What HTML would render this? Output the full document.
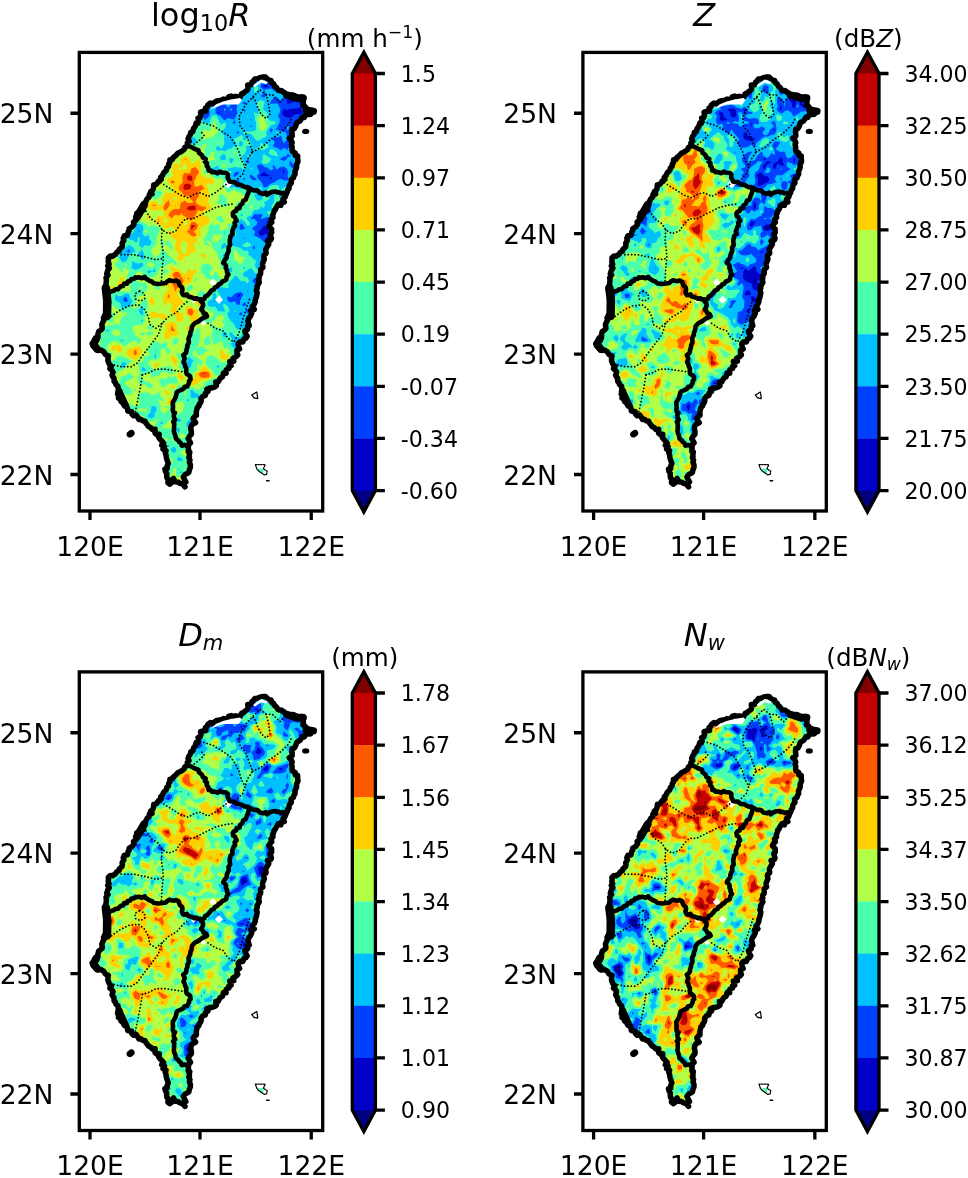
<!DOCTYPE html>
<html lang="en"><head><meta charset="utf-8"><title>Taiwan DSD maps</title>
<style>html,body{margin:0;padding:0;background:#fff}svg{display:block}</style></head><body>
<svg width="968" height="1178" viewBox="0 0 968 1178">
<rect width="968" height="1178" fill="#fff"/>
<defs>
<clipPath id="isl"><polygon points="261.1,76.1 269.3,79.3 275.2,86 282.7,92 287.1,95 296.1,97.9 302,97.2 304.3,104.6 306.5,109.9 313.2,111.3 306.5,115.8 297.6,122.5 292.4,131.4 290.9,140.4 293.1,149.3 297.6,158.2 297.1,165 295.7,171.9 289.7,182.3 286.7,192.7 282.3,203.2 273.3,210.6 271.8,219.5 268.9,225.5 271.8,232.9 267.4,243.3 264.6,255.2 262,267.1 261.1,270 258.9,281.9 256.6,295.3 252.9,308.7 248.5,320.6 245.5,331 246.2,338.5 239.5,344.4 236.5,354.8 230.6,365.2 224,373.5 218,382 212.5,388 203.5,394.5 199,404.6 194.6,416.5 190.9,428.5 189.6,436 189.1,444.9 189.1,454.8 189.6,462.7 188.6,471.7 183.7,476.6 185.6,481.6 184.6,487 179.7,482.6 173.7,480.6 169.8,484.1 166.8,477.6 165.8,469.7 167.8,461.7 165.8,452.8 162.8,444.9 159.8,436.9 153.9,430 151.4,427 142.5,421 132.1,413.6 124.6,404.6 117.9,395.7 117.2,386.8 112,374.9 109,363 108.3,360.1 105.3,352.7 96.4,349.7 92.6,343.8 96.4,339.3 100.5,330.4 103.8,319.9 106.9,309.5 106.9,299.1 105.5,293.2 106.3,279.8 108.3,267.9 108.3,257.4 118.7,251.5 125.8,236.7 131.8,226.3 137.7,215.9 143.9,205.5 149.9,195.1 154.5,186.1 160.5,178.7 166.2,169.8 170.7,160.8 176.4,154.9 183.7,148.9 187,145 190.4,134.4 194.9,125.5 199.3,116.5 206.8,106.9 217.2,101.7 229.1,97.9 239.5,96.5 245.5,92 249.9,83.8"/></clipPath>
<g id="lines" fill="none" stroke="#000" stroke-linejoin="round" stroke-linecap="round">
<path fill="#fff" stroke="none" d="M209.2 282.4l3.8 -3.8l3.8 3.8l-3.8 3.8zM215 299.8l4 -4l4 4l-4 4zM223.5 184l4.5 -4.5l4.5 4.5l-4.5 4.5zM191.1 301l2.4 -2.4l2.4 2.4l-2.4 2.4zM200.7 323l2.8 -2.8l2.8 2.8l-2.8 2.8z"/>
<polygon points="260.4,77.4 263.3,77 265.5,77 266.5,78.2 268.8,80.1 271.1,80.5 271.8,82.9 273.5,83.7 274.9,86.4 276.4,87.3 278.1,90.2 281.8,90.8 282.2,91.6 284.3,92.6 286.6,95.8 290,95.2 292.3,95.1 294.1,95.3 296.6,96.7 298.1,99.3 300,98.2 301.4,97 303.8,97.8 303.1,102 303.4,102.6 302.8,105.4 305,106.5 305.8,108 307,108.7 309.3,110.4 310.2,110.3 312.6,111.8 312,112.5 310.8,114.2 308.8,114.6 305.8,114.6 304.1,117.5 302.2,117.3 300.7,119.8 300.1,120.8 296.9,122.6 296.4,123.7 295.8,125.9 294.4,128.5 292.1,129.2 291.9,131.6 292,133.6 292.3,136 289.2,138.2 291.1,140.1 292.2,142.6 291.5,144.3 292.1,146.9 292,149.9 292.5,151.6 295.2,152.9 295.1,155.3 297.7,156 297.6,158 298,161.3 297.6,162.4 296.5,164.9 296.6,167.7 295.7,169.7 294.9,171.6 295.1,174.1 293.7,176.4 293.4,177.9 291.1,179.7 291.3,182.9 289.7,184.8 289.1,186.1 289,188.6 287.6,190.3 287.2,192.2 286.1,194.1 285,197.3 282.9,199.3 284.3,202 281.3,202.6 280.9,205.4 278.2,204.4 276.2,207.6 275.3,209.8 274.3,210.4 273.6,213 272.6,215.5 273,217.4 270.9,219.4 271.8,222.3 270.2,223.8 268.8,226.1 269.2,226.6 271.6,229.1 271.5,231.4 271.7,232.5 270.2,234.3 271.4,238.6 270.6,240.1 267.5,241 268.8,244.1 268.3,245 266.7,247.7 265.7,249.5 265.9,251.2 266.1,253.3 264.1,255 263.8,256.8 264.3,259.3 263.4,261.4 262.5,263.9 262.6,265.1 262.9,267.4 260.6,269.6 260.7,272.3 260.5,273.8 259.1,275.8 259.2,278.4 258.3,279.6 259.3,282.1 258.8,283.3 257,286.2 257.2,288 256.3,290.4 257.2,292.5 256.8,295.2 256.1,297.8 255.2,300.2 255.3,301.7 254.1,304.5 252.3,306.5 254.3,309.4 250.9,310.3 251.8,313 251,315.1 249.8,317.2 248.9,318.2 247.9,320.9 248.4,322.6 249.2,325.7 247.5,326.1 247.7,329.3 244.8,331 245.3,333 247.2,336.3 245.9,338.2 244.1,338.8 242.8,342 240.1,341.7 238.1,343.7 238.6,346.3 239.6,349.1 236.9,350.3 237,353.3 237.8,354.8 236.1,356.7 233,358.5 233.8,361.2 229.7,361.6 231.1,365.7 228.8,366.6 228.9,368.6 226.2,369.8 226.1,373.2 223.5,373 222.9,375.4 222.5,376.8 220.5,377.9 219.3,379.6 218.1,382 215.8,382.1 216.4,385.6 214.8,387 212,387.9 210.1,387.9 206.8,389.2 208,391.4 205.3,393.3 205.4,395.4 202.9,396.3 201,398.7 201.2,400.8 200.6,402.5 198.9,404.8 199.1,405.8 197.3,407.7 196.4,411.3 196.3,412 196.4,415.5 194.5,416.7 193.2,418.2 193.8,420.2 195.6,422.7 192.2,424.4 191.2,426.3 190.7,428.8 191.3,431 191.4,434.2 189.6,436.2 188.1,438.6 189.4,440.8 190.5,442.9 189,444.2 187.9,446.6 188.5,448.7 188.2,451.4 189.8,452.1 189.2,455.2 189.5,456.5 188.8,457.5 190,460.1 189.4,462.3 190.4,464.9 190.4,467.3 189.5,469.3 188.8,472.4 186.9,473.6 185.3,474.4 183.3,476.9 184.3,479 185.9,482 183.2,483.6 185,486.8 183.3,484.9 182.9,484.2 180,483.3 178,482.1 175.2,481.7 173.5,478.5 171.8,482.7 169.9,484.2 167.9,482.8 168.2,479.1 166.9,478 166.6,475.7 166.8,473.5 165.5,471.7 164.9,469.1 167.2,468.5 167.1,466.2 168.3,463.5 167.5,461.3 167,459.8 166.3,457.4 166,455 165.2,452.7 166,450.7 163,449 164.5,446.6 161.7,445.2 163.6,443.2 161.8,440.9 159.8,439 158.8,437.6 159.2,434.3 156.8,434.6 155,433.1 155.1,429.2 152.3,429.6 151,427.9 148.3,426.3 147.8,425.4 145.7,422.8 145.1,421.3 142.6,420.8 140.9,419.3 139,419.6 137.8,417.5 136.3,415.1 133.4,415.7 131.8,413.9 131.7,411.8 127.7,411 127.4,408.2 126.5,406.2 125.4,404.5 123.5,403.1 120.9,401.4 121.5,399.7 118.4,398 118.9,395.9 117.6,394.1 119.8,390.9 118.2,388.7 117.9,386.2 115.9,384.6 115.3,382.3 114.1,381.3 114,378.1 113.1,377.1 112,375.1 113.1,372.1 112.1,370.5 109.9,368.6 111.4,366.3 109.4,364.5 108.6,362.7 107.9,360.7 108,357.9 108.4,355.9 106.3,355 105.5,354.6 103.7,351.7 100.6,350 97.8,350.5 96.3,349.2 94.7,347.5 93,346 92.2,343.6 94.4,342.6 95.3,340.5 96.8,340.2 98,337 97.9,334.4 98.7,331.5 100.3,330.4 102.2,328.7 102.2,326.8 101.8,324.5 103.1,321.5 104.1,319.6 103.4,317.9 104.7,315.4 106,313.8 106.8,311.8 106.9,308.9 106.4,307.3 108.4,305.3 107.5,303.5 108.7,302.2 106,299.8 107.8,296.6 105.9,295.8 105.8,293.2 105,291.6 104.8,288.6 106.2,286.5 105.8,285.1 106.2,282.5 106.4,279.6 106,277.8 108,275 106.7,273.9 107.9,270 109.3,268.2 107.7,266 109.1,264.2 108.2,262 108.5,260.2 108.3,257.8 110.5,255.9 112.3,256.3 115.2,254.5 117,252.1 119.1,251 119.1,249.5 122.1,246.9 122.4,245 122.1,243.4 123.9,240.2 123.2,238.3 124.3,235.8 127.4,235.5 128.2,231.8 129.1,230.9 129.1,228.6 132.2,226.9 134,224.3 133.5,222.1 136,220.3 136.4,218.7 138.2,216.7 136.8,213.4 140.6,211.8 140.2,211 143.5,209.9 142.4,207.5 143.4,204.5 144.8,203.5 146.3,200.5 147.2,198.8 149,197.2 149.3,194.5 152.1,194 150.7,191.6 152.8,189.9 153.5,187.9 153.7,185 156.1,184.4 157.9,182.2 158.8,180.9 161.3,179.4 160.7,177.2 162.5,175.5 163.6,172.9 165.3,171.2 166.4,170.1 166.7,168.1 168.5,166.5 168.7,163.9 169.8,162.8 169.9,159.7 172.3,159.5 173,157.8 174.9,156.2 176.3,154.9 178.1,153 179.9,152.3 182.6,150.7 184.2,149.4 184.9,147.2 187.4,146.1 187.3,142.9 189.1,141 188,139 189.1,136.3 190.4,134.5 190.7,132.4 192.8,131.7 193.5,128.4 194.4,127.7 195.3,126.1 196.1,123.1 197.9,123.3 198.5,119.6 198,118 200.2,117.5 200.9,115.2 200.5,112.1 203.2,111.3 206,111 205.4,108.1 207.3,106.9 207.8,104.9 210.4,103.1 212.8,103.9 214.6,102.3 216.8,100.9 219.6,100.5 220.9,100.8 223.5,99.1 225.4,99.5 228,98.9 228.6,96.9 231.2,96 232.9,97 235.6,96.3 237.2,96.7 239.8,97.7 241.8,93.4 243.1,93.4 244.9,91.7 247.4,90 248.1,88.2 247.7,85.1 251.1,84.7 252,82.2 253.4,81 254.8,79.1 257.4,78.8 260.3,77.5" stroke-width="5.5"/>
<path fill="#fff" stroke="none" d="M210 109.5L216 104.5L223 101.5L231 99.5L240 98L242 100L238.6 104.6L223 104.6zM253 85.5L261 79.5L268 82L266 84.2L261 82.8L255 87z"/>
<polyline points="105.8,288 107.2,300 107,316" stroke-width="8.5"/>
<polyline points="137,217 144,205" stroke-width="8"/>
<polyline points="96,339 93.5,344 97,349" stroke-width="7.5"/>
<polyline points="287,95 296,98 303,98" stroke-width="7.5"/>
<polyline points="306,110 313.5,111.3" stroke-width="7"/>
<polyline points="119,392 125,405" stroke-width="7.5"/>
<polyline points="186.6,146 188.6,145.9 191.2,147 193.2,148.1 195.4,149.2 198.4,150.1 199,152.9 200.5,153.9 202,155.2 202.9,157.6 205.7,159 204.9,161.7 206.9,163.1 206.7,165.7 208.2,167.5 208.7,170.5 210.7,170.5 211.7,172.2 214.6,172.1 217.4,173.2 220.3,171.6 221.4,172.5 223.7,172.7 226.2,173.1 227.9,174.5 227.6,177.6 228.7,179.6 229.5,181.5 231.7,182 234.3,182.1 237,184.4 239.6,184.7 241.4,185 242.9,186.1 245.8,187.3 247.9,187.1 250,188.4 251.7,189.5 253.6,190.4 256.5,190.3 258.2,191.1 259.6,193 262.1,193.5 263.4,193.8 265.8,192.7 267.1,194.8 269.2,193.2 271.1,192.3 273,191.7 276,191.6 276.8,192.5 279.4,192.4 281.1,193.5 283.1,192.8 285.3,193.9 286.6,193.5" stroke-width="4.6"/>
<polyline points="248.4,188.8 248.9,190.5 248.2,193.1 247.4,195 246.6,197.1 245.8,199.6 243.3,200.8 242.8,202.3 242.1,203.9 240,205.3 239.6,208.1 236.8,208.5 236.3,210.9 233.9,211.8 232.8,213.3 233.2,216.2 234.8,216.8 235.3,218.3 236.7,220.9 234.6,222.8 235.2,225.7 233.9,226.8 233,229.3 232.2,231.5 232.7,233.9 230.5,236.3 230.1,238.8 229.7,240.5 229.8,242.6 230.2,244.8 228.5,247.5 228.7,249.8 228.6,251.4 227.7,252.9 226.7,255.6 226.7,257.6 225.2,259.5 224.1,260.9 223.2,262.9 225.4,264.5 226.1,266.1 225.8,268.2 227.1,270.4 226.9,272.1 228.4,274.5 226.7,276.7 226.3,279.5 224.5,280.7 222.4,281.5 220.3,284 218.9,284.3 217.1,286.5 214.9,287.3 213.9,289.5 211.3,290.6 210.1,292.5 208.5,294.1 207.3,295.6 205.2,296.4 204.4,298.7 203,299.5" stroke-width="4.6"/>
<polyline points="105.9,294.2 107,292.8 109.4,291.9 111.4,291.4 113.5,290.8 115.5,289.4 118.2,289.2 119.2,287.9 120.5,286.6 122.9,286.1 124.2,283.6 126.9,283.7 127.7,281.4 130.2,281 131.5,279.1 134.2,278.7 135.4,277.4 137,277.6 139.5,277.3 141.9,278.3 144.7,276.8 145.5,278.3 147.8,279.7 149.9,281 151.4,281.3 154,283.5 156.5,283.7 158.1,284 160.3,283.8 162.6,283.4 165.9,282.9 167.7,281.2 169.4,280.1 171.2,280.8 174.3,281.2 176.3,280.5 178.5,281.7 179,283.6 179.9,285.5 182.1,287.4 182.5,289.6 181.8,292 183,294.8 184.3,295.2 186.8,294.4 188.2,296.5 190.3,297 192.2,297.6 193.9,298.6 197,298.4 198,299.3 200.6,299.2 200.9,301.5 202.7,302.8 203.1,305 202.4,307.4 201.1,309.5 202.7,310.9 203.6,313.1 206.1,314.2 207.1,316.2 205.7,317.1 203,318 201.1,319.3 199.6,320.5 197,322.2 195.3,322.8 193.6,324.4 192,326.5 191.8,327.9 191.4,330.5 190.3,332.8 190.3,334.8 189.3,336.5 188.5,338.7 188.9,341.3 188.7,343.1 187.5,345.2 187.4,347.3 186.5,349.6 186.4,351.6 185.6,353.2 183.2,355.3 184.8,358.5 184.2,360 183.5,362.2 184.8,364.2 185.1,366.2 186.4,368.6 186.1,371.4 186.6,373.7 188.6,375 190.2,376.5 190.6,379.6 189.1,380.9 189.1,382.8 187.9,385 187.2,386.5 184.5,386.8 183.7,388.6 181.8,389.7 179.9,390.5 177.6,391.5 176.7,392.7 176.3,394.7 175.6,397.3 174.7,399.1 174,400.3 172.8,402.3 172.8,404.5 173,406.9 172.8,409.5 173.1,411.7 175,412.8 173.7,415.3 174,417.8 175.3,419.7 173.2,421.6 174.3,423.8 174.1,425.9 174.1,429.2 173.8,431 174.5,433.5 175.4,435.6 175.7,437.3 175.9,438.7 178.4,440.6 179.2,442 180.7,442.9 181.8,445.7 184.4,445.1 186.8,445.6 189,446.4" stroke-width="4.6"/>
<polyline points="200.5,122 213,125.8 222.9,132 230.3,137 235.3,144.4 239,151.8 241.5,160.5 245.2,166.7 242.7,174 237.7,179" stroke-width="1.75" stroke-dasharray="0.1 3.3"/>
<polyline points="194.3,144.4 200.5,139.4 204.3,135.7 200.5,131" stroke-width="1.75" stroke-dasharray="0.1 3.3"/>
<polyline points="242.7,109.7 239,117 240.2,127 245.2,132 248.9,141.9 252.6,151.8 247.6,159.3 245.2,166.7" stroke-width="1.75" stroke-dasharray="0.1 3.3"/>
<polyline points="242.7,109.7 247,103 252.6,97.3 260,89.8 266.2,94.8 268.7,104.7 270,114.6 266.2,118.4 261.3,114.6 257.6,107.2 255,99.8 252.6,97.3" stroke-width="1.75" stroke-dasharray="0.1 3.3"/>
<polyline points="266.2,94.8 272.4,94.8 279.9,102.2 284.8,97.3" stroke-width="1.75" stroke-dasharray="0.1 3.3"/>
<polyline points="252.6,151.8 262.5,146.9 268.7,140.7 276.2,135.7 282.4,130.7 288.6,124.5 291,119.6" stroke-width="1.75" stroke-dasharray="0.1 3.3"/>
<polyline points="160.9,182.8 170.8,189 180.7,195.2 188.1,197.7 194.3,194 200.5,192.7 208,196.5 215.4,192.7 221.6,187.8 226.6,184" stroke-width="1.75" stroke-dasharray="0.1 3.3"/>
<polyline points="146,211.3 151,218.8 158.4,223.7 162.1,229.9 168.3,233.6 175.7,231.2 180.7,223.7 185.7,218.8 193.1,218.8 200.5,215 208,211.3 215.4,207.6 225.3,205.1 232.8,203.9" stroke-width="1.75" stroke-dasharray="0.1 3.3"/>
<polyline points="162.1,229.9 161.4,241 162.9,251 163.3,258.4 162.1,268.4 161.4,280.8" stroke-width="1.75" stroke-dasharray="0.1 3.3"/>
<polyline points="121.2,254.7 133.6,254.7 146,257.2 155.9,259.7 163.3,258.4" stroke-width="1.75" stroke-dasharray="0.1 3.3"/>
<polyline points="108.8,318.4 118.7,310.9 128.6,306 138.5,304.7 144.7,309.7 148.5,317 149.7,324.5 155.9,328.3 162.1,323.3 168.3,317 177,312 183.2,304.7 188.1,301" stroke-width="1.75" stroke-dasharray="0.1 3.3"/>
<polyline points="139.8,291 144.3,293.5 144.8,298.5 140.5,301.2 135.5,299 134.8,294 139.8,291" stroke-width="1.75" stroke-dasharray="0.1 3.3"/>
<polyline points="162.1,323.3 158.4,334.5 151,344.4 143.5,354.3 137.3,363 131.1,366.7 121.2,366.7 111.3,364.2" stroke-width="1.75" stroke-dasharray="0.1 3.3"/>
<polyline points="142.3,374.9 140.5,386.5 138,398.9 135.3,412" stroke-width="1.75" stroke-dasharray="0.1 3.3"/>
<polyline points="142.3,374.9 148.5,372.9 155.9,369.2 165.8,369.2 173.3,370.4 182,371.7" stroke-width="1.75" stroke-dasharray="0.1 3.3"/>
<polyline points="208,323.3 215.4,328.3 222.9,330.7 227.8,338.2 234,341.9 239,333.2 242.7,319.6 247.6,304.7 250.1,297.3" stroke-width="1.75" stroke-dasharray="0.1 3.3"/>
<ellipse cx="305.7" cy="131.4" rx="3.6" ry="2.7" fill="#000" stroke="none"/>
<ellipse cx="130.6" cy="433.7" rx="4.3" ry="3.3" transform="rotate(-35 130.6 433.7)" fill="#000" stroke="none"/>
<polygon points="251.7,395 256.8,392.1 257.8,398.7 254,397.8" stroke-width="1.3" stroke-dasharray="1.6 1"/>
<polygon points="258.2,468.3 263.4,469 263.4,473.5 260,472.5" fill="#49ffad" stroke="none"/>
<polygon points="255.4,464.6 265.2,464.6 263.4,468.8 267.1,471.1 266.6,474.4 264.3,474.9 258.7,471.1 256.8,468.8" stroke-width="1.3" stroke-dasharray="1.4 1.2"/>
<path d="M266.6 480.7h2.4" stroke-width="1.5"/>
</g></defs>
<g transform="translate(0,0)">
<g clip-path="url(#isl)"><g transform="scale(.5)">
<rect x="160" y="130" width="500" height="880" fill="#000080"/>
<path fill="#0000c8" d="M515 142l2-2 5 0 4 0 2 2 7 0 5 5 2 2 4 4 2 2 5 5 2 2 4 4 2 3 7-1 5 5 2 2 6 0 5 5 2 2 6 0 7 0 4 4 3 2 4 5 2 1 5 5 2 3 4 4 0 7 2 2 5 4 2 2 4 5-4 4-2 2-5 5-2 2-4 4-7 0-2 3-4 4-2 2-5 5-2 2 0 6 0 7 0 7 0 6 0 7 0 6 2 3 4 4 0 7 3 1 5 5 0 7-5 5-2 1 0 7 0 7-5 5-2 1 0 7-5 5-2 1 0 7 1 7-5 5-2 1 0 7 0 6-5 5-2 2-4 5-2 2-5 4-2 2-5 5-2 2 1 6 0 7-5 5-2 2 0 6 0 7 2 2 5 4-1 7-4 4-3 3 1 6-5 5-2 2 1 6 0 7-1 7-4 4-2 2 0 7 0 6 0 7-5 5-2 2 0 6 0 7 0 6 0 7 0 7-5 4-1 2-1 7 1 6-1 7-4 5-2 2 0 6 0 7-5 5-2 1 0 7 1 7-5 5-3 1 1 7 0 6-1 7 1 7-5 5-2 1-5 5-1 2 0 6-5 5-2 2 0 7 0 6-5 5-2 2 0 6-4 5-2 2-5 5-2 2-5 4-1 2 0 7-5 5-2 1-5 5-1 2-5 5-2 2-5 4-2 2-5 5-1 2-5 5-2 1-5 5-2 2 0 7 1 6-5 5-2 2 0 6-5 5-1 2-1 7 1 6-6 5-1 2-1 6 1 7 0 7 0 6 0 7 0 6 0 7 0 7 0 6 0 7 0 6 0 7 0 7-5 5-2 1-5 5-1 2 0 6 1 2 5 5-5 5-1 2-5 5-2 1-5 6-7-1-5-5-1-1-7 0-6 0-7 0-5-5-2-2-5-5-1-1-5-6 0-6 0-7 0-6-1-7 1-7 0-6-1-7 0-6-1-2-5-5 0-7 0-6-1-1-6-6 0-6-1-2-5-5-2-1-5-6-1-1-7 0-5-5-1-1-6-6-1-1-7 0-5-5-1-2-5-5-2-1-5-6 0-6-1-1-6-6-1-1-5-5-2-2-5-5-1-1-5-6-1-6 0-7 1-6 0-7-2-1-5-6 0-6-1-2-6-5 0-6 0-7 1-7-2-1-5-5-2-2-5-5-1-1-5-5-2-2-5-5-1-1-6-6 0-6 0-7 6-5 1-1 0-7 5-5 2-2 0-6-1-7 6-5 1-1 0-7 0-7 5-5 2-1 0-7 0-6 0-7 0-7-2-1-5-5 0-7 5-5 2-1 0-7 0-7 0-6-1-7 1-6 0-7 0-7 0-6 0-7 5-5 1-1 6-6 1-1 5-5 7 0 2-2-1-6 5-5 2-2 0-6 5-6 2-1-1-7 6-5 1-1 5-5 2-2 0-6 5-5 1-2 0-7 5-5 1-1 1-7 5-5 1-1 6-6 1-1 0-7 5-5 2-1 0-7 5-5 1-1 0-7 5-5 2-2 5-5 1-1 6-5 1-2 0-6 5-6 1-1 0-7 6-5 1-1 5-6 2-1 5-5 1-1 6-6 1-1 5-5 2-2 5-5 1-1 1-7 4-5 2-1 1-7-1-7 5-4 2-2 0-7 5-4 1-2 0-7 5-5 2-2 5-4 2-2 0-7 4-4 2-2 5-5 2-2 5-4 2-3 4-4 7 0 2-2 4-5 7 0 7 1 2-3 4-4 7-1 6 1 7 0 7 0 2-2 4-5 2-2 1-7 4-3 1-3 5-5 2-2 5-5 7 1 2-2z"/>
<path fill="#0040ff" d="M515 145l4-5 3 0 2 0 4 3 7 0 3 4 4 3 2 3 4 4 3 3 4 4 2 2 4 5 7-1 3 3 4 3 6 2 2 2 5 4 6 1 7-1 2 2 5 5 2 2 4 3 3 3 4 5 2 2-1 7 5 4 3 2 4 5 2 2-2 2-4 4-3 3-4 4-2 2-7 0-4 5-2 2-4 4-3 3-4 4 0 6 0 7 0 7 0 6 0 7 1 6 3 5 2 2 0 7 5 3 3 3 0 7-3 3-4 3 0 7 0 7-3 3-3 3 0 7-4 3-4 3 0 7 1 7-3 3-4 3 1 7 0 6-4 4-3 3-3 3-4 4-3 3-3 3-4 3-5 4 2 6 0 7-3 3-4 4 0 6 0 7 4 3 3 3-2 7-1 1-6 6 1 6-2 2-4 5 1 6 0 7-1 7-2 2-4 4 1 7 0 6-1 7-3 3-3 4 0 6 0 7-1 6 0 7 0 7-3 3-3 3 0 7 0 6 0 7-3 3-4 4 0 6 1 7-4 3-3 3 0 7 0 7-3 3-6 3 2 7 0 6-1 7 1 7-3 3-3 3-4 3-3 4 0 6-3 3-3 4 0 7 0 6-4 4-3 3 0 6-3 4-4 3-3 3-4 4-3 2-3 4 0 7-3 3-4 3-3 3-3 4-3 4-4 3-3 3-3 3-4 3-3 4-3 3-4 3-3 4-3 3-1 7 1 6-3 3-3 4 0 6-4 4-3 3 0 7 0 6-4 4-2 3-2 6 1 7 0 7 1 6 0 7-1 6 0 7 1 7 0 6 0 7 0 6 0 7 0 7-4 4-3 2-4 4-3 3 0 6 3 3 4 4-4 4-2 3-4 4-3 2-4 4-7 0-4-4-2-2-7-1-6 1-7 0-4-4-3-3-4-4-2-3-4-4 0-6 0-7 0-6 0-7 0-7 0-6 0-7 0-6-3-3-4-4 1-7 0-6-3-3-4-4 0-6-3-3-4-4-3-2-4-5-2-2-7 0-4-4-2-2-5-5-2-2-7 0-4-4-2-3-4-4-3-3-4-4 0-6-2-3-4-4-3-2-4-4-3-3-4-4-2-3-4-4 0-6 0-7 0-6 0-7-3-3-4-4 1-6-3-3-4-4 0-6 0-7 0-7-3-2-4-4-3-3-4-4-2-3-4-3-3-3-3-4-3-3-4-4 0-6 0-7 4-4 2-2 0-7 4-4 3-3 0-6 0-7 4-4 2-2 0-7 0-7 4-4 3-2 0-7 0-6 0-7 0-7-3-2-3-4-1-7 4-4 3-2 0-7 0-7 0-6 0-7 0-6 0-7 1-7-1-6 0-7 4-4 2-2 5-5 2-2 4-4 7 0 3-3 0-6 3-3 3-4 0-6 4-4 3-3 0-7 4-3 3-3 3-3 3-4 0-6 4-4 2-3 0-7 4-4 2-2 1-7 4-4 2-2 5-5 2-2 0-7 4-3 3-3 0-7 4-4 3-2 0-7 3-4 3-3 4-3 3-3 4-4 2-3 0-6 4-4 2-3 1-7 4-4 2-2 4-4 3-3 4-4 2-2 5-5 2-2 4-4 3-3 4-4 3-2 0-7 3-3 4-3 1-7-1-7 3-3 3-3 1-7 3-2 3-4 0-7 3-3 4-4 3-3 4-3 0-7 2-2 4-4 3-3 5-4 2-2 5-5 1-1 7-1 4-4 2-2 7-1 7 1 4-5 2-2 7-1 6 0 7 2 7-1 4-4 2-2 4-5 2-7 1-1 3-5 3-3 4-4 3-3 7 1 4-4zM502 166l0 1 1-1-1 0zM526 173l2 2 7-1 3-1-3-2-7-2zM574 199l0 7 1 1 6 0 1-1 6-2 4-5-4-4-7 2-6 2zM598 206l3 5 5-5-5-3zM567 219l-3 7 3 6 1 1 7 2 6 1 5-4 2-2 6-2 7 1 4-3-2-7-2-5-7 3-6 0-7 1-4 1-2 2-3-2-4-1zM435 226l1 0 3 0-3-2zM561 252l0 1 3-1-3-1zM567 338l-1 7 2 1 1-1-1-7zM527 345l-5 4-1 2 1 2 6-1 7 1 6-2-6-2-5-4-2-2zM540 358l2 1 2-1-2-5zM531 444l4 1 1-1-1-3zM524 457l-2 3-5 3 2 7 3 2 5-2 1-1 7-2 1-4 1-6-2-1-7-5zM532 477l3 4 3-4-3-6zM476 589l-1 6 1 1 0-1 6-6-6 0z"/>
<path fill="#00c0ff" d="M522 140l6 5 7 0 1 2 6 5 0 1 6 5 2 2 5 6 4 7 2 2 2-2 5-1 1 1 6 5 6 2 6 6-6 4-4 3-2 1-6-1-1-1 0 1-3 6-4 2-3-2-3-4-7-1-3 5-3 3-2 4 2 2 6-1 7 0 3 6 3 6-2 7-3 6 4 7-1 7-4 6 0 2-4 5 4 1 6 2 7 2 4 1 2 7 0 7-5 6-1 2-1-2-3-6-1-7-2-1 0 1-6 3-7-1-3 5 3 3 2 3-2 3-2 4 2 2 7 2 3 2 3 3 4-3 3-2 5 2 2 5 0-5 6-5 7 1 4-2-4-5-6-2 4-6-4-7 2-7-1-6 5-3 4-4 2-3 7-2 1 5-1 1-6 6 0 6 0 7 0 7-1 6 1 7 1 6 2 7 0 7 3 3 7 2 1 1 0 7-1 2-6 4-1 7 2 7-2 1-5 5 0 7-2 2-6 3-7-1-3 2 2 7 1 2 7-2 1 7-1 1-5 5 0 7 0 6-2 2-5 5-1 1-6 6-1 1-5 5-2 2-6 3-2 2 2 2 1 4 0 7-1 2-5 5-1 6 0 7 6 5 1 1-1 4-7 0-6-2-1-2 1 0 3-6 0-7-2-6-1-3-3-4-4-3-7 2-2 1-4 1-1-1 1-1 3-6-3-2-7 1-6-1-1 2-6 7-1 0 1 1 7 0 6 6-2 6-4 3-5 4 5 5 1 1-1 5-2 2 2 1 6 3 5 3 2 1 5 5 1 1 7 5 3 1 4 0 2 6 0 7-2 7-5 6 1 7-1 6-1 7-1 1-5 6 0 6 0 7-1 6 0 7 1 7-2 1-4 5-1 7 0 6 0 7-1 1-6 6 0 6 1 7-2 2-5 4 0 7 0 7-1 1-7 1-7-2-3 6 3 6 7-2 1 3 0 6-1 5-7 0-2 2 2 2 7-1 2 6-2 1-5 5-2 2-4 5-1 6-1 2-5 5 0 7 0 6-2 2-5 5 0 6-1 2-5 5-2 2-6 5-1 1-4 5 0 7-2 2-6 4-1 2-4 5-2 2-6 5-1 1-5 5-2 2-5 5-1 1-5 5-2 2-5 5-1 7 1 6-1 2-5 5 0 6-2 2-4 5-1 7 1 6-3 2-4 5-2 6 1 7 0 7 1 6 0 7 0 6-1 7 2 7 0 6-1 7 0 6 0 7 0 7-2 2-4 4-3 3-4 4 0 6 4 4 3 3-3 3-4 4-2 2-4 4-3 3-7 0-2-3-4-4-7 0-6 0-7 0-3-2-4-4-2-3-4-4-3-3 1-6-1-7 1-6-1-7 1-7-1-6 0-7 0-6-4-4-2-3 0-7 0-6-4-4-3-3 0-6-4-4-3-3-4-4-2-3-4-3-7 0-3-3-3-3-4-4-3-3-7-1-2-2-4-5-3-2-4-4-2-3 0-6-4-4-3-3-4-4-3-2-4-4-2-3-4-4-3-3 0-6 0-7 0-6 0-7-4-4-2-3 0-6-4-4-3-3 0-6 0-7 1-7-5-3-3-3-4-4-2-3-4-5-2-1-5-5-2-2-4-4-3-3 0-6 0-7 3-2 4-4-1-7 3-3 4-4 0-6 0-7 3-3 3-3 1-7 0-7 2-2 4-4 0-7 0-6 1-7-1-7-4-4-2-2 0-7 2-2 4-4 1-7-1-7 0-6 0-7 0-6 0-7 1-7-1-6 0-7 3-3 3-3 4-4 3-3 3-3 7 1 5-5 0-6 1-2 5-5 0-6 2-3 5-4-1-7 3-2 5-4 1-1 5-6 0-6 2-2 3-5 0-7 3-3 4-3 0-7 3-3 3-3 4-4 3-3 1-7 2-2 4-4 0-7 3-2 4-4 0-7 2-2 5-5 2-2 4-4 3-2 3-5 0-6 3-3 4-4 0-7 3-3 4-3 2-3 4-4 3-3 3-3 4-4 3-3 3-3 4-4 3-2 4-4 1-7 1-1 6-5 1-7-1-7 1-1 5-5 1-7 1-1 4-5 1-7 1-1 6-6 1-1 5-5 1-7 4 0 3 4 2 3 1 6 3 7 1 1 1-1 5-4 2-3 2-6-2-7 4-6 1-4 0-3 0-4 0-3 6-5 2-1 5-1 5 1 2 5 1 1-1 1-3 6-4 6-2 1-3 6 0 7 5 4 5 2 2 2 4 5 2 2 3-2 4-3 6 2 7 1-4 7 4 2 2-2-2-7 3-7 3-6-2-7 1-6 1-7-1-7-1-6 3-5 6 1 2-3 0-6 4-7 1-2 6-1 7 2 7-3 6-3-6-6-7 2-7 2-1-4 1-2 5-5 2-1 7 1 6-4 1-2 5-7zM523 166l-1 4-1 3 1 2 6 5 7-2 7-1 4 3 2 3 2-3-2-2-2-5-3-7-1 0-7-1-7-2zM495 180l0 6 0 1 2-1 1-6-3-1zM527 186l-5 6-1 1 1 0 6 2 3-2 0-7-3-6zM484 206l5 3 4-3-4-2zM487 219l2 7 2-7-2-1zM501 239l1 2 1-2-1-1zM482 246l1 0-1-1zM500 252l2 2 3-2-3-1zM540 259l1 6 1 2 0-2 4-6-4-2zM473 265l3 3 2-3-2-3zM494 272l1 1 4-1-4-1zM378 285l5 1 2-1-2-2zM515 292l0-1zM573 312l-5 1-7 4-1 1 1 1 7 3 6-4 1-4 6-1 0-1 0-1-6-4zM494 325l1 1 5-1-5-7zM579 325l0 6 2 2 6 5 1 1 6 0 3-1 1-7-3-6-1-1 0 1-6 4-5-4-2-5zM514 331l1 6 1 1 3 7-4 5-1 1 1 4 1 3 6 5 1 1 3 7 2 4 7-2 2-2 5-4 6-2 1-1 6-4 6-2 0-1 1 1 6 3 7 0 2-3-2-7 2-6-2-5-1-2-6-5-7 1-6 4 0 1-3-1-3-7-1 0-3 0 2 7-5 3-4-3-3-3-7-1-2-3-4-3-7 2zM471 345l-2 1-2 5 2 4 4-4 3-2 2-4-2-2zM499 351l3 7 7 3 5-3-5-3-4-4-3-2zM486 358l3 3 1-3-1-3zM467 364l2 1 7 2 4-3-4-5-7 4zM561 364l1 0-1-3zM522 384zM480 450l-1 7 3 3 7-2 1-1-1-2-3-5-4-4zM276 463l2 1 1-1-1-3zM487 477l2 1 1-1-1-2zM505 496l4 3 1-3-1-6zM253 503l5 2 2-2-2-5zM528 503zM508 510l1 0 0-1zM521 549l1 1 1-1-1-1zM510 556l-1 0-5 6 5 5 6-3 3-2-1-6-2-2zM494 582l1 2 1-2-1-1zM468 589l-6 6-6-2-2 2 2 6 0 1 6 3 7-3 5 7 2 1 4-1 0-7 2-4 1-3 4-6-5-5-6 1-7 3zM510 589l5 2 2-2-2-2zM247 595l0 7 4 2 5-2-3-7-2-2zM429 602l0 1 3-1-3-1zM484 609l5 4 4-4-4-5zM507 609l2 0 2 0-2-5zM491 622l4 4 5 2 2 1 1-1 1-6-2-3-7 0zM477 628l5 3 3-3-3-4zM475 635l1 1 0-1 0-2zM470 688l6 2 1-2-1-4zM403 807l2 0-2-2zM449 186l7-1 6 0 3 1-2 7-1 3-5 3 5 5 1 2-1 1-3 6-3 2-3-2-1-7 3-7-6-3-4-3 4-7zM594 193l7-4 5 4-5 2-7-2zM614 198l2 1 5 7 0 1-7 0 0-1-6-7zM403 212l5 1-5 3-1-3zM449 216l3 3-3 4-1-4zM462 216l3 3-3 3-2-3zM608 218l6-1 2 2-2 2-6-1-1-1zM627 219l1 0-1 3-1-3zM601 232l7-1 1 1-1 2-7 1-2-3zM621 229l6-2 2 5-2 2-6 5-1 0-3-7zM608 243l0 3-4 0zM575 251l3 1-1 7-2 2-1-2 0-7zM535 450z"/>
<path fill="#49ffad" d="M528 146l4 1 3 6 0 4-7-3-1-1-4-6zM509 173l6 0 1 0 0 7-1 2-6 3-1-5 0-7zM575 179l1 1 4 6-5 4-4-4 2-6zM489 192l1 1-1 1-1-1zM535 199l0 1-1-1zM515 204l7-4 6 3 2 3-2 2-1 5-1 6 2 2 7 5 0 1 1 5 1 7 5 3 6 0 4 4-4 3-6 1-1 2-6 7 0 1-3 5 2 7-6 3-6 3 0 1-7 3-4-3-2-2-3-5-4-4-7-1-6 3-2-5 2-1 6-1 7 0 7-1 3-3 0-7 0-6-2-7 0-7-1-4-2-2 2-2 1 2 5 2 2-2 0-7-2-3-1-3-2-7zM429 230l5 2 2 6 1 1 3 7 3 4 3-4 3-1 2 1 1 6-3 5-2 2-4 6 6 7-1 7 1 6-2 7-4 6-6-6-1-1-1 1-4 6 5 4 7-2 6 3 7-4 2-1 4-1 7-5 4 0 0-7-4-4-2-2 2-1 7-4 4-2 2-2 5 2-1 7 3 2 2-2 4-2 4 2 2 6 1 3 2 4-2 1-3-1-4-1-3 1 1 6-2 7-2 3-6 4 2 6 2 7 2 1 4 5-3 7-1 1-3-1-4-3-6 0-7-1-7 2-6 1-1 1 1 4 6 0 1 3-1 1-4 5 1 7-3 5-2 1-2 7 4 2 6 3 7-2 7 3 5 1 1 0 1 0 3-7 3-1 2 1 4 2 6 5-2 6 3 3 4-3-3-6 6-3 5 3-3 6-2 7 3 6 3 4 7 0 2-4 4-5 1-1 3-7 3-6 6-7 1 0 6-1 7 0 2 1 2 7 1 6-2 7 2 6 1 2 4 5-1 7-3 3-4 3-2 0-7 5-3 2 3 5 4 1-4 3-6-2-2-1-5-4-3-2 3-1 7-2 2-4-1-6 5-7 0-7 1-6-1-2-6-2-3 4 0 6-4 4-7 3 2 7-2 5-6-4-2 5-5 3-6 0-3 4-3 6-1 1-7 3-2 3 2 3 4 4 1 6-5 2-1-2-4-6-1-1-7-5-6 6 0 6 0 2-6 5 0 6 3 7-4 1-7 1-2 5 2 6 1 0 0 7 6 3 7 1 4 2 2 1 7 5 6-1 2 2 0 7 5 3 3 3 4 3 4 4-4 6 3 7 3 2 4 5-4 4-6-1-1-3-6-7-7 4-4 3-2 1-4 5 4 5 6 1 1 1 2 6-3 5-6-5-3 0-4 1 0-1-6-6 0-2-7-3-2 5-5 5-2 1-3 7 0 7-1 0-5 0-2-1-6 0-7-3-2 4 1 6 1 1 3 6 4 6 1 0-1 1-7 1-3-2-1-6-3-5-3 5 0 6-3 4-7 3-1 7 1 2 7 3 6-1 3 2 4 7 7 1 6 0 2-1-2-2-2-5-1-6 3-2 2 2 5 4 1 2 2 7-3 4-2 2 2 4 1 3 5 7 0 1 6 5 1 2 2 5 5 4 6-1 4 3-1 7-3 5-6 2-7-3-4-4-3-4-4 4 4 7 4 6-4 6-2 1 2 1 4 5 3 3 7-1 6 1 1 4 0 7 0 6-1 1-5-1 0-6-1-1-1 1 0 6-2 7-4 5-1 1-6 3-4 4-2 2-7 4-1 1-5 4-2 2 2 1 6 6-6 4-3 2 3 3 0 4 0 1-7 4-4 2-3 3-2-3-4-7 0-1-1 1-2 7 3 5 2 1-2 7-1 0-6-6-6 6 0 1-7 5-7-5-2-1-4-1-5-6-2 0-2 0 0 7 0 6 2 4 7-2 6 2 2 3-2 7 5 6 2 2 1 5-1 6 0 1-6-1 1-6-2-1-1 1 0 6 1 1 1 6 0 7 0 6-1 1-5 6-1 3-5 3 4 7-1 7 2 1 1 5 0 7-1 6 0 5-1 2 1 0 1 7 0 6 0 7 0 6 0 7 0 7-1 1-6 5-1 1-5 6-1 6 6 6 2 1-2 1-5 6-1 1-5 5-2 2-7 0-1-2-5-5-7 0-6 0-7 0-2-1-5-5-1-2-5-5-1-2 0-6 0-7 0-6-1-7 1-7 0-6-1-7 0-6-5-6-1-1 1-7-1-6-5-5-2-2 1-6-6-5-2-2-5-5-1-2-5-4-7 0-2-2-4-5-3-2-4-4-7-1-1-1-5-6-1-1-6-5-1-2 0-6-5-5-2-2-5-5-2-1-5-6-1-1-5-6-1-1-1-6 0-7 1-6 0-7-6-6-1-1 1-6-6-6-2-1 1-6 0-7 1-7-7-5-2-1-5-5-1-2-5-6-7-6 0-1-6-5-2-2 0-6 1-7 1-1 5-5 0-7 1-1 6-6 0-6-1-7 2-1 4-5 1-7 0-7 1-1 5-5 0-7 1-6 0-7 0-7-6-5-1-1 0-7 1-1 6-5 0-7-1-7 0-6 0-7 0-6 1-7 1-7-2-6 0-7 2-2 5-4 2-2 5-5 1-2 7 1 6-2 3-4-3-6 6-7 0-6 1-1 6-6 0-7 1 0 3 0 1 7 2 1 6 6 1 2 6 1 5 3 2 2 5-2-1-6 3-4 2 4-1 6-1 7 6 6 7-6 6 2 4-2 2-7-5-6 0-7-1 0-6 3-5-3-1-7 2-6-2-7-1 0-6-3-7 3-1 0 1 6 0 1-4 6-3 5-4-5-2-1-4-5 4-7-1-6 1-1 4-6 0-7 2-2 5-4 0-7 2-2 5-4 2-2 4-5 1-7 1-1 6-5 0-7 1-1 6-5-1-7 1-1 6-6 1 0 6-6 1-1 4-6 1-6 1-2 5-5 0-7 2-1 5-5 1-2 5-5 2-2 4-4 3-3 4-4 2-2 5-5 2-1 5-5 1-6 7 3 7 0 6-1 7 0 3-3 0-6-3-3-7-3-3-1 1-7-3-6 2-7 3-6 0-3 7 0 6-3 7 2 7 3 2 1 4 1 3-1 2-7 2-5 0-2zM478 285l0 7 4 1 3-1 1-7-4-4zM441 312l-1 6 3 2 6 0 4-2-2-6-2-4-6 2zM458 318l2 7 2 2 2-2 4-7-6-2zM435 331l-6 4-6 1-1 2 1 0 6 2 4 5-1 6 4 1 1-1 5-6-4-7-2-7zM443 345l6 5 6-5-6-3zM481 430l1 3 5-3-5-2zM449 463l0 7 1 0 0-7-1 0zM443 490l0 3-1 3 1 2 5-2 1 0 5-6-5-4zM248 496l-3 4-2 3-4 7 0 6 4 7 2 2 6-2 1 0 4-7 2-5 0-1 6-4 7-3-4-7-3-3-6-3-7 5zM281 503l-3 1-2 6 2 1 4 5 2 5 5-5 0-6-3-7-2-6zM445 510l1 6 2 7 1 1 1-1 4-7-2-6-3-3zM264 523l0 6-1 7 1 1 7 3 7-3 2-1 4-2 3-5-3-4-6 2-7-1-4-3-3-1zM413 536l3 1 1-1-1-1zM459 536l-2 7 5 2 2-2 1-7-3-2zM475 536l1 0 1 0-1 0zM486 536l3 3 1-3-1-2zM294 543l3 5 7-5 7 1 0-1 0-6-7 5-7-2zM260 556l4 5 1-5-1-3zM270 582l1 1 1-1-1-1zM231 589l-1 6 1 6 1 1 6 2 4 5 1 6 2 1 6 0 2-1 5-2 4-4 2-6 1-1-1-1-4-6-1-6-1-1-7-1-3 2-3 2-7 2-6-4-1-1zM282 615l-4 6-1 1 1 2 3 4 3 3 3-3-1-6 0-7-2-2zM251 642l0-1zM280 642l4 1 2-1-2-3zM211 661l1 1 6 1 1-2-1-1-6 0zM444 668l3 7 2 0 1 0 5-7-6-5zM240 681l5 2 1-2-1-2zM277 681l1 0zM310 701l0 7-2 6 3 2 2-2-2-6 0-7 0-1zM368 708l2 4 3-4-3-2zM376 714l-1 7-3 6-2 4-3 3 3 1 7 1 5-2 1-7 4-6-4-3-6-4zM215 727l3 7 0 1 1-1 0-7-1 0zM243 727l-1 7 3 2 2-2 4-5 2-2-2-2-6-1zM284 734l-1 7 1 1 7 0 3-1-3-3-6-4-1 0zM432 734l4 1 3-1-3-4zM257 754l1 0 0-1zM350 760zM303 800l1 0zM373 800l4 3 2-3-2-2zM303 813l-1 7-1 6-4 3-2 4 2 2 7 2 5-4 0-7 2-1 2-5-1-7-1 0-7-1zM343 813l1 1 0-1zM354 840l3 5 6-5-6-4zM378 840l-1 1-4 5 0 7 4 5 4-5 0-7 2-3 7-3 0-1-7-3zM319 846l5 2 2-2-2-3zM352 859l5 7 3-7-3-4zM316 873l1 1 1-1-1-2zM364 886l6 3 1-3-1-2zM333 892l4 2 3-2-3-2zM341 899l3 5 6 2 3-7-3-5-6 1zM353 919l4 3 6 0 3-3-3-3-6-2zM357 932l0 7 0 2 1-2-1-7zM381 932l2 2 1-2-1-1zM358 945l5 1 3-1-3-3zM482 232l1 0-1 1 0-1zM495 232l2 0-2 2-2-2zM482 256l3 3-3 3-2-3zM555 264l2 1-2 4-3-4zM522 285l6 4 7-1 3 4-3 4-4 2-3 3-6-2-7 1-6-1-1-1 1-1 6 0 5-5zM542 298l6 2 5 5 2 5 1 2-1 1-4-1-3-1-6-1-5-5zM588 303l1 2-1 3-7-3zM495 310l7-1 3 3-3 1-7 0-2-1zM528 307l5 5 2 1 7 4 1 1-1 1-4 6-3 2-7 1-5-3 3-7-1-6zM608 320l0 5-6 0zM502 335l3 3-3 2-1-2zM601 344l0 1-3 0zM594 347l1 4 0 7-1 0-4 0-1-7zM522 372l2 6-2 1-6-1zM568 375l7 0 0 3 0 1-3 5 3 2 6 1 1 4-1 6-6 0-7-4-1-2-3-7-1-6zM555 436l0 1-1 0zM489 487l6-3 7 4 1 2-1 1-7 3-6 0-5-4zM522 496l0 5-1-5zM542 494l0 2 0 7 0 2-6-2 0-7zM528 516l7 0 1 7 0 6-1 4-4 3-3 5-3-5-3-7 0-1-1-5 1-1 6-6zM528 548l0 1 1 7-1 1-3-1 3-7zM522 568l1 1 2 7-3 6 0 2-3-2-3-6 0-7zM489 594l4 1-4 1-1-1zM469 621l6 1-6 1-1-1zM509 622l6-3 1 3-1 0-6 0zM502 674l0 1-2 0zM489 678l6 3-5 7-1 4-7-1 0-3 0-5 1-2zM456 746l0 1 0 7-6 0 3-7z"/>
<path fill="#b1ff46" d="M575 186l-1 0zM522 231l5 1 1 4 1 3 3 7 3 6-5 7-2 3-6-2-2-1-2-7 1-6-4-6 0-1 0-1 5-6zM429 239l1 0 1 7 0 6 4 7 0 6-6 5-1 2-5 3-7 1-6 3 0 2-3-2-3-7 1-7 3-6 2-1 1 1 5 4 6-4 0-7 1 0 4-6 2-7zM443 283l1 2-1 3-3-3zM495 283l2 2-2 1-1-1zM383 291l3 1 4 4 5-4 1-1 2 1 5 6 2-6 5-6 4 6-4 6-6 0 6 4 1 3-1 1-6 6 6 4 6-2 5-2 1-7 1-1 6 0 1 1-1 2-3 5 3 3 2 3-2 2-6 1-7 1-5 3 2 6-3 7 0 1-4 6 4 3 6-3 0-1 4 1 3 2 0 4 6 5 7 2 7-2 2 2 2 6-2 7 4 5 2 2 3 6 2 2 3-2 3-1 7-4 6 5 1 1 6 0 5 6 2 1 1-1 5-3 3 3 1 6-1 7-3 3-6 0-6-3-1-3-6 3-1 0-4 7 5 3 5 3-5 4-7 2-1 1 1 1 5 5-5 7 0 7-7 3-6 1-1 2 1 5 1 2-1 1-7 0-6 4-3-5-1-7-3-3-5 3-2 2-2-2-4-4-3 4-3 7 0 6-1 1-3 6-3 6-2 1 0 6 2 7 6 1 5-1-5-3-5-4 5-2 4 2 3 4 1 3 1 6 4 4 3 3 3 7 1 1 1 5 3 7 1 6 0 7 2 0 6 4 2 3-1 6 6 4 5 3-5 3-7 1-6 2 0 1-2-1 0-6-5-7-7-6-2 6-4 3-4-3 1-6 3-2 3-5-3-3-3-4-4-2-6 1-6 1-1 2 0 5-1 7 1 3 4 3 3 4 1 3 5 2 7 1 6 1 7 2-3 7-4 5-5 2 0 6-1 2-5 5 0 6-2 1-5 6 0 7-1 3-2 3 2 4 6 0 4 3 3 2 6 4-6 7 0 4-7-3-1-1-5-5-4-2-2-6-1 0-1 6 1 3 2 4-2 3-2 4 2 2 7 3 6-3 7 4-2 7 2 2 4 4-4 6-1 1 1 2 0 5 2 6 1 7 3 2 2-2 5-2 7-4 3 6 0 6 3 3 7-2 3 6 3 6 1 1 1 6-2 1-6 6-7 5-6-1-5-4-2-2-7-5-6-3-7 1-1 2-3 7-1 6 5 6 2 1 5 6 1 1 4 6 1 4 7-1 4 4-4 3-7-2-6 4-4 1-3 3-6 2-2 2-2 7-3 2-7 3-6-2-7-2-6-1-5 6 0 7-2 5-1-5-1-7-2-6-3-2-6-4-1 6-6 5-2 1-2 7 4 3 6 3-4 7-2 3-2 4-4 1-7 5-7-1-1 1 1 2 7 0 1 5-1 1-6 5-1 3-1-3-5-2-3-4 1-7-3-6-2-6-1-1 1-1 2 1 5 2 6-2-6-3-3-4-2-6-2-4-4 4-2 1-7 3-5-4-2-2-6 0-7 1-6 0-2 1 0 6 2 6 0 1 2 7-2 3-7 2-7-2-5-3-1-1-1 1-6 6-1 0-5 1-1-1-6-6-6-7 1-7-2-4-6 1 0-3 0-7 0-2 6-4 7 5 1 1 2 7 4 5 6-3 7 0 6-2 0-7-6-6-1 0-6-5-4-2 4-3 6-4 1 0 6-2 4-4-4-5-4-2-2-1-1 1-6 5-6 0-4 2 0 6-3 4-3 3-4 6-6-6 4-7 1-6 1-1 3-6 4-6 7-1 6-5 1-1 6-6 0-1 6-6 1 0-1 0-6-1-7-5-3-1-3-1-7-1-5 2-2 5-6 2-7-5-6 0-5 5-2 0-6-7 6-3 7 0 6 1 7-3 1-1-1-1-7-2-3-4-1-7 3-6 1-1 7-4 6-1 7 3 4 3 3 2 6 2 5-4 2-2 6-3 6-2 1 0 7 7 5-7-5-6-3 0-4-4-2-3-3-7-1-6 6-5 7 0 6 0 2-2 4-6-1-7 2-2 3-5-1-6 2-7 1-6-3-7-2-5-6 5-1 1-5 6-1 1-5 5-2 3-7-2-1-1 1-1 6-5 1-2 3-5 0-7 4-5 6 2 3-3 2-7 2 0 5-6-3-7-2-5-7 3-6-4-3-1-4-2-1-4 1-6 0-1 5-6 2-1 4 1 2 2 1 4 0 7 6 3 6-2 2-1 5-2 7-2 3-3 3-6 3-7 4-2 6 0 5-5 2-1 7-4 5 5 1 1 6-1-5-6-1-1-6-6-7-6-1 0-4-7-2-1-6-6 5-6-1-7-4-6-4 6 3 7 0 6 0 7-5 7-1 0-6 6 0 1-1-1-3-6-3-5-2-2 2-5 1-2 6-5 1-1 2-7-1-6 3-7 1-3 2-4 0-6-2-2-6-3-7-2-7 4-2-4-4-3-7-3-1 0-5-4-3 4-4 2-7 1-2-3 1-7 1-7 6-6 0-7 1 0 6-6 1-1 6-6 0-5 2-2 5-5 6 1 7 1 2 3 5 2 3-2 3-2 5-4 2-5 1-2-1-1-7-1-6-1-5 3-2 4-3-4 1-6 0-7 2-1 7-5 0-1 3-6 2-7 1-6 0-1 6-6 0-7 1 0 6-6 6-7 1 0 5-6 2-2 5-5 1-1 7-6 6-5 7 3 7 2 3-6zM331 338l-1 0-3 7 0 6 3 5 5-5 2-2 2-4-1-7-1-2zM436 391l4 6-4 5-3 2 3 3 7 3 0 1 6 3 7-2 6-1-6-3-3-4 1-7-5-5-2-1-4-2zM431 437l5 3 5 4 2 1 6-1 1 0-1-1-4-6-2-6-7 3zM333 483l-2 7 6 1 3 5 4 5 1-5-1-6-2 0-2-7-3-2zM383 523l1 0-1-2zM325 543l-1 3-2 3 2 6 1-6 5-2 7-4-7-6zM317 556l5 0-5-1zM389 556l0 6 1 1 2-1 2-6-4-2zM308 576l3 2 6 1 4-3-4-3-6-1zM373 576l2 6 2 4 1-4 5-3 4-3-4-6-6 2zM396 576l1 0-1-1zM401 582l-5 4-1 3 1 3 4 3 3 1 3-1 4-2 3-4-3-4-5-3-2-2zM316 602l1 1 1-1-1-1zM376 602l1 2 3-2-3 0zM370 609l3 0-3-1zM381 609l2 0 2 0-2-5zM316 615l1 1 1-1-1-1zM375 642l2 2 0-2 0-2zM303 648l-6 5-2 2 2 4 7 1 1-5 0-7-1-1zM363 655l0 1 1-1-1-1zM396 655l-5 6-1 2-7 4-1 1-5 4-2 3-3 6-1 7-1 1-4 5 2 7-5 7-6-2-5 2 4 6 1 2 3 5-1 6 0 7 4 7 1 0 6-1 7 0 1 1-1 6 0 6-1 1 1 0 6 2 3-2 0-7 4-4 4-2 0-7 2-7 0-1 2 1 5 2 3-2-3-6-7-4-3-3-3-1-5-5 3-7 2-3 1 3 4 7 1 3 7-1 3-2 4-5 6-1 4-1-4-1-6-3-3-3-4-2-4 2-3 2-3-2 3-3 2-3 1-7 1-6 0-7 0-7-2-6-2 0zM280 668l4 4 7-4 6 3 7-2 3-1-3-5-7 0-6 5-7-3zM411 675l-1 1-2 5 0 7 2 3 6-1 5-2 0-7 0-6-5-3zM345 681l0 7 5 2 2-2 5-5 1-2-1-3-7-1zM303 688l-3 6-3 2-1 5 1 4 3 3-3 4-6 0-4 2 0 7-3 3-6 1-2 2 2 5 0 2 0 7 2 6-2 4-3 3 3 6 1 7 5 2 7 0 4 5 2 2 7 0 3-2-3-5-2-2-5-4-6 1-3-4-4-4-4-2 4-3 7-3 1-1 5-2 5 2 0 7 2 2 4-2 3-4 6 3 4-6 3-2 6-2 7 3 3 1 4 2 2-2 2-6-4-3-4-4-3-3-6 3-1 1-2-1-4-1 0 1-7 5-5 2-1 1-1-1-6-4-2-3-5-4-2-3 2-2 3-4 4-4 6 4 1 0 1 0 5-4 3-3 1-6 0-7 3-4 6 1 1 3 5 7 1 1 1-1 3-7-4-4-5-3 4-6-6-4-6 4 0 1-1-1-6-3-6-3-7 4zM336 754l-6 6-6-4-7 4 4 7 2 7 1 0 1 0 5-2 7-5 1 0 6 0 1 0 5 0 6 0-1-7-4-6-1-3-3 3-3 1-5-1-2-4zM266 780l5 3 1-3-1-2zM469 303l2 2-2 3-3-3zM449 328l3 3-3 5-6-5zM555 404zM502 410l5 1-4 6-1 3-2-3 1-6zM291 460l6 3-6 3-2-3zM429 468l6 2 1 1 2-1 5-3 0 3 0 5-1 2-6 5-2 1-5 3-4-3 0-6 2-7zM456 477l1 6-1 2-3-2zM271 496l7-1 1 1-1 1-7-1zM218 503l4 0 0 7 3 1 6 0 4 5 3 6 0 1-7 3-3 3 3 2 5 5 2 3 4 4 3 3 1-3-1-6-1-1 1 0 2 0 4 0 7 5 1 2-1 1-3 5-1 7 0 6 4 4 2 3 1 7 0 6-3 1-7 0-6-1-7 1 0-1-7-2-2 2-4 4-7 0-4-4-2-1-7-5 2-7-2-4 0-3-1-6 0-7 0-6 1-7 5-7-5-5 0-1-1-7 1 0 6-6 1-1 6-6zM469 500l3 3 4 3 2 4 4 3 7 2 3 1-3 1-4 6-3 6-6-4-3-2-4-5-1-2-1-6 0-7zM271 515l2 1-2 1-2-1zM528 522l7 1-5 6-2 1 0-1-1-6zM251 529l3 0-3 5-1-5zM297 525l7 0 5 4-5 6-7-2-3-4zM482 541l2 2-2 1-2-1zM284 572l2 4-2 3-5-3zM205 588l3 1 4 2 6 0 6 4-6 4-6-2-7 1 0-3-2-6zM205 609l7 3 4 3 2 3 1-3 6-4 6 4 0 1 7 4 3 2 4 5 6-4 3 5-3 3-6 2-1 2-3 7-2 6-1 3-3-3-4-2-3 2-3 2-7 1-6 1-7 2-2 1 2 4 0 2 0 7-7 3-6-3 5-7-1-6-4-3 0-4 6-6 0-7 0-7 7-6-1-7zM218 628l-6 7-7-2-2 2 2 2 7-2 3 7 3 3 7 0 2-3-1-7 3-7-4-3-7 2zM436 630l7 0 6 5-5 7 4 6-2 7-3 1-7 1-2-2-5-3-6-4 1-6 5-2 3-5zM231 658l7 3 3 7-3 4-7-1-6-2-1-1 1-4 1-3zM185 668l5 0-5 2 0-2zM251 674l2 1-2 2-2-2zM198 677l4 4-2 7-1 6 1 7-2 2-6-1-2-1-5-5-4-2-2-2-1-4 1-3 6 3 1 0 6-1 4-6zM383 688zM225 738l1 3 1 6-2 5-2-5 1-6zM357 804l6-2 5 5 0 6-2 7-3 4-2 2-4 2-7 0-6 2-3-4 3-2 2-4 4-5 1-2 1-6zM264 818l2 2 1 6 4 2 7 3 6 0 4 2-1 7 4 3 6-1 7 2 6-4 1-1 5 1-5 6 0 1-3 6 3 3 6 1 2 2-2 2-5 5-1 1-7 0-1-1-6-6 0-1-6-5-7-1-6-6-2-1-5-5-7-1 0-7-2-7 1-6zM278 816l6 2 7-1 4 3-4 4-7-1-6-1-3-2zM370 832l0 1 0 1 0-1zM344 839l0 1 1 6 3 7-4 5-7-2-7 2-6-5 6-3 4-4 3-4 6-2zM363 866l7 4 7 2 0 1-7 0-7 5-5-5zM311 878l1 1-1 0-1 0zM324 874l6 2 7 3 7 0 6-5 5 5-5 4-6-3-7-1-7 4-4 3-2 2-1-2-3-7zM357 886zM383 882l7 4-6 6 1 7 5 5 0 2 0 6 0 5-7-3-6-1-7-1-7-4-3-2 3-4 7-2 1-1 6-3 5-4-4-6zM317 899l7-1 0 1 6 4 5 3-3 6-2 3-6 2-1-5 0-6-6-7zM344 917l1 2 0 6-1 4-1-4-6-6zM390 924l0 1 0 1-1-1zM324 931l6 0 1 1-1 1-6 0 0-1zM370 930l0 2 1 7-1 0-1 0 1-7zM350 935l2 4 0 6 0 7 5 2 2-2 4-2 3 2 4 4 3 2-3 3-7 4-3 7-3 0-4 0-3-1-6 0-1 1-6 0 0-6 1-1 6-3 4-4-4-3-4-3 4-6 1-1 1-6zM330 949l3 3-3 4-1-4zM330 961l6 4-6 0zM377 963l6 2-6 7-5 0 3-7zM363 978l7-6 1 6-1 1-7-1z"/>
<path fill="#ffd000" d="M344 312l6-3 7 0 1 3-1 2-7-1-6-1zM396 311l1 1 0 6 4 7-1 6 1 7 1 7 1 3 2 3 5 3 6 2 7 0 2 2 4 6-6 6-7-4-4 5 4 5 1 2 0 6 3 7-2 6-1 7 5 7-1 6-5 6-6-2-3 3-1 6 4 4 6-1 3 4-1 7-2 4-4 2-2 1-7 3-3 3 2 6-1 7-5 4-2 3 2 6-6 3-4 4 4 6 2 7-2 3-7-2-4 6-2 3-7-1-3 4-4 4-6 1-4-5 4-5 2-1-2-4-2-3-5-3-1-4 1-4 1-2 1-7-2-5-6-1-4-7-3-6-2-1 2-1 7 1 1 0 5 4 2-4-2-3-2-3-4-4-7 2-5 2-2 1 0-1-6-6-1-1-6-2-6-2-3-2 3-5 1-2 5-6 7 3 5-4-3-6-2-5-7 1-6 1-7 0-7-3 0-1-6-3-2-3 2-3 6-2 3-2 4-2 7 1 2 1 4 6 7 0 2-6-2-7 4-6 2-5 7-1 7 2 3-3 1-6-4-4-3-3-4-5-2-2 0-6 2-2 7-2 3-3-3-5-1-1 1-4 1-3 1-7 4-6 0-1 1 1 6 6 5-6-2-7 3-1 7-5 7 1 3 5 1 7 2 3 7-3 6-7-1-6zM366 331l-3 7-6-5-1 5 1 2 6-1 7 0 3-1 1-7-4-4zM344 397l6 3 5-3-5-3zM329 437l-2 7 3 2 7-2-5-7-2-3zM367 444l2 6 1 2 3-2 1-6-4-2zM363 483l-1 7 0 6 0 7 1 1 7 5 5-6-2-7 3-6-6-7-7-2zM317 363l6 1 1 5 0 2-7-3-1-4zM443 375l1 3-1 2-4-2zM429 410l1 1-1 0-2 0zM284 416l3 1-1 7-2 1-6 0-7 3 0-4 0-3 7 0 5-4zM456 421l2 3-2 2-2-2zM297 427l2 3 1 7-3 3-4-3 2-7zM271 433l2 4-2 2-4-2zM456 436l1 1-1 2-3-2zM396 484l2 6-2 1-1-1zM311 501l1 2-1 2-2-2zM403 508l7 0 1 2 0 6-1 2-3-2-4-4-3-2zM370 521l2 2-2 5-2-5zM423 520l2 3-2 2-3-2zM390 527l2 2-2 2-2-2zM344 532l5 4 1 1 7 2 5 4 1 2 7 4 5-6 1-7 1-1 0 1 6 6 7-4 4 5-4 3-4 3 0 7-2 6-1 1-6 4-6 2-1 1-3 6-4 5-1 1-5 2-3 5 3 4 2 2 4 5 3 2-1 7-2 1-6 3-4 2 2 7 2 2 6 2 4 2 0 7-2 7-2 1-6 1-4-2-1-7-2-3-4-4-2-1-4-5 4-7 0-3-1-3-6-6-5 6-2 5-2-5-1-7-1-7 2-6 2-2 4-5 2-6-6-7-1 0 1-1 7-2 7-3 0-1 0-1-4-5-1-7 5-4 2-2-2-3-4-4zM212 538l6 5 3 6-3 4-6 0-7-2 0-2 0-1 4-5zM251 542l1 1-1 0zM443 542l1 1-1 6-2-6zM245 554l3 2-3 4-5 2 5 2 6 3 2 2-2 2-6 5-7 0-2 0-1-7 3-7 0-2 2-4zM304 561l2 1-1 7-1 1-2-1 0-7zM410 562l1 0-1 1-2-1zM212 572l6 3 7-3 5 4-5 3-7-3-6 1-1-1zM297 588l3 1-3 1-1-1zM317 588l1 1-1 0zM383 586l4 3-4 2-1-2zM304 593l3 2 2 7-1 7-4 3-3-3-3-7 4-7zM370 595l7-1 2 1-2 1-7 0-1-1zM396 599l7 3 2 7-2 5-7-2-1-3-4-7zM377 612l6 1 3 2 4 4 6 0 1 3-1 6 3 7-3 4-3 3-3 2-7 1-1-3-2-7-3-3-6-4 0-6 0-7zM212 625l0 3 0 1-1-1zM304 624l7 0 6 4 7-2 6 2 0 1 5 6-5 6-6-3-7-3 0-1-6 1-7 2-2-2-4-7zM330 648l7-4 7-1 6 2 3 3 1 7 0 6 3 5 3 2-3 1-7 2-6 0-4 4-3 3-7-1-1-2-1-7 2-5 1-2 0-6-1-6 0-1zM436 646l5 2-5 2-2-2zM377 653l6-2 2 4-2 4-2 2-4 2-4-2-1-6zM416 661l1 0-1 1-6-1zM225 692l6-2 7 0 4 4 3 6 0 1 0 1-7 3-4-4-3-3-4 3-2 1-2-1-1-7zM271 693l7 1 2 0 4 7 0 7-6 6-1 0-6 7-7-5-5-2-1-1-5-5 1-7 4-4 6 0 3-3zM443 699l2 2 4 6 1 1 6 3 2 3-2 2-7 4-6-3-3-3 2-6-4-7zM429 706l1 2-1 0-1 0zM344 711l6 3 5 7-2 6-3 3-3-3-3-5-2-1-1-7zM311 727l6-2 1 2-1 4-2 3-4 2-2-2 0-7zM410 732l2 2 4 5 2 2 5 5 0 1 2 7-2 1-7 3-6 1-7 1-1 0-6 7-1 0-5 2-7 2-5-4 3-7 2 0 7-6 0-7 6-4 5-2 2-2 3-5zM245 746l2 1-2 1-2-1zM357 746l4 1 2 2 6 5-2 6-4 2-1-2-5-4-2-2 1-7zM344 771l6 1 1 2-1 1-6 2-3-3zM330 779l2 1 5 4 2 3-2 4-7-4-1-7zM238 793l0 1 0-1zM251 799l2 1-2 2-1-2zM337 796l7 2 0 2 0 1-4 6-3 2-3-2 2-7zM363 812l1 1-1 1-1-1zM271 835l7 2 2 3-1 6-1 0-1 0-6-6-2 0zM363 955l3 3-3 3-3-3z"/>
<path fill="#ff5900" d="M370 317l4 1-4 1-1-1zM383 337l7-3 5 4 1 2 2 5-2 3-3 3-2 7-1 0-2 6 1 7 1 2 6 0 3-2 4-2 1 2 5 7-6 2-5 4 0 7-2 4-2 2-3 7 5 5 3 2 4 2 7 0 3 4-3 1-7 5-7-3-2 4-3 6-1 2-3 5-4 5-6-5-1 0-6-4-5-3-2-4-3 4-3 1-5-1-2 0-1 0-5 7-7-6 0-1 3-6 4-4 6-2 7 0 3-1 0-6 3-7 1 0 6-3 3 3 4 2 6 0 4-2-4-4-3-3-3-6-7 2-2-2-5-7-6-6 0-1 2-6 4-4 3-3-1-6 0-7 5-6 7 2 4-2 1-7zM389 391l1 0 0-1zM344 360l6 4 0 1-6 2-3-3zM337 400l2 4 0 7-2 3-2 3-5 5-3-5 1-6 2-4 4-3zM304 410l7-1 0 2 0 1-7-1-1 0zM350 409l1 2-1 3 0-3zM317 437l1 0 0 7-1 0-1 0 1-7zM383 444l7 0 6 6-2 7-4 4-3 2 3 3 3 4-3 3-7-1-2-2-4-4-4-3 4-2 2-4 1-7zM350 544l7 0 4 5 2 6 2 1 2 6-3 7-1 1-6 5-3 1-3 6-1 1-1-1 0-6-4-7 5-6 1-1-1 0-2-6-3-7zM355 556l2 1 4-1-4-1zM377 555l2 1-2 3-2-3zM337 588l1 1 2 6-3 1-2-1 1-6zM377 618l6-1 4 5-1 6-3 4-6-3-1-1-1-6zM304 628zM330 635zM344 649l1 6 5 6 0 1-6 0-2-1 0-6zM271 699l2 2 1 7-3 3-4-3 1-7zM350 720l1 1-1 1 0-1zM403 744l7-1 6 1 3 3 0 7-3 1-6 1-7-1-2-1-4-7zM383 767z"/>
<path fill="#c40000" d="M377 351l6 0 2 7-2 4-6-1-3-3 1-7zM370 368l7-1 6 4-2 7-4 1-7 1-3-2 0-7zM377 413l6-2 7 0 2 6-2 3-7 1-6-1-4-3zM383 450l7 0 0 1-5 6-2 2-1-2 1-7zM383 622zM403 747l7 0 1 0-1 1-7 0 0-1z"/>
</g></g>
<use href="#lines"/>
<rect x="79.3" y="52.4" width="243.4" height="458.6" fill="none" stroke="#000" stroke-width="3.3"/>
<path d="M90 511v8.9M200 511v8.9M311.25 511v8.9M79.3 113.25h-8.9M79.3 233.65h-8.9M79.3 354.1h-8.9M79.3 474.5h-8.9" stroke="#000" stroke-width="3.3" fill="none"/>
<g style="font-family:'DejaVu Sans','Liberation Sans',sans-serif" font-size="26.6" fill="#000">
<text x="90" y="556.1" text-anchor="middle">120E</text>
<text x="200" y="556.1" text-anchor="middle">121E</text>
<text x="311.25" y="556.1" text-anchor="middle">122E</text>
<text x="53.4" y="123.45" text-anchor="end">25N</text>
<text x="53.4" y="243.85" text-anchor="end">24N</text>
<text x="53.4" y="364.3" text-anchor="end">23N</text>
<text x="53.4" y="484.7" text-anchor="end">22N</text>
<text x="200.7" y="26" text-anchor="middle" font-size="32"><tspan>log</tspan><tspan dy="4.6" font-size="22.4">10</tspan><tspan dy="-4.6" font-style="italic">R</tspan></text>
<text x="364.8" y="46.8" text-anchor="middle" font-size="24.6">(mm h<tspan dy="-8.5" font-size="17.2">−1</tspan><tspan dy="8.5">)</tspan></text>
</g>
<path d="M352.3 73.5L363.85 52.1L375.4 73.5V93.5H352.3z" fill="#800000"/>
<path d="M352.3 490.6L363.85 512L375.4 490.6V470.6H352.3z" fill="#000080"/>
<rect x="352.3" y="73.50" width="23.1" height="52.44" fill="#c40000"/>
<rect x="352.3" y="125.64" width="23.1" height="52.44" fill="#ff5900"/>
<rect x="352.3" y="177.78" width="23.1" height="52.44" fill="#ffd000"/>
<rect x="352.3" y="229.91" width="23.1" height="52.44" fill="#b1ff46"/>
<rect x="352.3" y="282.05" width="23.1" height="52.44" fill="#49ffad"/>
<rect x="352.3" y="334.19" width="23.1" height="52.44" fill="#00c0ff"/>
<rect x="352.3" y="386.33" width="23.1" height="52.44" fill="#0040ff"/>
<rect x="352.3" y="438.46" width="23.1" height="52.14" fill="#0000c8"/>
<path d="M352.3 73.5L363.85 52.1L375.4 73.5L375.4 490.6L363.85 512L352.3 490.6z" fill="none" stroke="#000" stroke-width="3.3" stroke-linejoin="miter"/>
<path d="M375.4 73.50h9.5M375.4 125.64h9.5M375.4 177.78h9.5M375.4 229.91h9.5M375.4 282.05h9.5M375.4 334.19h9.5M375.4 386.33h9.5M375.4 438.46h9.5M375.4 490.60h9.5" stroke="#000" stroke-width="3.3" fill="none"/>
<g style="font-family:'DejaVu Sans','Liberation Sans',sans-serif" font-size="22.1" fill="#000">
<text x="400.8" y="81.80">1.5</text>
<text x="400.8" y="133.94">1.24</text>
<text x="400.8" y="186.08">0.97</text>
<text x="400.8" y="238.21">0.71</text>
<text x="400.8" y="290.35">0.45</text>
<text x="400.8" y="342.49">0.19</text>
<text x="400.8" y="394.63">-0.07</text>
<text x="400.8" y="446.76">-0.34</text>
<text x="400.8" y="498.90">-0.60</text>
</g>
</g>
<g transform="translate(503.6,0)">
<g clip-path="url(#isl)"><g transform="scale(.5)">
<rect x="160" y="130" width="500" height="880" fill="#000080"/>
<path fill="#0000c8" d="M515 142l2-2 5 0 5 0 1 2 7 1 3 4 4 2 4 4 2 2 5 5 2 1 5 5 1 3 7 0 4 4 3 2 6 0 5 5 2 2 6 0 7-1 5 5 2 3 4 4 2 2 5 4 2 2 5 5 0 7 1 2 5 4 2 2 5 5-5 5-3 1-4 4-2 3-4 4-7 1-2 2-4 4-3 2-4 4-2 3 0 6 0 7 0 7 0 6 0 7 0 6 2 2 5 5 0 7 2 1 4 5 0 7-4 4-3 2 0 7 0 7-4 4-1 2 0 7-6 5-2 1 0 7 1 7-5 5-2 1 0 7-1 6-4 4-2 3-4 5-3 2-4 4-2 2-5 5-1 2-1 6-1 7-3 4-2 3-1 6 1 7 2 2 4 4 1 7-5 5-2 2 0 6-5 5-3 2 0 6 1 7-2 7-2 2-4 4 2 7 0 6-1 7-4 4-2 3 0 6 0 7-1 6-1 7 1 7-4 3-2 3 0 7 1 6 0 7-5 5-3 2 1 6 0 7-5 4-2 2 0 7-1 7-3 3-3 3 1 7 0 6 0 7-1 7-4 4-3 2-4 4-1 3-1 6-4 5-2 2 0 7 0 6-5 5-1 2 0 6-5 6-1 1-6 6-1 1-6 5-1 1 0 7-5 5-2 1-5 6-1 1-5 5-2 2-5 5-1 1-6 6-1 1-5 5-2 1-5 5-2 2 0 7 0 6-4 5-2 2-1 6-4 4-3 3 1 7 0 6-5 4-2 3 0 6 0 7 0 7 1 6 0 7 0 6 0 7 0 7 0 6 0 7 0 6 0 7 0 7-5 5-2 1-5 5-2 2 1 6 1 2 5 5-5 5-1 2-5 5-2 1-5 5-7 1-5-6-1-1-7 0-6 0-7 0-5-5-2-2-4-5-2-1-6-6 0-6 0-7 1-6-1-7 0-7 0-6 0-7 1-6-2-2-5-5 0-7 0-6-1-2-6-5 0-6-1-2-5-5-2-1-5-6-1-1-7 0-5-5-1-1-6-6-1-1-7 0-5-5-1-2-6-5-1-1-5-6 0-6-1-2-6-5-1-1-5-5-2-2-5-5-1-2-5-5-1-6 0-7 0-6 1-7-2-1-5-6 0-6-1-2-5-5-1-6 0-7 0-7-1-1-5-5-2-2-5-5-1-1-6-5-1-2-5-5-1-1-6-6 0-6 1-7 5-5 1-1 0-7 5-5 2-2-1-6 0-7 6-5 1-1 0-7 0-7 5-5 2-1 0-7 0-6 0-7 0-7-2-1-5-5 0-7 5-5 2-1 0-7 0-7 0-6 0-7 0-6 0-7 0-7 0-6 0-7 5-5 1-1 6-6 1-1 5-5 7 0 1-2 0-6 5-5 2-2 0-6 5-5 2-2 0-7 5-5 1-1 5-5 2-2 0-6 5-6 2-1 0-7 4-4 3-2 1-7 3-3 1-3 6-6 1-1 0-7 5-5 2-1 0-7 5-5 1-1 1-7 4-5 2-2 5-5 1-1 6-5 1-2 0-6 5-6 2-1 0-7 5-5 1-1 5-6 2-1 5-5 1-1 6-6 1-1 5-6 1-1 6-5 1-1 0-7 5-5 2-1 0-7 0-7 5-5 2-1-1-7 6-5 2-1-1-7 5-5 2-2 5-4 1-2 0-7 5-5 2-1 5-6 2-1 5-5 2-2 4-4 7 1 2-3 4-5 7 0 7 0 1-2 5-5 7 1 6 2 7-2 7 1 2-3 4-5 2-2 0-7 5-5 2-1 4-5 3-2 4-4 7 0 2-2zM482 186zM555 325l0-1zM521 457l1 1 6 1 3-2-3-3-6 1zM499 562l3 5 2-5-2-5z"/>
<path fill="#0040ff" d="M515 145l3-5 4 0 4 0 2 5 7 1 0 1 7 4 2 2 4 3 4 4 3 3 3 3 3 6 7-1 2 2 5 4 6-1 4 4 3 5 6 0 7-2 3 3 4 5 1 2 5 3 3 3 4 4 3 3 0 7 3 4 2 2 5 4 3 3-3 3-5 3-2 2-4 5-2 2-7 1-4 4-2 2-5 4-2 2-5 5 1 6 0 7 0 7 1 6-1 7 0 6 4 4 3 3 0 7 4 3 2 3 0 7-2 2-5 4 0 7 0 7-2 1-3 5 0 7-4 3-4 3 1 7 0 7-3 3-4 3-1 7-1 6-1 1-4 6-2 3-5 4-2 2-5 4-2 2-3 5-2 6-1 7 0 1-4 6-1 6 0 7 5 4 2 2 1 7-3 3-5 4 1 6-3 3-6 4 0 6 3 7-3 5-7 0-4 2 4 5 0 1 4 7-1 6-1 7-2 2-4 5 0 6 0 7-1 6-2 6 0 1 0 2 2 5-2 1-5 5 1 7 1 6 0 7-3 4-5 3 0 6 1 7-3 2-4 4-1 7-1 5-7 1-2 1 2 1 2 5 1 7 0 6 0 7-1 7-2 2-6 4-1 1-3 6 0 6-3 3-4 4 1 7-1 6-3 3-3 4 0 6-3 4-3 3-4 4-3 3-4 4-2 2 0 7-4 4-3 2-4 4-3 3-3 3-3 4-4 4-2 2-5 4-3 3-3 3-4 3-3 3-5 4 0 7 1 6-2 3-4 4-2 6-1 2-6 5 1 7 0 6-2 2-4 5 0 6-1 7 1 7 1 6 0 7 0 6 1 7 0 7 0 6 0 7 0 6 0 7 0 7-4 3-4 3-3 3-3 4 0 6 3 3 4 4-4 4-3 3-3 3-4 3-3 3-7 1-4-4-2-3-7 1-6 0-7-1-4-3-3-4-2-3-4-3-4-4-1-6 0-7 1-6-1-7 0-7 1-6 0-7 0-6-3-3-4-4 1-7 0-6-3-3-4-4-1-6-2-3-4-4-3-2-4-5-2-2-7 0-4-4-2-3-4-4-3-2-7 0-4-4-2-3-4-4-3-2-4-5 1-6-3-3-4-4-3-2-4-4-3-3-3-4-3-3-3-4-1-6-1-7 1-6 0-7-3-3-4-4 0-6-2-3-4-4 0-6-1-7 0-7-2-2-4-4-3-3-3-4-3-2-4-4-3-3-4-4-2-3-4-4 0-6 0-7 4-3 2-3 0-7 4-4 3-3 0-6-1-7 5-4 3-2-1-7 1-7 3-3 3-3 0-7 0-6 1-7 0-7-4-2-4-4 0-7 4-4 3-2 0-7 0-7 0-6 0-7 0-6 0-7 0-7 0-6 0-7 4-4 3-2 4-4 2-3 4-4 7 0 3-3 0-6 3-4 3-3 1-6 3-4 3-3 0-7 4-3 3-3 3-4 3-3 0-6 4-4 5-3 0-7 1-1 5-5 2-7 3-6 4-4 2-3 0-7 4-4 4-2 0-7 3-3 3-3 0-7 3-3 3-4 4-3 3-3 4-4 2-3 0-6 4-5 3-2 0-7 4-4 2-2 4-4 3-3 4-4 2-2 5-5 2-2 4-5 2-2 5-4 2-2 0-7 4-4 4-2-1-7 0-7 4-4 3-2 0-7 4-4 3-2 0-7 3-3 4-4 3-3 3-3 0-7 3-3 3-3 4-4 4-3 3-3 4-4 2-2 7 1 4-5 2-2 7-1 7 0 3-4 3-3 7 1 4 2 2 7 3 0-1-7 5-2 6 2-4 7 5 2 2-2 4-2 5-5-5-3-2-3 2-3 3-4 0-7 4-3 4-3 2-3 5-4 2-2 7 0 4-4zM573 193l-3 6 5 4 1 3 1 7 4 5 2-5 2-7-1-7-3-4-3-2-3-3zM592 199l0 7 2 6 3 1 4 4 5-4-5-3-3-4-1-7-3-2zM435 206l1 2 0-2zM554 213l-1 6 2 2 1-2 0-6-1-4zM609 213l5 2 1-2-1-2zM448 219l1 1 5 6 0 6 2 2 6 1 3-3 0-6-1-7-2-1-6-1-7 1zM480 219l1 7 1 1 1-1 0-7-1-1zM430 226l3 6-1 7 4 3 7-1 5-2-5-3-3-4-1-6-3-2zM495 246l-1 6 1 2 1-2 0-6-1-1zM540 259l2 3 1-3-1-2zM481 265l-2 7 3 6 1 1 6 2 6 1 7-3 1 0-1-1-7-5-6-1-3-7-4 0zM541 292l1 2 1-2-1-2zM519 318l3 3 2-3-2-1zM551 318l-3 5-5 2-1 0-3 6 1 7 2 1 1-1 3-7 2-4 7 4 5 0 1 1 1-1-1 0-2-6-1-7-3-4zM580 318l0 7 1 1 2-1 0-7-2-3zM525 325l-3 3-3 3 0 7 3 1 0-1 3-7 3-3 7-3 3 0-3-1-7-2zM515 345l-6 2-3 4 3 7 0 6 0 3-1 4 1 1 5-1 1 0 7-4 6-3 1 0 3-6-4-6-6 1-1-2-6-6 0-1zM578 351l3 4 3-4-3-2zM574 364l1 1 6 2 1-3-1-2-6 2zM521 397l1 2 1-2-1-5zM501 404l-1 7-1 6 3 2 2-2 1-6-2-7-1-1zM522 430l0 1 1-1-1 0zM495 444l-3 6 3 4 5-4 2-4 2-2-2-1-7 0zM522 450l-4 7 4 4 6 1 7-3 1-2 3-7-4-2-7 1-6 1zM535 490l-7 4-3 2 3 6 7-3 5-3-5-6zM514 503l1 3 6-3-6-1zM468 529l1 5 1-5-1 0zM470 536l6 2 6-2-6-1zM497 536l-2 2-6 4-7-5-2 6-1 6 0 7 3 5 2 1 5 3 6 1 2 3 1 7 4 5 7-3 2-2 1-7-3-4-2-3 2-2 3-4 1-7-4-3-3-3-1-7-3-4zM485 582l-3 6 0 1 0 1 7 1 6-2-3-7-3-1zM218 589l1 0-1-1zM495 595l0 2 1 5 6 3 7-2 0-1 0-1-6-6-1-1-7-3zM485 622l4 3 4-3-4-5zM490 635l5 3 2-3-2-1zM419 767l4 2 3-2-3-4zM370 807l-5 6 4 7 1 1 1-1 3-7-4-6 0-1zM397 807l6 2 2-2-2-3zM382 826l1 2 1-2-1 0z"/>
<path fill="#00c0ff" d="M522 140l2 0 3 7-2 6 3 1 7 4 3 2 4 1 1-1 5-2 2 2 5 4 2 2-2 6-2 1 2 7-4 6 4 4 6-3 3-1-1-6 5-7 7 6 6-1 2 2-2 5-6-3-5 4-1 7-1 1-4 5-1 7-1 7-1 1 0-1 0-7-3-7-3-3-7-1-1 4 0 7 1 4 1 3-1 1-2 5 2 3 5 4 2 1 4-1 2-3 7-3 7 5 1 1 3 6 2 1 1-1 6-4 4-2 2-3 7 0 7-3 6 1 7-1 4 6-1 6-3 6-1 1-6 1-6 6-3 0 0-7-4-2-2 2-5 5-1 2 0 6-1 7 2 3 1 3 0 7 1 7 0 6 0 7-1 6-1 2-6 2-3 3-4 3-4 4-2 3-7 2-3-5-2-7-2-2-6 1-7-3-4-3 4-5 1-1 4-7-5-2-6 0-2 2-3 7 4 6 1 5 1 2-1 5-7-4-3 6-4 4-6-3-3-1-1-7-3-1-1 1-5 5-2 2-3 6-2 2-7 3-6 2-1 0 1-2 0-5 2-6 4-5 2-2-2-2-6 1-1 1-6 4-2 3-4 6 3 7 3 4 2 2-2 4-6 2-2 1 2 1 5 6-5 6-1 0 1 1 2 6-2 4-7-2-5 4-2 5-1 2 1 2 7 1 7-3 6-4 2-3 2-6 3-2 3-5-2-6 1-7 4-4 4-3 3-2 5-4 2-3 6 1 3 2-3 3-2 3-2 7-2 3-6 4-1 4 0 2 0 1 1 6 1 6-2 4-3 3 3 3 6 4 1 0 6 2 3-2 4-3 4-4 2-2 7-1 7-2 4-2-4-6 4-7 2-1 7 1 6-3 3-3 4-3 6-4-6-4-2-3 1-6 1-2 2 2 5 1 6 5 7-3 5-3-3-7 0-6 4-5 4-2 3-1 1 1 1 7 5 5 1 1-1 7-5 0-2-1-1 1-4 6-2 1-1 6-4 7 5 2 3 4 0 7-3 2-6 4 1 7 1 7-2 2-6 4-1 6 0 1-4 6-2 7 0 1-7 3-7 2-6-4-7 0-1 5 1 2 7-1 6 5-4 7-2 4-6-4-1-1-6-2-5-4-2-1-7 0-6-4-2 5 1 7-5 6-1 2-6 2-3 3-4 2-7-1-5 6-1 1-2 5 0 7 2 4 6-1 3-3 4-4 7 0 6-2 1 6 2 6-3 2-2 5 2 6 7-2 5-4 1-1 1 1 5 7 1 3 1 3-1 1-6 6-1 0-6 4-5 2-2 1-6 4-3-5-4-2-7-1 0-3-6-3-3 3-4 5-1 1-5 4-7 2 0 1 0 1 6 6 1 0 6 1 7-1 3 0 3-3 2 3 5 5 2 1 2 7-4 3-7 2-3 1-3 5-7-4-2-1-4-1-7-4-7 4-4 1 4 6 1 1 4 7-5 3-6 3 6 7 7 3 2 3-2 2-2 5 2 3 4-3 3-3 3 3 1 7-1 6-1 7-1 6 5 7-1 7 0 6-5 7-7 2-1 4 0 7-1 7 2 4 4 2 3 2 4-2 2-3 7-2 6 3 4 2 3 2 2 5 0 6-1 7-1 7-7 0-2 6-3 7 0 6-1 1-6 6 1 7 0 6-2 2-4 5 0 6-2 3-4 4-3 3-4 4-3 2-4 4 0 7-2 2-4 4-3 3-5 4-1 2-4 5-3 2-4 4-3 3-4 4-2 2-6 4-1 2-6 3-7 0-7 0-5 2-1 7 6 5 3 1 4 2 2 5-2 4-7 1-6 1-7-6 0-2 1-5 4-6 0-7-5-3-2 3-4 6-7-4-6 5-1 1-6-1-1 6-1 7 2 2 6 0 6 4 1 2 6-2 1 0 0 2-1 5-1 7 2 1 6-1 1 0 6-2 3 2 1 6-4 5-7-3-3 5-1 6-1 7 5 7 7-2 0 2 1 6 0 7 1 6 0 7 1 7 0 6 0 7 0 6 0 7-1 7-2 2-6 4-1 1-5 6 1 6 4 4 3 3-3 3-4 4-2 2-6 4-1 1-7 2-2-3-4-4-7 1-6 0-7-1-2-2-5-6 0-1-6-4-3-3-1-6 1-7 0-6-1-7 0-7 1-6 0-7 1-6-5-5-2-2 0-7 1-6-5-4-3-3 0-6-4-4-3-3-4-3-3-4-3-3-7-1-2-2-4-4-3-3-4-3-7 0-3-3-3-4-3-3-4-4-3-3 1-6-4-4-3-3-4-3-3-3-4-5-2-2-4-5-2-2-1-6 0-7 0-6 0-7-4-4-3-3 1-6-4-5-2-2-1-6-1-7 1-7-4-3-3-3-4-5-1-2-5-4-3-2-4-4-3-3-3-4-3-3 0-6 1-7 2-1 3-5 0-7 3-3 4-4 0-6-1-7 4-3 4-3 0-7 0-7 2-2 5-4-1-7 1-6 0-7 0-7-5-4-2-2 0-7 2-3 4-3 0-7 1-7 0-6-1-7 0-6 0-7 0-7 0-6 0-7 3-3 4-3 3-3 3-4 3-3 7 0 4-4 0-6 2-3 4-4 1-6 2-2 5-5 0-7 2-2 4-4 2-2 5-5 0-6 2-3 5 3 1 2 7 1 7 1 3 2 3 4 2-4 0-6 2-7-4-7 7-2 4-4 0-7-4-4-7 2-5 2 1 7-2 1-6-1 4-7-1-6 3-3 4-4 0-7 2-2 6-4-1-7 2-1 4-5 1-7 1-1 5-6 2-2 4-4 3-2 3-5 0-6 3-3 4-4 0-7 3-2 4-4 2-3 4-4 3-3 3-3 4-4 3-3 3-4 3-3 4-3 3-3 0-7 3-3 5-3-1-7 0-7 3-2 5-4-1-7 3-2 5-4 0-7 1-2 5-5 2-1 4-5 1-7 1-2 5-4 2-3 5-4 2-1 6-6 1 0 6 4 3 3 3 5 1 2 6 6-7 1-6 5-1 1 1 0 4 6-2 7 1 7 3 4 7-3 4 5-4 6-2 1 2 0 7 1 3 5 3 2 4-2 2-6 1 0 4 6 2 3 4 4 3 4 3 3-3 2-2 4 2 4 1 3 6 4 6-1 7-1 2-2 4-3 4 3 3 3 2-3 2-7 3-2 5-4 1-2 7-4 6 0 3-1 4-2 7-1 2-4 2-6-1-7-1-6-2-5-7 4 0 1 6 6-6 6-2 1-2 6-3 4-6 2-5-6 5-5 1-1-1-3-7-3-6 4-7-1-3-4 3-5 7 2 2-3-2-7 0-1-7-2-7 1-6 0-6-5 6-4 6 0 3-2-3-2-6-1-1-4-6-6-6 5-7-2-6-3-1-1-6-4-7 3-6 1-4-6-3-4-7 1-2-4 2-5 1-1 6-1 7 0 5-6 1-1 6 1 1 6 0 1 6 5 6 1 1 1 7 0 6 0 1-1 6-6 6 6 0 1 1-1 0-6 1-7-2-3-6-3-7 0 0-1 5-6 0-7 2-1 6-5 0-1 7-6 3 0 4 2 1 5 5 5 6-5-2-7-2-6 2-7zM519 173l-2 7 5 5 2 1 4 2 2-2 0-6 0-7-2-2-6-1zM416 285l0 4 0-4zM461 305l1 1 2-1-2-2zM429 318l0 1 1-1-1-1zM573 351l2 4 1 3-1 1-7 5 7 5 3 2 3 4 4-4 2-7-3-6 4-5 1-2-1-4-7 0-6 3zM553 358l2 5 1-5-1-6zM556 364l-1 7 2 7 4 3 5-3 2-7 0-7-7-2zM519 384l-4 7 1 6-1 6-3-6-3-2-7 1-1 1-5 7 0 7-1 0-6 1-7 4-1 1 1 2 3 5 4 4 4-4 2-4 7 3 7-4 2-2-1-6 5-7 7 5 1-5 3-7 1-6-1-7-4-4zM442 450l1 1 1-1-1 0zM275 457l-2 6 5 7 6-6 2-1-2-1-4-5-2-2zM469 463l-3 7 3 3 4-3-3-7-1 0zM257 470l1 3 6-2 5-1-5-1-6-1zM513 483l1 7 1 1 1-1 5-7-6-6zM287 490l4 2 1-2-1-3zM456 510l0 1 0-1 0-1zM447 523l2 1 5-1-5-2zM302 536l2 1 1-1-1-1zM216 582l-2 7-2 6-1 0 1 1 6 0 1-1 4-6-3-7-2-2zM276 582l2 4 1-4-1-1zM242 589l1 6 2 1 6 0 1-1 0-6-1-1-6-1zM454 602l0 7-5 6 7 1 1-1 2-6 3-3 3-4-3-2-6 1zM276 675l0 6 2 1 6 1 5-2-5-4-5-2-1-4zM419 760l-3 4-1 3-1 7 2 2 2-2 5-3 6-3 3-1-3-5-1-2-5-2zM383 787l7 4 3-4-3-4zM542 153l0 2-2-2zM469 186zM601 185l1 1 3 7 3 2 6 3 1 1 6 6 1 1 0 7-1 5-3-5-4-6-6 1-3-2-1-7-3-3-3-3 0-7zM588 208l2 5-2 2-2-2zM469 225l7-1 0 2 6 6-4 7 4 3 7 1 1 3-1 1-7 1-6 4 0 2-5-2-2-4-7-1-4-1 4-4 7 2 2-5-1-7-1-5 0-1zM634 225l1 1-1 1-4-1zM449 244l5 2-5 2-4-2zM528 334l6 4-2 7-4 1-6-1-1 0 1-1 4-6zM555 337l1 1-1 2-2-2zM542 344l0 1 0 1-1-1zM542 427l3 3 2 7 1 4 0 3 0 1-5-1-1-1-7-4-5-2 5-2 3-5zM522 436l6 1-6 2-2-2zM542 455l6 1 0 1 5 6 2 2 1 5-1 1-7 6 1 6-1 1-3-1-3-4-5-2 0-7 2-7 2-6zM535 503l7-3 1 3-1 2-7-2zM522 509l0 1 0 1-1-1zM528 521l7-3 2 5 0 6-2 7-6 7 0 6 1 7-2 4-5-4-1-2-3-5-2-6-2-4-3-3 3-2 7-4 1-1 1-6zM522 568l0 1 0 1-1-1zM489 574l1 2-1 0-1 0zM515 592l7-2 1 5 1 7-2 2-7 1-1-3-2-7zM515 616l1 6-1 1-2-1zM482 628l1 0-1 1 0-1zM502 626l7 2 0 2-7 2-4-4zM410 809l1 4-1 1-5-1z"/>
<path fill="#49ffad" d="M522 140l1 0-1 4-1-4zM528 159l2 1-2 4-1-4zM548 159l1 1 6 6 0 1-7 6-4 7-2 6 1 7 0 6 0 7-1 4-2-4-5-6-2 6 0 7 2 4 3 2 2 7-5 4-4 2 2 7-5 3-6 2-7 0-3-5 0-7 3-3 2-3-1-7 0-6-1-3-5 3 2 6-3 2-7 4-7-5-1-1-2-6 3-4 7-2 1-1 0-7-1 0-3-6 3-7 0-3 0-3-6-7-1-4-1 4-5 2-1-2 1-7 6 0 7-4 3 4 4 6 1 1 0 7 5 5 1 1-1 2-1 5-2 6 3 5 7-4 0-1 0-4-1-2 1 0 6 1 3-1 3-7 1-1 5-5-2-7-3-4-3-3 3-1 7 1 5-6zM581 179l1 1-1 1-2-1zM561 192l1 1-1 1-1-1zM476 204l3 2-2 7-1 0-2 0-3-7zM403 212l7-4 6 3 7 0 1 2-1 5-3 1-4 1-3-1-3-1-5 1 1 7 4 2 6 3 2 1-2 5-6 1-2 1-5 5-1 2 1 1 7 4 0 1 6 5 1 2-1 1-4 5-2 5-7-4-1-1-5-6 0-7-1-1-5-5 4-7-4-7 5-6 0-7 6-6zM476 230l2 2-2 3-2-3zM548 228l7 4 2 0-1 7-1 2-7 1-2-3-1-7zM588 232l2 7-2 3-4-3 3-7zM614 230l2 2-2 3-2-3zM561 243l7 1 2 2-2 2-7 1-3-3zM377 251l3 1 0 7 0 6 0 7-1 7 2 6 2 1 2-1 3-6 2-1 6-1 4 2 3 6-2 7 2 3 7-1 5 4 1 3 3-3 3-6-1-7-5-4-5-2 5-5 2-2 5-3 5-4 1-1 2 1 5 5 4 2 1 7 2 3 3 3 2 7-4 6 5 4 5 3 2 2 6 4 2 1 1 6 2 7 2 6 0 1-2 6-5 4-3 3 3 6-6 5-1 2-3 6-3 5-3 2 3 6 1 1 6 0 6 2 7-2 7-3 6-2 6-2 1-1 1 1 5 3 4 4 3 3 4 3-3 7-1 1-4 5-3 3-6 4-1 0-6 6-6-3-4 4 3 6 1 1 4 6-4 4-7 2-1 0-4 7-1 7 5 6 1 1 4 6-4 2-4 4-3 6-3 1 1 7 2 2 7-2 3 0 4-2 3-5 3-5 7 4 3 1 3 2 5-2-2-7 4-4 3 4 0 7 4 1 2 6-2 5-3 1-4 6-7-5-4-1-2 0-2 0-5 3-2 4-4 4-4 2-3 1-3-1-4-4-1 4 1 2 3 5-1 7-1 6-1 1 0-1 0-6-5-7-1-1-1 1-5 7-1 2-5 4-1 2-6 5 6 4 5 2 1 1 6 6-4 7-1 6 6 4 2 3 4 4 3 2-3 7-6 5-7-4-4 6 4 4 7 0 6-1 7 0 4 3-4 4-2 3-4 6-1 0-6 2-7-2-1 7-4 7-1 1-3 5-4 2-7 1-1-3 1-6-6-3-5-4 3-7 2-3 3-3-3-5-7 4 0 1-5 6 1 7 2 7 2 3 3 3 4 7 6 1 7 4 3 1 4 3 6 4 5 7 0 6 2 2 5 5 1 1 2-1 5-3 4 3 3 3 4 3-3 7 2 7 3 1 6 5 1 4 0 3-7 2-6 3-2 1 1 7-1 7-5 4-2 2 2 2 7 0 1 5 0 6-1 1-5 6-2 2-5 5-2 1-5 5 0 7-1 1-6 5-1 1-3-1-3-6 3-7 3-6 0-1-6 0-1 1-6 6 0 1 6 6-6 4-7-2-6-1-2-1-5-3-4 3 2 6-3 7-1 4-2 3 2 2 5 4-1 7-1 6-3 2-7 0-7-2 3-6 4-6 1-1-1 0-7 0-6-1-3 1-4 3-6 3-7-2-3 3-4 3-6-1-3 4 1 7-3 7 1 6-3 6-6 0-1 1 1 2 5 4 1 3 7 1 6-3 5 6 1 7 1 0 5 6-1 7-2 6 2 7 3 4 1 3 2 6 3 3 6 4 1 1 1 5 0 7 1 7 0 6 0 7 0 6 0 7-1 7-1 1-7 2-4 3-2 5-7 0-1 2 0 6 1 3 3-3 4-4 0 4 6 6 2 1-2 1-6 6-7 4-2 2-5 2-1-2-5-5-7 1-6 0-7-1-1-1 1-6 1-1-1-1-7-4-6 0-2-2 0-6 0-7 1-6-1-7-1-7 1-6 0-7 1-6-6-6-1-1 1-7 0-5 1-1-1-1-6-5-1-1-1-6-5-6-1-1-6-4-2-3-4-4-7-1-1-1-5-5-2-2-5-4-7 0-2-2-4-5-2-2-5-5-2-2 2-6-6-6-2-1-5-5-2-1-5-6-1-1-1-7-4-1-2-5 0-7 0-6 0-7-5-5-1-2 0-6-5-6-1-1-1-6 0-7 0-7-5-4-2-2-5-7-6-5-2-1-5-5-2-2-4-5-2-2 1-6 1-6 0-1 5-6 0-7 1-2 6-5-1-6 0-7 2-2 5-4 0-7 0-7 1-1 7 1-1-6 0-7 0-6 1-7 0-3 7 2 6-2 4-4 3-3 3-3 0-7-3-1-4-5-3-3-1 3-5 5-2 1 0 7-5 5-7-4-1-1 0-7 1-1 6-5 0-7 1-7-1-6-1-7 0-6 1-7-1-7 0-6 0-7 2-2 5-4 2-2 4-5 2-2 7 0 6-5-1-6 1-1 6-6 1-6 0-1 6-6 0-7 1 0 6-6 0-1 5 1-2 6-1 7-2 4-2 3 2 1 7 2 6 2 2 1 5 3 5-3 0-6 2-1 6 0 1 1 1 6-2 1-2 6 2 4 6 2 1 1 4-1 1-6 1-3 7-2 2-2 2-6 3-2 4-5-2-7-2-1-3 1-4 3-4-3-3-3-4-3-2-1-2-6 2-4 6 0 7-1 1-1 2-7-3-4-5-3 1-6 4-4 1-3 6-4 3-2-3-4-7 0-7-3-6 0-4 7-3 1-6 1-1-2 1-1 5-6 0-7 1-1 6 1 1 6 6 0 2-6 1-6-3-5-4-2 4-6 0-3 4-4 2-7 1-1 6-5 1-1 4-6 0-6 2-2 6-5 0-7 1-1 5-5 1-2 5-5 2-2 4-4 3-3 4-4 2-3 4-4 3-2 4-4 1-7 1-2 7-4-1-7 0-7 1-1 6-5 0-7zM426 312l-3 6-3 7 3 2 6 1 3-3 4-5 2-2 0-6-2-4-7 0zM440 325l1 6-1 7 3 5 6-3 1-2 2-7 4-4 2-2-2-2-7-1-6 0zM340 345l1 6 1 7 2 3 6 1 6-4-1-7-3-6-2-3-6 1zM427 364l2 6 6-6-6-1zM315 378l2 2 1-2-1-2zM320 404l4 7 6-2 2-5-2-3-6 0zM441 404l2 2 3-2-3-3zM433 430l3 5 3 2 4 3 3-3 3-4 3-3-3 0-6-3-7-1zM453 444l-4 2-6-1-7 5 7 7 6-3 6-4 1-1 6-5-6-4zM323 463l1 1 0-1 0-5zM427 470l2 4 1-4-1 0zM475 483l1 2 2-2-2-3zM260 490l4 4 2-4-2-4zM426 496l1 7 2 2 2-2 4-7-6-3zM276 503l2 1 0-1 0-1zM283 510l1 1 7 1 2-2-2-3-7 1zM236 516l2 4 1-4-1-4zM296 516l-2 7-2 6-1 3-1 4 0 7 1 0 6 5 4 1 3 1 1-1 5-6 1-4 0-3 0-1-7-6-3-6-2-7-2-1zM271 523zM232 536l6 6 1 1 4 6 2 2 6 1 1-3-1-1-3-5 0-7-3-3-7-3zM269 543l2 1 5-1-5-2zM317 549l0 1 1-1-1 0zM253 556l5 3 6-1 3-2-3-3-6 0zM309 562l2 1 6 1 1-2-1-2-6 2zM383 562l0 2 1-2-1 0zM243 569l-5 2-4 5-2 6 4 7-1 6 3 3 7 2 5 2 1 1 1-1 4-7 2-5 2-1-2-3-7-3-2-1-3-6 0-7-1 0zM272 582l2 7 4 5 6 0 4-5-4-6-1-1-5-6zM264 595l0 1 0-1zM435 595l1 1 1-1-1-1zM225 602l5 7 1 1 1-1 2-7-3-3-6 3zM263 615l1 2 5-2-5-4zM277 635l1 1 0-1zM294 642l3 2 4-2-4-2zM284 648l0 1 7 1 1-2-1-1-7 1zM278 655l-3 6-4 5-1 2-4 7-2 3 0 3 0 4 7-2 7 2 6 0 7 0 5-4-5-5-2-1-3-7 0-7-2-4-6-2zM396 655l-6 6-1 0 1 1 6 1 7-1 3-1-1-6-2-1-7 1zM295 661l2 4 2 3 3 7 2 3 7-1 2-2 0-7-2-3-7-2-2-2-5-2zM241 668l-3 2-5 5 1 6 4 3 3 4-3 2-3 4 3 5 7 1 6-5 7 0 6 3 4-4-4-5-6 5-5-6-2-1-6-4-3-2 1-6 2-3 2-4-2-1zM455 668l1 6 4-6-4-1zM464 668l0 7 5 2 5-2-1-7-4-4zM219 675l4 6 2 2 4-2 1-6-5-6zM459 688l3 3 2-3-2-2zM205 708l7 3 6 2 7-5 1 0-1-4-7 1-6 0zM442 708l1 0 0-1zM227 721l-2 4-1 2-2 7 3 2 4-2 2-1 7 0 7 0 3-6-1-6-2-5-7 1-7 1zM310 721l1 1 3-1-3-2zM373 721l-3 5 0 1 0 2 4-2 3 0 1-6-1-5zM380 727l-1 7 3 7-1 6 0 7 2 3 7-2 1-1-1-2-4-5-2-6 6-6 1-1-1-5-5-2-2 0zM294 734l3 3 7-3-7-2zM366 774l4 1 2-1-2-3zM251 800l0 1 5 6 2 0 1 0 0-7-1-2-7 2zM336 833l1 0 6 7 1 0 6 1 1-1-1-4-1-3-5-3-7 3zM349 853l0 6 1 7 7 4 3-4-1-7-1-6-1-2-7-1zM328 873l1 6 1 1 2-1 1-6-3-2zM535 252l-3 0zM588 250l1 2-1 2-2-2zM548 265l7-1 1 1 1 7 4 2 5-2 2-2 1 2 2 7-3 4-7 1-6-3-4-2-3-4-2-3 2-7zM581 263l3 2-3 2-2-2zM449 271l7-2 3 3 3 5 2 2-2 2-3 4 0 7-3 3-5-3 0-7 0-6-2-4-4-3zM522 277l6 0 3 2-1 6-2 2-6 3-2 2-5 3-4-3 3-7 1-1 5-5zM575 283l6 1 7-3 6 4-2 7-4 3-7-1-6-1-1-1-3-7zM535 293l3 5-3 4-5-4zM594 311l7 0 0 1 0 6-1 0-6 0 0-6zM581 337l7-3 2 4-2 3-7-1-1-2zM568 349l1 2-1 4-1-4zM594 350l1 1 0 7-1 0-4 0 2-7zM535 375l7-4 3 7-2 6-1 2-7 0-2-2-1-6zM575 375l2 3 0 6-2 4-7 2-1 1 1 2 1 4-1 1-7 6-6-6-2-1 2-6 6-3 4-4 3-2 5-4zM588 375l0 3-3 0zM542 396l1 1 1 7-1 7-1 3-7-3 0-1-7-5 0-1 0-2 7-3 3-2zM515 409l1 2-1 2-1-2zM555 417l0 7-1 0 0-7zM515 421l2 3-2 2-3-2zM482 434l5 3-3 7-1 6-1 5-2-5-1-6 1-7zM258 443l2 1 2 6 2 5 1 2-1 4-3-4-3-2-1-5 0-6zM297 469l1 1-1 0zM489 515l2 1 0 7-2 1-5-1 1-7zM476 523l1 0-1 0-1 0zM535 521l1 2-1 6 0 1 0-1-3-6zM522 596l0 6-2 0zM462 635l2 7-2 6-4-6 4-7zM489 653l3 2-3 2-2-2zM502 654l0 1 0 5-4-5zM489 667l1 1-1 3-1-3zM482 706l0 2 0 4-2-4zM443 766l0 1-2 0zM429 771l7-1 1 4-1 1-5 5-2 2-5 5-1 1-3-1-4-7 7-6zM390 819l6 1 2 0-2 0-6 0z"/>
<path fill="#b1ff46" d="M548 165l2 1-2 2-1-2zM509 192l0 1 0 1-6-1zM522 206l6-6 2 6-2 4-2 3 0 6-4 6-3-6 1-6 1-7zM515 239zM403 255l7 1 3 3-3 4-7-1-3-3zM370 265l1 0-1 4 0-4zM423 274l6 1 4 4-2 6-2 4-1-4-5-2-6-4zM561 278l2 1-2 1-2-1zM363 285l3 0 4 3 7-1 6 3 7 0 2-5 4-3 3 3-2 7 2 6-3 6 0 1 0 2 4 5-4 3 0 3 0 1 6 6 1 0 7 2 6 0 7 3 3 1 0 7 0 7 3 6-6 5-2 2 0 6 2 5 1 2 5 4 7-3 7 2 2 4 4 3 7 2 6 1-6 4-2 3-5 5-6 0-2 1-4 7 6 6 6 0 1 1 6 1 6 2 7 0 2 3-2 6-1 1-6 3-6-2-7 1-5-2-1-5-7 0-7 1-2 4 0 6 2 3 3 4 1 7-1 6-2 7-1 1-6 4-7-4-6 5 4 7 2 6 0 1 7 3 6 1 7 0 1-4 6-3 6 3 7 4 1 2 1 7-2 3-3 3-4 5-2-5-1-6-1-7-2-2-6 2-1 1-7 4-1 2-5 4-3 2 1 7 2 2 6 3 6-5 1-1 7 1 1 0-1 1-4 6-3 2-7 4-6-3-3 3 3 3 6-3 3 7-1 6-2 3-3 4 2 7 1 1 7 0 2-1-1-7 6-4 5 4-2 7 0 6 3 4 4 3 3 3 3 3-3 6-7-4-6 5-7 5 0 2 0 6-7 1 0-1-6-4-7 2-4 2-2 6-1 1-5 6-1 2-7 4 0 1-2 7 2 2 3 4 4 2 7 1 6 0 2 4-1 6-1 2-6 0-5 5-2 4-2 3 2 2 2-2 5-3 6-1 7 0 4-3-1-7 3-1 2 1 5 5 3 2 4 3 5 4 0 6 1 4 2 3 4 6-6 7 0 3-1 4 1 1 7 4 6 1 1 0-1 0-6 2-3 5 3 2 4 4 2 4 3 3 1 7-4 4-3 2 3 2 7 4 2 1 2 6-3 7-1 1-6 6-1 0-6 4-1-4-2-7-4-7-5 7-1 1-7 3-7-1-6 2-3 2 3 3 6 2 1 1-1 2-6 1-4-3-3-3-6 2-1 1-4 7 5 4 1 2-1 2-7 3-3 2-2 7-2 0-6 2-5-2 1-7 3-7 1 0 4-6-3-7-1-4-1-2 1-1 6-6-3-7-3-3-7-3 0-5 1-2-1-1-1-5-5-4-7 0-1 4 0 6-1 7-3 6 2 7 3 7-2 6-5 3-3 4 0 6 1 7-3 7-1 4-4-4-3-2-6 1-2 1 2 2 6 2 3 2 0 7-3 5-6-1-4 2-1 7-1 7-1 0-1 0-6-3-6 0-5-4-1-7-1-6 2-7-2-1-2 1 2 7-3 6 0 7-1 7 3 6 1 2 7 5 6-4 6 4 1 5 0 1 0 1-1-1-6-2-6-4-6 6 6 5 1 2 5 2 7 2 3 3 1 6 3 5 1 2 0 6-1 7 4 7 2 1 7 5 0 1 3 6 2 6 1 4 7 3 7-5 5-2 1 0 1 0 4 7 2 2 1 5 0 6 0 7 0 6-1 7 0 5-7 0-2 2-4 2-7 2-7 1-3 1 3 7-2 6-4 3-2-3 1-6-1-7-3-6-1-7-1-3-1-4 1-2 4-4-4-1-6-4-4 5 2 6 2 4 5 3 0 7-5 4-3 2 3 4 1 3-1 2-6 4-1 1-1-1-6-6-5 6-1 1 0-1-1-6 0-7 1-5 3-1-3-2-1-5-1-7 1-6 0-7 1-4 6 1 7 2 7-1 1-4 3-7-4-3-7 0-7 2-6-1-4-5 4-6 0-1 6-2 7-2 2-2 1-6 2-7-5-2-6-5 5-6-6-4-3 4 3 6-1 7-5 5-1 2-6 6-6-2-1-4 1-6 0-1 6-5 3-2 0-6-3-2-1 2-5 6-1 0-2 7-4 0-7-5-1-2-5-5-6-1 1-7 1-6-3-2-4 2-1 6-1 0-1 0-6-5-7 0-1-1-5-6-1-1-6-6 0-1 0-2 3-4-3-6-1-1 1 0 7-2 6-3 4-1-4-2-2-5 0-7-1-6-3-3-7-2-2 5-1 6-3 3-7 1-1-4-6-5-6 0-1-1 0-7 0-6 1-7 6-4 2 4-2 3-2 4 2 2 7 4 5-6 1-7-6-5-4-2-2-6-1-1-5-6 5-3 6-3 1-1 7-2 6 2 1 1 4 6 2 2 6 2 4 3 3 2 5-2-4-7-1 0-6-6-1-2-5-5-1-2-3-5-4-2-2-4-2-7-2-5-3-1 3-1 6-6 2 0 5-1 1 1 4 7 1 1 3-1 2-7 2-2 4-5 0-6 3-1 4 1-1 6 3 3 7 0 2-3 2-6 2-1 7-3 7-1 4-2 2-1 6-5-4-7-2-1-4-6-2-1-7-3-5-2 1-7 4-2 7 1 2 1 4 6 3-6-3-5-1-1 1-7-6-5-2-2-3-6 5-7-7-2-7 1 0 1 0 1 5 6-1 6 0 7-4 0-6 2-4 5-3 2-3-2 1-7-3-7-1-2-2 2-4 7 0 7 2 6-3 2-7 1-4-3-1-6-1-4-2 4-1 6-1 7-3 3-3 3-3 1-7 0-3-1-4-1-1 1-5 3-4-3 0-6-3-3-4-4-2-5-2-1-5-6-7 2 0-3 0-4 7 4 4-7 0-6-3-7 2-6 4-3 6 1 1 2 6 2 4 4 2 7 0 1 1-1 4-7 2-3 2-3 5-4 4 4 2 1 7 5 5 7 1 1 5-1 2-1 6-6-6-6 4-7 3-2 2 2 4 3 7 0 6-2 1-1 3-7-4-2-3-4-3-3-3-4 3-2 5-4 1-2 7-2 5 4 2 4 2-4 4-3 2-4 3-7 2-4 2-2-1-7-1-4-2-2-1-7-4-4-3-3-3-5-1-1-5-7 0-6 6-3 1-4 0-7 5-3 7 0 4-3-1-7 3-3 7-2 3-1-1-7 4-7 1-1 5-5 1-6 0-1-6 2-7 1-5-3-2-2-6-1-5 3-1 7-1 0-6 0-1 0-3-7 3-6 0-7 1 0 5-7-1-6-4-7 6-5 7 5-3 7 1 6 2 1 6 3 5-4 2-4 2-2 1-7 0-6-3-2-1-5 1-4 2-3-2-3-7 0-6-3-3 6-4 2-6 1-4-3-2-6 6-6 6 1 2-2 3-6-5-6-3-1-3-7 3-6 3-7-1-6 1-1 7-3 0 4 6 5 7 0 1 1 1 7 2 6 3 2 4 5 2 3 3-3 1-7 3-2 6-4 0-2 2-5-2-1-6-2-2-3-5-6-6 0-7 2-3-3-4-5-4-2 4-6 0-1 6-6 1-1 5-5 2-2 5-5 1-1 5-6 2-1 5-5 1-7zM357 463l6 7 2 0 0-7-2-1zM348 483l2 2 1-2-1-2zM330 496l0 1 1-1-1 0zM360 496l-2 7 5 2 7-2-2-7-5-4zM409 496l1 5 1-5-1-3zM383 503l7 4 3 3 3 1 4 5 3 6 1 1-1 0-7 5-2 1 1 7 1 1 7 3 6-4 1-1 4-6 1-6-4-7 0-6-1-6-7 4-7-2-2-3-4-6-7 5zM323 510l1 1 0-1 0-1zM376 516l1 1 0-1zM323 523l0 6 1 1 6 6 7-7 0-5 0-1-7-2-6 0zM363 523l-4 6 4 6 5-6-3-6-2-1zM342 536l2 1 1-1-1-1zM369 543l1 2 6-2-6-5zM339 549l5 4 3-4-3-3zM387 549l3 3 2-3-2-5zM381 556l-3 6 1 7-2 2-3 5 3 3 6-2 7-1-4-7 4-4 2-3-2-3-5-3-2-3zM416 556l0 1 7 3 1-4-1-1-7 0zM340 562l-3 7 7 2 3-2 2-7-5-4zM309 589l-3 6 5 6 4-6 2-2 2-4-2-3-6-2zM381 609l1 6 1 2 7-1 1-1-1-1-2-5-5-6zM287 622l4 4 1-4-1-1zM223 642l2 3 2-3-2-2zM349 648l1 1 3-1-3-2zM414 648l2 1 1-1-1-2zM235 655l3 5 7-2 2-3-2-3-7-1zM383 655l0 4 1 2-1 2-2 5 2 7 7 3 5 3 1 7 0 1 4 5 3 2 1-2-1-6 0-1-4-6 3-6 1-3 7-1 4-3 0-7-2-6-2-4-7-1-7 1-6 3-7-5zM427 668l2 2 3 5 4 3 4-3-3-7-1-1-7-2zM310 701l1 0zM336 701l1 2 7 0 1-2-1-1-7 0zM433 701l3 5 1 2 3 6 3 2 4-2 2-2 6-4-6-1-6-4-4-2-3-3zM289 708l2 2 3-2-3-2zM303 708l1 1 1-1-1-3zM316 708l-5 3-4 3-1 7 5 6 2 0 4 1 5-1 2 0 6-4 3-2-3-5-1-2-3-6-2-3-7 2zM268 721l3 5 2-5-2-4zM350 721l-6 2-6 4 6 4 6-3 2-1-2-6zM287 727l2 7 2 4 3 3-3 2-7 2-4 2 4 3 7 1 6 0 7-3 2-1-2-1-3-5 3-2 5-5-5-4-5-3-2-5-6 2zM323 734l1 2 1 5 5 6 7-2 3-4-3-6-2-1-5-1-6-3zM247 760l-2 7 6 7 1 0 6-1 2 1 4 1 2-1-2-4-1-3 1-2 3-5-3-2-6-1-7 0zM288 760l3 3 3-3-3-3zM324 760l1 7-1 3-3 4 3 3 6 0 2-3 4-7-6-4-6-3zM275 767l3 5 3-5-3-4zM266 793l4 7 1 2 3 5-2 6 6 3 2-3 4-6 7 1 2-1-2-7-3-7-4-1-6 0-7-2zM288 820l3 1 4 5 1 7 1 3 3-3 1-7-1-6-3-5-6 3zM297 846l0 1 1-1-1 0zM355 906l1 6 1 3 5 4-3 6 4 2 4-2-1-6 1-7-4-3-1-3-5-4zM374 912l3 2 1-2-1-1zM443 292l-1 0zM410 298l3 7-3 5-4-5 1-7zM443 302l5 3 1 6 0 1-6 2-1-2-4-7zM410 315l6 1 1 2-1 2-6 2-3-4zM436 330l0 1 0 2-1-2zM462 328l3 3-2 7-1 0-6 5-2-5 2-4 2-3zM436 350l4 1 3 2 6 5-4 6-2 2-2-2-5-4-6-2 2-7zM304 376l4 2-4 4-2-4zM482 376l7-1 4 3 2 2 4 4 0 7-4 5-4 1-2 1-1-1-5-6-1-1-6 0-1 1-3 6-3 4-2 3-5 3-3-3 3-6 1-1-1-6 0-7 7-3 7-2 2-1zM561 397l1 0-1 1 0-1zM297 450l2 0-2 1-1-1zM330 463l2 7-2 1-3-1 3-7zM436 463l7-1 6 1 0 3-6-1-7-1-3-1zM489 475l2 2-2 1-4-1zM238 482l7-2 6 3 3 0-3 2-5 5-1 1-7 0 0-1 0-7zM469 482l1 1-1 3-2-3zM278 489l0 1 1 6-1 1-7 0-1-1 1-1 5-5zM218 502l7 0 6-2 7-3 5 6-5 2-7 2-6-2-7 2 0-4zM212 509l3 1 3 2 3 4-3 6-1 1 1 6 0 1 2 6 0 7 0 6 5 4 4 3-4 2-7-1-3 5-1 7-2 7-5 0-2-2 0-5 0-1 4-6 2-6-6-3-1-4 1-6 0-7-1-7 0-6 0-7 1-1 6-5zM251 505l7 0 6-1 7 3 6 3-6 3-5 3-1 7-1 1-6-1-7-1-2 1-4 5-2-5 1-7 1-3 1-3zM284 518l2 5-2 5-1 1 1 3 1 4-1 1-3-1-3-1-4-6 4-5 2-1zM258 534l2 2 0 7-2 2-2-2-1-7zM278 548l2 1-2 3-7-3zM238 553l3 3 4 5 4 1-4 2-7 0-4-2 0-6zM284 553l7-2 4 5-4 3-5 3 2 7-4 2-6 1-5 4-2 2-7 4-4-6 0-7 4-6 2-1 5-3 7-1 3-2zM304 555l3 1-3 1-2-1zM225 569zM198 582l3 0-3 6 0-6zM443 580l2 2-1 7-1 1-1-1-6-7zM271 594l1 1-1 2-1-2zM258 600l1 2-1 2-1-2zM423 601l1 1-1 1-1-1zM443 601l1 1-1 1-3-1zM403 607l3 2-3 1-2-1zM192 647l6 1 7 6 1 1-1 0-7 4-6 0-1-4 0-7zM264 660l7 1-6 7-1 1-6 3-3-4 3-6 1-1zM185 668l7-3 2 3-2 7-7 3 0-3 0-7zM212 668l-1 0zM396 668l2 0-2 1-1-1zM198 681l1 0-1 1 0-1zM218 680l1 1 6 6 5 1-1 6-4 3-7 2-6 0-3 2-4 1-7 2-4 4-2 0-1 0 1-6 0-1-1 0-6 1 0-1 0-4 2-3 5-4 5 4 1 2 7 0 1-2 2-6 4-5 3-2zM258 679l1 2-1 2-2-2zM469 683l3 5-3 3-1-3zM179 694zM205 712l3 2 0 7-3 0-1 0-1-7zM212 724l6 2 1 1-1 1-3 6-1 7-2 1-1-1 0-7 0-7zM377 746l0 1 0 7 0 1-1-1-1-7zM449 751l6 3-6 3-1-3zM218 759l3 1-3 1 0-1zM377 776l3 4-3 2-5-2zM423 778l6-2 1 4-1 1-6 2-2-3zM238 801l3 6-3 0-1 0zM363 839l1 1 6 5 1 1-1 4-7 2-2-6 2-6zM370 864l1 2 2 7-2 6-1 1-1-1-6-4-2-2 2-5 3-2zM344 963l2 2 4 2 6 5-6 1-6 0-6-1 5-7zM383 965zM363 976l1 2-1 0z"/>
<path fill="#ffd000" d="M423 278l1 1-1 0-1 0zM370 291l7 1 6 2 7 1 4 3-4 6-1 1 1 1 2 6 0 6 2 7 2 1 7 5 0 1 4 6 0 7 3 5 6-4 5 5-4 7 1 6 1 7-3 3-6-2-5 6 2 6 2 7 1 2 1 4 1 7 0 7 1 6 3 7 7-1 0 1 0 1-4 5 0 7 3 7-5 6-1 0-5 7-1 1-7 3-1 2 1 4 3 3 4 3 1 4 3 6-4 3-6-3-1-1 0 1-2 7 2 4 1 2-1 3-3-3-4-1-4-5-1-7-1-1-4-5-3-3-6 3 2 6 2 7-4 6 0 1 0-1-7-6-4-7-2-6 6-4 6-3-6-7-7-6-6-7-5-6 1-7 4-3 3-4-3-5-2-1-5-2-5-5 5-5 1-1 2-7 0-7-3-5-2-1 2-2 4-5 0-6 2-7 1-1 4-6 2-1 4-5 3-6 3-1-3-2-7-4-1 0 1-3 1-4-1-1-1 1-5 3-3-3-4-3-6 0-7 1-3-5 3-4 3-2-2-7 4-6 2-2 6-5 6-7 1 0 5 0 1 3 2 4 5 2 6-2-6-6-2-1-4-6zM402 351l1 6 5-6-5-2zM395 384l1 3 2-3-2-2zM388 404l2 3 1-3-1-1zM330 364l2 0 5 2 7 4 1 1 2 7-3 2-7 2-3 2-4 3-3-3 1-6 2-4 2-3-2-5-2-2zM436 375l5 3 2 1 6 5-2 7-4 3-6 3-1 2-7 1-1-3-5-6 1-7 5-6 1 0zM317 416l2 1-2 3-2-3zM344 427l3 3-3 6-4-6zM324 434l4 3-4 5-4-5zM337 443l2 1-2 2-2-2zM357 475l4 2-4 4-2-4zM337 482l3 1-3 5-3-5zM344 488l2 2 4 4 3 2-3 2-6 2-2-4-3-6zM344 507l0 3 0 1-1-1zM363 509l7 0 7-4 6 4 1 1 6 2 6 3 1 1 1 7-2 1-6 5-6-6-1-2-2-5-4-5-7 2-5 3-2 1-4 6-2 3-7 2-6-4-1-1 1-2 6-3 1-2 6-6 1 0zM251 514l6 2-6 1-1-1zM311 514l6 2 0 1-6 2-2-3zM330 510l3 6-3 1-1-1zM377 529l0 1-1-1zM416 535l1 1 3 7-4 3-3 3-3 5-2 2 2 6 0 2-1-2-6-2-5 2 5 4 6 3-4 7-2 0-1 0-6-3-4-4 4-7-2-6 2-3 7-3 2-1 0-6 5-4 6-3zM443 535l1 1-1 5-2-5zM212 541l2 2-2 6 0 1-3-1 0-6zM330 542l3 1-3 5 0-5zM357 542l6-2 2 3 3 6 2 4 3 3-2 6 2 7-3 6-1 1 1 0 2 6-1 7 1 6 5 4 2 3 0 7-2 6 0 2-2 5-3 6-1 7-1 2-5 5-2 1-6 0-2-1-5-7-6 7 0 3-7-2-7 2-6 1-3-4 3-4 6-1 7 1 3-3-3-1-7-3-5-3-1 0-7-4-2-2 1-7-1-6 2-4 1-3 4-7 2-3 3-3-3-2-4-5 3-6 1-7 2 0 3 7 1 0 6 6 1 1 1-1 1-6 5-2 6-2 2-3 1-7-3-6 0-1 2-6 3-6zM324 615l6 1 3-1-3-3zM348 622l1 6 1 6 5-6 1-6-6-1zM429 549l7-1 5 1-5 3-7-2-1-1zM264 568l7-3 6 4-6 3-7 0 0-3zM304 581l0 1 1 7-1 1-2-1 0-7zM383 580l7 1 1 1 2 7-3 6-7-1-6-5 3-7zM304 600l1 2-1 6-1-6zM225 615l0 2-1-2zM245 610l6 3 3 2 4 5 1 2-1 6-1 0-5 7-1 1-5 6-1 0-1 0-3-7-3-2-3-5 3-5 5-1-3-7zM396 617l7 3 5 2-2 6-3 4-4 3-3 4-3 3-1 6-2 1-1-1-3-6 4-5 2-2-2-7 1-6zM218 626l4 2-4 7-4 0-2 0 2-7zM264 627l4 1-2 7-1 7-1 0-1-7-5-7zM429 641l3 1-3 1-2-1zM192 648l0 1 0-1zM311 653l1 2-1 1-3-1zM344 649l6 4 5 2 2 2 2-2 4-2 7-1 7 1 1 2-1 1-7 2-3 3 3 3 4 4 3 2 3 5 3 6 6 7-5 6-1 1-1-1-5-1-7-4-2 5-4 7-1 7 1 6 0 7-1 2-6 0-2-2-2-7 4-4 6-2-6-3-5-4-2-1-6-5-7 0-5 6-1 7-1 0-4-7 1-7-3-2-5 2-2 1-1-1 1-2 3-4 3-7 1 0 3-6 3-5 7 5 0 2 7 0 3-2-3-4-3-3-4-2-7-1-6-1-4-3 4-3 6-3 7 3 4-3zM347 661l3 6 4-6-4-2zM423 652l5 3-5 2-3-2zM436 654l7-6 2 7-2 5-7-3-4-2zM449 661l1 0-1 1-2-1zM410 676l6 0 7 1 6 0 5 4 2 4 5 3 2 1 6 1 6 4 1 3 2 4-2 1-7-1-1 0-5-3-3-4-4-4-6 4-1 2-1-2-5-1-5 1 3 7 2 1 6 6 1 6-1 5 0 2 6 0 1 0-1 6-6 6-1 1-5 2-7 3-5-5-1-3-4-4-3-3-6 3-1 1 0-1-4-6 1-7 3-4 4 4 3 3 2-3 0-6-1-7 6-5 4-2-4-2-2-4-2-7zM311 687l4 1-4 2-3-2zM218 693l2 1-2 1-1-1zM297 696l3 5-3 3-3-3zM278 704l3 4 3 5 1 1 4 7-5 4-6-4-1 0-2-7 0-6zM251 709l7 1 2 4-2 2-7 0 0-2zM344 713l1 1-1 1-1-1zM462 720l1 1 3 6 3 7-7 0-5-7 3-6zM278 732l6 2 3 7-3 1-6 3-7-3-2-1 2-4 3-3zM357 733l2 1-2 1-2-1zM317 739l1 2 2 6-2 7-1 1-1 5 1 7-3 7-3 3-4 3 0 7-3 6-7-1-6-3-7-2-5-7 4-6 1-3 7 2 6-1 3-5 0-7 4-5 3-1 4-1 4-6 1-6zM350 737l1 4-1 1-2-1zM238 744l7-1 5 4-2 7-3 2-7 0-2-2-2-7zM350 766l3 1-3 1-3-1zM271 777l5 3-5 4-5-4zM324 786l6-2 7 2 1 1-1 0-7 4-4 2-1 7-1 0-1 0 0-7 0-6zM297 798l2 2-2 1 0-1zM284 812l4 1-4 3-1-3zM264 815l6 5-2 6-4 5-1-5-4-6zM304 819l6 1-6 0zM278 821l6 1 7 3 1 1 0 7-1 3-7-1-6 0-5 5-2 0-7 0 0-5 4-2 3-2 4-5zM304 834l6 6 1 3 1-3 5-2 7 0 6 0 4 2-4 2-6 0-6 4-1 1-6 6-7 5-2 1-5 1 0-1 0-5 1-1 5-7-4-6zM317 865l4 1-1 7-3 2-3-2 2-7zM337 884l7-4 6 2 4 4 3 4 1 2-1 3-7-2-1-1-5 0-7-2-6-4zM350 903l1 3-1 5-1-5zM377 905l6-3 4 4-4 3-6-3-1 0zM383 918l2 1 5 4 0 2 0 2-7 2-2 3-4 4-7 2-5 1-2 0-2-7 2-1 7-2 5-4 2-2 5-4zM324 923l6-3 7 3 2 2-2 4-7 1-5 2-1 0-1-7zM324 950l0 2 0 1 0-1zM337 950l2 2-2 2-2-2z"/>
<path fill="#ff5900" d="M383 298l2 0 1 7 1 7-4 5-2 1 2 4 1 3-1 1-6 5-4 7-3 2-2-2-1-7-4-4-2-2-2-7 0-6 4-4 7 3 7-1 3-5 3-7zM344 311l6-2 3 3 0 6-3 4-1-4-5-4-1-2zM383 336l7-3 6-1 7 5 0 1 0 2-1 5-5 6-1 3 0 4 0 1 3 5-3 6 0 1-2 7-3 6 1 7-2 6-1 0-6 4-2 3-4 5-2 2 2 1 6 0 7 1 3-2 3-6 4-1-2-7 4-6 1-2 1 2 2 6-2 7 2 7 2 6-1 7-4 5-5 1 0 7 0 7 2 6-1 7-1 6-1 7 1 7-1 6-1 2 0-2-3-6-3-2-7-5-6-4-3-3-4-6 4-7 3-3 6-3 0-1 2-6-2 0-6-3-7 2-4-6-3-3-2-3-4-4-7-3 5-6 1-7 1-5 6 0 2-2 5-3 5 3 2 3 3-3-2-6-1-1-7-5-5-1 0-6-2-2-2-5 2-3 5-4 2-3 7-2 0-1 3-7 1-6 0-7zM436 377l1 1 6 3 3 3-3 7-7 3-7-1-1-2-1-7 2-2 6-4zM357 389l1 2-1 4-1-4zM357 443l6-4 3 5 0 6-3 2-1-2-5-6zM370 476l1 1-1 0zM357 516l0 1-1-1zM390 516l1 0 1 7-2 1-2-1 0-7zM410 542l0 1-1 0zM357 547l6 0 2 2-2 2-6 1-1-3zM357 562l6-3 3 3 1 7-4 4-3 3 0 6 0 7-3 3-6-3 4-7-2-6 2-7 2-7zM383 585l5 4-5 2-2-2zM330 594l1 1 3 7 3 3 6-3 1 0 1 0 5 4 3 3 4 2 2-2 4-3 4 3 2 6-6 5-6-3-7 0-5-2-1-1-7-2-3-3-4-4-6-3 5-7zM363 594l2 1-2 2-1-2zM245 614l2 1-2 1-1-1zM251 620l2 2-2 1-1-1zM324 619l6 0 7-1 4 4-4 6-7-2-6-2-3-2zM396 620l5 2-2 6-3 3-1-3 0-6zM330 641l1 1-1 0-1 0zM357 671l6 0 7-1 6 5-6 4-3 2-4 5-2 2 0 6-4 4-7-2-2-2 2-6-4-7 4-4 3-2zM330 679l0 2zM410 681l6-1 7 1 6-1 1 1 0 7-1 0-6 1-7-1-6-7zM383 687l1 1-1 0-1 0zM410 701l6 2 6 5 1 1 2 5-1 7 5 5 2 1-2 2-6 3-5 2-2 1 0-1-5-7-1-6 0-1-2-6 1-6 1-7zM284 720l1 1-1 0-1 0zM278 740l0 1-1 0zM311 757l3 3-1 7-2 5-2 2-5 4-3-4 3-6 1-1 1-7zM297 780l1 0 1 7-2 0-1 0 1-7zM304 839l1 1-1 1-1-1zM344 885l2 1-2 1-3-1z"/>
<path fill="#c40000" d="M370 323l1 2-1 1-1-1zM390 345l1 6 0 7 4 6-5 7 0 2-6 5-1 1 0-1-4-7 0-7 1-6 3-5 3-2zM377 381l5 3-5 2-3-2zM436 380l7 3 1 1-1 3-7 3-6-6zM363 407l2 4-2 5-2-5zM383 420l7-2 6 6-6 6 0 1-7 2-5-3 1-6zM390 448l4 2-2 7 2 6-4 7-7-4-4-3-2-4-2-2 2-2 6-1 5-4zM416 710l3 4-1 7 5 4 2 2-2 2-7 1-2-3 1-6-1-7zM311 760l0 3-1-3z"/>
<path fill="#800000" d="M436 382l4 2-4 3-3-3zM390 424z"/>
</g></g>
<use href="#lines"/>
<rect x="79.3" y="52.4" width="243.4" height="458.6" fill="none" stroke="#000" stroke-width="3.3"/>
<path d="M90 511v8.9M200 511v8.9M311.25 511v8.9M79.3 113.25h-8.9M79.3 233.65h-8.9M79.3 354.1h-8.9M79.3 474.5h-8.9" stroke="#000" stroke-width="3.3" fill="none"/>
<g style="font-family:'DejaVu Sans','Liberation Sans',sans-serif" font-size="26.6" fill="#000">
<text x="90" y="556.1" text-anchor="middle">120E</text>
<text x="200" y="556.1" text-anchor="middle">121E</text>
<text x="311.25" y="556.1" text-anchor="middle">122E</text>
<text x="53.4" y="123.45" text-anchor="end">25N</text>
<text x="53.4" y="243.85" text-anchor="end">24N</text>
<text x="53.4" y="364.3" text-anchor="end">23N</text>
<text x="53.4" y="484.7" text-anchor="end">22N</text>
<text x="200.7" y="26" text-anchor="middle" font-size="32"><tspan font-style="italic">Z</tspan></text>
<text x="364.8" y="46.8" text-anchor="middle" font-size="24.6">(dB<tspan font-style="italic">Z</tspan>)</text>
</g>
<path d="M352.3 73.5L363.85 52.1L375.4 73.5V93.5H352.3z" fill="#800000"/>
<path d="M352.3 490.6L363.85 512L375.4 490.6V470.6H352.3z" fill="#000080"/>
<rect x="352.3" y="73.50" width="23.1" height="52.44" fill="#c40000"/>
<rect x="352.3" y="125.64" width="23.1" height="52.44" fill="#ff5900"/>
<rect x="352.3" y="177.78" width="23.1" height="52.44" fill="#ffd000"/>
<rect x="352.3" y="229.91" width="23.1" height="52.44" fill="#b1ff46"/>
<rect x="352.3" y="282.05" width="23.1" height="52.44" fill="#49ffad"/>
<rect x="352.3" y="334.19" width="23.1" height="52.44" fill="#00c0ff"/>
<rect x="352.3" y="386.33" width="23.1" height="52.44" fill="#0040ff"/>
<rect x="352.3" y="438.46" width="23.1" height="52.14" fill="#0000c8"/>
<path d="M352.3 73.5L363.85 52.1L375.4 73.5L375.4 490.6L363.85 512L352.3 490.6z" fill="none" stroke="#000" stroke-width="3.3" stroke-linejoin="miter"/>
<path d="M375.4 73.50h9.5M375.4 125.64h9.5M375.4 177.78h9.5M375.4 229.91h9.5M375.4 282.05h9.5M375.4 334.19h9.5M375.4 386.33h9.5M375.4 438.46h9.5M375.4 490.60h9.5" stroke="#000" stroke-width="3.3" fill="none"/>
<g style="font-family:'DejaVu Sans','Liberation Sans',sans-serif" font-size="22.1" fill="#000">
<text x="400.8" y="81.80">34.00</text>
<text x="400.8" y="133.94">32.25</text>
<text x="400.8" y="186.08">30.50</text>
<text x="400.8" y="238.21">28.75</text>
<text x="400.8" y="290.35">27.00</text>
<text x="400.8" y="342.49">25.25</text>
<text x="400.8" y="394.63">23.50</text>
<text x="400.8" y="446.76">21.75</text>
<text x="400.8" y="498.90">20.00</text>
</g>
</g>
<g transform="translate(0,619.5)">
<g clip-path="url(#isl)"><g transform="scale(.5)">
<rect x="160" y="130" width="500" height="880" fill="#000080"/>
<path fill="#0000c8" d="M515 142l1-2 6 0 5 0 1 1 7 1 5 5 2 1 5 5 1 2 5 5 2 1 5 5 1 2 7 0 5 5 2 2 6 0 5 5 2 2 6 0 7 0 5 4 2 2 4 5 2 1 5 5 2 2 5 5 0 7 1 1 5 5 2 2 5 5-5 5-2 1-5 5-1 2-5 5-7 0-2 2-4 4-2 2-5 5-1 2 0 6 0 7-1 7 0 6 1 7-1 6 2 2 5 5 0 7 2 1 4 5 0 7-4 4-3 2 1 7 0 7-5 5-2 1 0 7-5 4-1 2 0 7 0 7-5 5-2 1 0 7 0 6-5 5-2 2-4 5-2 2-5 4-2 2-5 5-1 2 0 6 0 7-5 5-2 2 0 6 0 7 2 1 5 5 0 7-5 5-2 2 0 6-5 5-2 2 0 6 0 7 0 7-4 4-2 2 0 7 0 6 0 7-5 5-2 2 0 6 0 7 0 6 0 7 1 7-6 5-1 1 0 7 0 6 0 7-5 5-2 2 0 6 0 7-5 5-2 1 1 7 0 7-5 5-2 1 0 7-1 6 0 7 0 7-4 4-2 2-5 4-2 3 0 6-4 5-2 2 0 7 0 6-5 5-1 2 0 6-5 6-2 1-5 5-1 2-6 5-1 1 0 7-5 5-1 1-6 6-1 1-5 5-3 2-4 4-2 2-5 5-2 2-4 4-2 2-5 5-1 2 0 7 0 6-5 6-2 1 0 6-5 6-2 1 0 7 0 6-5 5-1 2-1 6 1 7 0 7-1 6 0 7 1 6 0 7 0 7 0 6 0 7 0 6 0 7 0 7-5 5-2 1-5 5-1 2 0 6 1 2 6 5-6 5-1 2-5 5-2 1-5 5-7 0-4-5-2-1-7 0-6 0-7 0-5-5-2-2-5-5-1-1-6-6 0-6 1-7-1-6 0-7 0-7 1-6-1-7 0-6-1-2-5-5 0-7 0-6-1-2-6-5 0-6-1-2-5-5-2-1-5-6-1-1-7 0-5-5-1-1-6-6-1-1-7 0-5-5-1-2-6-5-1-1-5-6 0-6-1-1-6-6-1-1-5-5-2-2-4-5-2-1-6-6 0-6 1-7 0-6-1-7-1-1-5-6 0-6-1-2-6-5 0-6 0-7 0-7-1-1-5-5-2-2-5-5-1-1-5-5-2-2-5-5-1-1-6-6 0-6 0-7 6-5 1-1 0-7 5-5 2-2-1-6 1-7 5-5 1-1 0-7 0-7 5-5 2-1 0-7 0-6 0-7-1-7-1-1-5-5 0-7 5-5 2-1 0-7 0-7 0-6 0-7 0-6 0-7 0-7 0-6 0-7 5-5 1-1 6-6 1-1 5-5 7 0 1-2 0-6 5-6 2-1 0-6 5-6 1-1 0-7 6-5 1-1 5-5 2-2 0-6 5-6 1-1 0-7 5-5 3-1 0-7 4-4 1-2 6-6 1-1 0-7 5-5 2-1 0-7 5-5 1-1 0-7 5-5 2-2 5-5 1-1 6-6 1-1 0-6 5-6 2-1 0-7 5-5 1-1 5-6 2-1 5-5 1-1 6-6 1-1 5-5 1-2 6-5 1-1 0-7 5-5 2-1 0-7 0-7 5-5 2-1 0-7 5-4 1-2 1-7 4-5 3-2 4-4 2-2 0-7 4-5 2-1 5-5 2-2 5-5 1-2 5-5 7 0 2-1 4-5 7 0 7 0 1-2 5-5 7 0 6 0 7 0 7 0 1-1 5-6 2-1-1-7 6-5 1-1 5-5 2-2 5-5 7 0 1-1zM521 496l0 7 1 1 1-1 0-7-1 0zM487 523l2 1 1-1-1-3z"/>
<path fill="#0040ff" d="M515 143l3-3 4 0 4 0 2 2 7 1 3 4 4 3 3 3 3 4 3 3 4 3 3 3 3 4 7 0 3 3 4 4 6-1 3 4 4 4 6 1 7-1 3 2 4 4 2 3 4 3 4 3 3 4 3 3 0 7 3 3 4 3 3 4 3 3-3 3-4 3-3 3-3 4-3 4-7-1-4 4-2 2-3 4-4 4-3 3 0 6 0 7 0 7 0 6 1 7-1 6 3 4 3 3 1 7 3 3 3 3-1 7-2 2-5 4 2 7 0 7-4 3-5 3 1 7-3 2-2 4 0 7-1 7-3 3-3 3-1 7 0 6-3 3-4 4-2 3-4 4-3 3-4 3-3 3-3 4 1 6 0 7-4 4-3 3 0 6 0 7 3 3 3 3 0 7-3 3-3 4 0 6-4 4-5 3 1 6 0 7 0 7-2 2-4 4 0 7 0 6 0 7-3 3-4 4 0 6 0 7 1 6 0 7 1 7-5 4-3 2 0 7 0 6 0 7-3 3-4 4 0 6 0 7-3 3-4 3 1 7 0 7-3 3-4 3 0 7-1 6 0 7 0 7-2 2-5 4-2 2-4 5 0 6-2 3-4 4 0 7 1 6-4 4-3 3 1 6-4 5-3 2-4 4-3 3-4 4-2 2 0 7-4 4-2 2-5 5-3 2-3 3-6 4-1 1-4 5-3 3-4 4-2 2-4 4-3 3-2 4 0 7 0 6-4 5-4 2 1 6-4 4-4 3 0 7 1 6-4 3-3 4-2 6 3 7-1 7-1 6 0 7 1 6 1 7-1 7 0 6 0 7 1 6 0 7 0 7-4 4-3 2-4 4-2 3 0 6 2 3 4 4-4 4-2 3-4 4-4 2-3 4-7-1-3-3-3-3-7 1-6 0-7 0-4-4-3-3-4-4-2-2-4-5 0-6 0-7-1-6 0-7 0-7 1-6 0-7 0-6-3-3-3-4 0-7-1-6-2-3-4-4 0-6-3-3-4-4-3-2-4-5-2-2-7 0-4-4-2-2-5-5-2-2-7 0-4-4-2-3-4-4-3-3-4-4 0-6-2-3-5-4-2-3-4-3-3-4-3-3-3-2-5-5 0-6 1-7 0-6 0-7-3-3-4-4 1-6-3-3-4-4 0-6-1-7 1-7-3-2-4-4-3-3-4-4-2-3-4-3-3-3-4-4-2-2-5-5 0-6 0-7 5-4 3-2 0-7 3-3 3-4 0-6 0-7 4-4 2-2 0-7 0-7 4-4 3-2 0-7 0-6 0-7 0-7-3-2-4-4 0-7 4-4 3-2 0-7 0-7 1-6 0-7-1-6 0-7 0-7 0-6 0-7 4-3 3-3 4-4 2-3 4-4 7 0 2-3 0-6 4-5 3-2 0-6 4-5 3-2 0-7 4-3 2-3 4-4 3-3 0-6 4-4 3-3 0-7 3-3 6-3-1-7 2-2 3-4 4-4 2-3 0-7 4-4 3-2 0-7 4-4 2-2 0-7 4-4 3-3 4-4 2-2 5-4 2-3 0-6 4-5 3-2 1-7 3-3 2-3 4-4 3-3 4-4 2-2 5-5 2-2 4-4 3-3 4-4 2-2 1-7 3-4 3-2 0-7 0-7 4-3 3-3 1-7 3-3 3-3 1-7 2-3 5-4 2-2 4-4-1-7 3-3 4-3 3-3 4-4 3-3 2-4 4-3 7-1 4-2 2-3 7 0 7 0 3-4 3-3 7 0 6 0 7 0 7-1 2-2 4-5 3-2 0-7 4-4 3-2 3-4 3-3 4-3 7 0 3-3zM508 180l1 0 6 2 1-2-1-2-6-1zM429 213zM455 213l1 1 1-1-1-1zM481 213l1 4 3-4-3-1zM442 219l1 1 3-1-3 0zM461 226l1 2 2-2-2-3zM615 226l6 5 3-5-3-4zM389 239l1 0 6 2 1-2-1-1-6 0zM396 252zM514 259l-3 6 4 5 7-3 2-2-2-4-2-2-5-4zM534 292l-6 5-2 1 2 5 7-1 2-4-1-6-1-1zM557 298l4 4 6-4-6-1zM567 345l1 0 1 0-1-1zM335 358l2 1 1-1-1-3zM317 457l1 0-1-1zM516 496l1 7 0 7 5 1 6 0 2-1 0-7-1-7-1 0-6-4zM462 516l1 0-1 0zM485 516l-3 4-1 3 1 6 0 3 7-3 6-5 1-1-1-1-2-6-4-2zM488 602l1 4 1-4-1 0zM478 609l4 1 6-1-6-2zM492 609l3 3 1-3-1-1zM496 615l6 2 1-2-1-1zM475 628l1 1 1-1-1-1zM484 648l3 7 2 1 1-1 1-7-2-3zM363 800l0 1 1-1-1-1zM369 807l1 0 0-1zM375 853l-3 6 4 7 1 1 0-1 6-6 1-1-1 0-5-6-1-2z"/>
<path fill="#00c0ff" d="M515 145l4-5 3 0 3 0 3 3 7 2 2 2 5 4 2 2 4 6 1 1 6 4 2 2 4 6 7 1 0 2-4 5 2 6 2 5 2 2-2 0-5 6 5 6 1 1-1 3-1 4 1 2 2 4 5 3 1-3 3-6 2-7 1 0 6-1 4 1 2 0 7 1 0-1 2-7-2-3-3-3 0-7 3 0 1 0 6 6 0 1 6 5 2 1 5 5 2 2-1 7-1 4-4-4-3-4-2 4-2 6-2 5-7-2-3-3-4-3-6 3 6 4 3 3 0 6 4 5 6-5 1-2 6 1 2 1 5 3 2 4-2 2-7 0-6 5-5 6-2 2-4 5 0 6 0 7-1 7 0 6 1 7-1 6 5 6 1 1 1 7 5 5 1 1-1 6-7 0-1 1-6 5-1 1 1 4 7-3 2 6 0 7-2 2-5-2-2-5-2 5 1 6 1 7-4 6 1 7-1 7-2 1-5 5-1 7 0 6-1 1-6 6 0 1-6-1-1-1-7-3-4 4 4 4 7-3 1 6-1 1-6 5-1 1-4 6 1 6-1 7-2 2-4 5-1 6 0 7 5 5 2 1 0 7-2 2-4 5-1 6-2 2-6-2 1-6 0-7 0-7-1-3-3-3-4-4-3 4 1 6-1 7 3 7 6 6-1 7 2 5 0 1 1 7-1 7-2 0-5-6-1-1-1-7-4-6-1-1-6-5-7 4-1 2-5 6-1 0 1 3 1 4 3 7 2 6 7-1 2 1 4 4 4-4 3-2 0 2 1 7 1 6-1 7-1 1-6 6 0 6-1 5-1 2 1 0 2 6 0 7 1 7-3 3-5 3 1 7 0 6-1 7-1 1-6 6 0 6 1 7-2 1-5 5 1 7 0 7-2 2-5 4-1 7-1 5-4 1 4 6 0 1 0 7-7 4-6 0-3 2-4 4-1 3 0 6 1 5 1 2 1 7 0 6-2 2-4 5 1 6-3 3-5 4-2 2-4 5-3 2-4 4 0 7-2 2-3 4-4 4-5 3-1 2-7 2-7-1-1 4 1 2 1 4-1 1-6 4-2 2-4 6-1 1-3 6 0 7 0 6-3 4-5 3 0 6-2 3-6 4 0 7 1 6-2 2-5 5-1 3-7-2-1-1 1-5 4-2-4-2-6 2-1 0-6 5-2 2 0 6 1 7 0 7 1 0 7 3 3-3 3-5 1-2 6-5 2 5 0 7-2 5-3 1-4 4-1 3 1 2 7-2 2 6 1 7-1 7-1 6 0 7 1 6 1 7 0 7-3 3-5 3-2 2-3 5-1 6 4 4 3 3-3 3-3 4-3 3-5 3-2 2-7 0-1-2-5-4-7 1-6-1-7 0-3-2-4-4-3-3-3-4-3-3 0-6 0-7 0-6 0-7-1-7 1-6 0-7 0-6-4-5-2-2 0-7-1-6-3-4-3-3 0-6-4-4-3-3-4-4-2-3-4-3-7 0-3-3-3-4-4-3-3-3-7-1-2-2-4-4-3-3-4-4-2-3-1-6-3-4-3-3-4-4-2-2-5-6-1-1-5-3-3-4-1-6 1-7 0-6 0-7-4-4-2-3 1-6-5-4-3-3 0-6-1-7 1-7-4-3-3-3-4-4-2-3-4-4-3-2-4-4-3-3-3-3-4-4 0-6 0-7 4-3 5-3 0-7 1-1 5-6-1-6 0-7 3-2 3-4 1-7 0-7 2-2 4-4 1-7-1-6 0-7 0-7-4-3-3-3 0-7 3-3 4-3 1-7-1-7 1-6 0-7-1-6 0-7 1-7-1-6 1-7 2-2 4-4 3-3 3-4 3-3 7 1 3-5 0-6 3-4 4-3 0-6 3-3 4-4 0-7 3-2 4-4 2-2 4-5 1-6 2-3 4-4 0-7 2-2 7 2 0 1 7 2 6 0 7 1 6-1 3-3-3 0-6-2-5-4-2-2-6 1-7-6 4-6 3-3 4-4-1-7 3-3 4-3 0-7 3-2 3-4 0-7 3-3 4-4 3-3 4-3 3-3 3-4 0-6 3-3 5-4 0-7 2-1 4-5 2-3 4-4 3-2 3-4 4-4 4-3 2-2 4-5 3-3 4-3 0-7 2-2 5-4 0-7 0-7 2-2 5-4 1-7 1-1 4-5 2-7 0-1 2 1 5 4 4 3-3 6 5 7 7-4 2-3-2-6-3-7-2-7-2-3 0-3-1-7 1-1 6-5 1-1 6-6 1-1 4-6 2-2 7 0 5-4 1-1 7 0 7-1 5-5 1-1 7-1 6 1 7-1 7-1 3-3 3-4 4-3 0-7 3-2 4-4 2-3 5-4 2-2 7 0 5-4zM507 166l-5 4-3 3 0 7 2 6 1 1 3-1 4-2 2 2 4 3 5-3 2-5 0-1 1-7-1-5-7 2-5-4-1-1zM462 199l-3 7-3 0-7 4-1 3-5 2-7 1-1-3-4-7-2-1-4 1-2 3-3 4 3 3 6 1 5 2-2 7 2 6 2 1 6-1 1-1 1-5 5-2 7-3 1 5-1 4-7 2-2 0-4 2-1 5 1 2 6 0 2-2 5-6 6 3 2-4 5-5 7 0 2-1 4-2 7 0 3-5 3-5 1-1-1-2-6-1-7-2-6 0-5 5-2 2-2-2-2-7 4-2 1-5-1-1-7 1zM507 199l2 3 1-3-1 0zM501 206l1 1 3-1-3-1zM415 219l1 1 1-1-1-1zM566 226l1 6 1 2 7 1 1-3-1-2-5-4-2-3zM479 232l-3 4-5 3 4 7 1 1 1-1 5-4 7-3-4-7-3-4zM510 246l1 6-2 7 0 2-7 4 4 7 1 7 2 2 6-1 5-1 2-4 6-3 2-7-2-4-1-2-5-5-2-2-1-6-4-2zM486 252l0 7 3 3 4 3 2 3 6-3 0-6 1-5 1-2-1-1-7 0-6-1zM532 252l3 2 2-2-2-1zM456 279l0-1zM495 292l1 0-1 0zM531 292l-3 2-5 4-1 6 0 1-6 7-1 2-1 4 1 1 3-1 4-1 2-5 4-4 7-1 3-2 2-7 2-3 1-3-1-1-7-3zM565 292l-4 1-6 2-3 3-4 5-3 2 3 3 7 0 6 0 7-2 3-1 2-7 2-1 2-5-2-4-7 3zM469 298l0 1 0-1zM460 312l2 1 6-1-6-5zM573 312l0 6 2 4 0-4 1-6-1-4zM473 318l3 2 1-2-1-1zM547 318l1 4 1-4-1-1zM571 331l1 7-4 1-5 6 5 5 4-5 3-6 1-1 2-7-3-5zM436 338l7 3 2-3-2-3-7 3zM540 338l-5 3-3 4 3 2 7 1 5-3-3-7-2-2zM588 338zM494 345l-3 6 4 3 6 4 1 1 0-1 2-7-2-1-5-5-2-6zM334 351l-4 6-6 1 6 1 7 3 6-4 1-3 0-4-7-2zM465 351l-3 5-1 2-3 6-2 6-1 1 1 0 6 4 5 3 2 1 7 0 6 2 2-3-2-5-6 3-5-5-2-5-1-2 1-1 2 1 5 2 4-2-3-6 1-7-2-2-7-2zM548 358l-6 5-1 1 1 1 6 2 3-3-3-6zM567 364l1 1 2-1-2 0zM506 378l3 5 1-5-1-2zM554 384l1 3 1-3-1-1zM566 384l-5 5-5 2 5 2 7 0 7-2 1 0-1-2-4-5-3-3zM498 391l4 6 7-6-7-4zM522 397l-7 5-4 2 1 7 3 0 1 0 6-4 1-3-1-7zM534 411l1 0 7 1 1-1-1-6-7 4zM502 430l0 1 1-1-1-1zM520 430l-5 6-1 1 1 2 7-2 1 0 1-7-2-1zM302 437l-4 7 6 4 3-4-3-7 0-2zM501 444l1 1 1-1-1-1zM271 450l0 3 3 4 3 6 1 1 0-1 1-6 3-7-4-2-7 1zM291 457l4 6-4 7 6 3 3-3 0-7 0-6-3-6zM314 457l3 4 7 2 2-6-2-3-7-1zM322 477l2 1 1-1-1-2zM488 477l1 0 6 1 1-1-1-2-6 1zM462 483l0 1 1-1-1-3zM482 503l7 1 0-1 0-1-7 1zM493 510l-4 1-7 3-1 2-2 7-1 6-2 6-1 1-6 3-6 4-1 1-2 5 2 2 2-2 5-2 7-1 6-3 0-1 7-6 6-4 7-1 1-2-1-1-3-5-2-7-1-6-1-1zM459 516l2 7 1 0 1 0 6-5 2-2-2-2-7 0zM243 523l2 0 2 0-2-1zM449 536zM506 536l3 2 3-2-3-2zM480 569l2 2 2-2-2-4zM497 569l5 2 2-2-2-2zM456 576l0-1zM490 582l5 4 4-4-4-5zM434 589l2 4 3-4-3-1zM386 602l3 7 1 0 2 0 4-7-6-4zM447 602l2 1 3-1-3-2zM482 602l-6 3-3 4 3 5 6 1 7-2 2 2-2 6-7-4-6 0-3 5-2 6 5 6 1 1-1 1-7 5 0 1-2 6 2 3 4 4 3 3 6 1 7 2 6-6 0-7-3-6-3-7-7-6 0-1 7-5 6 0 7 0 1-1 3-7-4-6 0-1-5-6-2-5-6 0-7 5zM374 609l3 2 2-2-2-3zM409 628l1 1 0-1zM486 668l3 3 4-3-4-6zM264 681l7 1 0-1zM277 701l1 0zM416 760l0 1 1-1-1 0zM375 774l2 3 1-3-1-1zM390 787zM377 793l6 4 5-4-5-3zM359 800l2 7 0 6 2 3 7-2 1-1 3-6-4-6-1-1-6-5zM385 813l5 5 4-5-4-3zM369 826l1 5 1-5-1-1zM388 826l2 1 0-1 0-1zM357 945zM575 180l6-2 2 2-2 5-6-2-1-3zM588 186l1 0-1 2-2-2zM627 217l2 2 5 5 2 2-2 1-6 5-1 1-2-1 2-6-5-7zM476 646l1 2-1 2-2-2z"/>
<path fill="#49ffad" d="M522 140l1 0 5 5 7 1 0 1 7 6 0 4-7-3-7 0-3 6-3 3-7 1-4-4-2-5-6 5-1 2-1 4-5 7-1 2-6 3-1-5-1-7 2-1 5-5 1-1 6-6 1 0 7 0 6-6 1 0 4-7zM542 166l6-5 7 5 0 6-7-1-6-4-2 6 2 1 6 1 7-1 2 6 3 6 0 7-3 6-2 3-7 0-1 4 1 1 5 6 0 6-1 7 3 2 6 2 2 2 3 7 2 2 7 2 2-4 4-6 4-1-4-1-4-5 4-7 1 0 4 7 2 5 1 1 3 7-1 7 3 2 7-1 1 5-1 1-6 6 0 6 0 7 0 7-1 6 2 7-1 6-1 6 0 1 0 7-1 6 1 7-5 6-1 2-3-2-4-6 0-6 0-1 0-6 0-7-3-7 2-6 1-5 3-2 3-6-6-2-2 2-4 3-5 3-2 1-7 3-6 2-6 1-1 3 0-3-6-2-6-5-1-2-1 2-6 5-1 2-5 4-5-4-2-5-3-2 3-1 7-3 6-2 1 0 6-7 7 0-7 0-1-7 1-3 7-2 4-1 2-1 3-6-3-2-6 0-7-2-7 2-3-4-3-4-7-1-4-2-2-3-7 1-4 2 1 7-4 1-5-1 3-7-3-7 3-6 2-4 4-3 1-6 2-2 7-3 4-2 2-4 2-3-1-6 6-5 6 0 4-2-4-2-2-4 0-7 2-3 7-3 6-1zM548 193l0 1 1-1-1-1zM574 252l-2 7 3 3 1 3 5 2 4-2 0-6-4-4-4-3-2-1zM482 178l6 2-1 6-5 6-2 1 2 5 7-4 1-1 2-7 3-4 2 4 5 4 7-1 4 4-4 2-7 4-1 0-6 6-1 1-5 1-3-1-4-6-6 1-2-2-4-6-1-3-3-4 3 0 7-2 4-4zM456 186l2 0-2 3-2-3zM416 198l7 0 6-2 7 0 7-3 4 6 0 7-4 5-7-2-2-3-5-5-6 2-5 3-2 2-1-2 0-7zM614 199l0 1-4-1zM561 205l1 1-1 3-1-3zM608 202l1 4-1 2-1-2zM621 206l0 2-1-2zM627 219l1 0-1 1 0-1zM423 225l1 1-1 4 0 2-2 7 2 1 1-1 5-5 7 2 3 3 2 7 1 6-6 5-7 2 7 1 7 0 1-1 5-4 3-3-3-6 0-1 7-6 6 7 0 1 4-1 3-1 1 1 2 6 1 7-4 1-7 3-2 2 2 4 7 0 4-4 3-5 6 3 3 2 4 5 2 2-2 5-5 2 4 6 1 7-3 6 3 4 6-3 7 0 5 6 2 5 0 2-4 6-2 7-1 1-7 2-5 3-1 7 1 7-1 2-5 4 2 7-4 2-1-2 0-7-5-6-2 0-2-7 2-7 2-1 5-5 1-2 2-5-2-2-5-4 3-7-1-7 0-6-3-5-7 1-6 4 1 6-2 2-4-2-2-1-7 0-1 1-2 7-3 4-3 3 3 1 5 5-5 5-6 2-1 0-2 6-3 7 5 5 7 1 2 1 1 6 3 4 7 1 1 2-1 2-7 2-1 2 0 7 1 3 7 2 3 2 3 2 7 2 7 1 2 1 4 3 3-3 4-6 0-1 6-5 4 6-4 4-2 2-1 7-1 6-2 7-2 7 2 4 3-4 3-3 7-1 2 4-1 6-1 1-4 6-3 6 0 2-6 4-1 1 1 2 1 5 2 6 3 4 3 3 4 4 3-4 1-7 3-5 6 1 2-2 5-3 6-1 7-1 1-2-1-1-4-6-2-6 6-7 5 7-2 6 4 4 6-3 0-1 5-6 2-2 0 2 1 6 0 7-1 1-6 6 0 6 0 7 6 6 0 7-6 7-1 6-2-6 0-7-1-7 1-6-3-7-1 0-7-4-4 4-3 7 0 4 0 2-6 2-3-2-4-1-1 1-5 7 5 7-1 6-4 7-7 6-7 6-3-6-3-4-4-2 4-3 6-3 2-1 2-6-4-7-6 0-5 7-2 3-6 3 0 1-1-1-5-6 6-7 4-7-4-3-6-3-1-1-1 1 0 6-1 7-5 4-6 1-3 2 3 5 0 1 5 7-3 6 1 7 3 3 7 4-7 1-6 4-1 1-1 7 2 4 6 0 6-4 1-1 6-6-6-6 7-4 6 3 1 1-1 0-5 6-1 7 0 2-3 4-4 6-2 1-5 3-5 4-1 1-3-1-1-7-3-7-6 0-7 0-1 0 1 1 4 6 2 7 1 2 6 0 3 4 1 7 3 1 6-1 7-4 7 0 6 4-6 4-4 2 3 7 1 2 3 5-1 6-2 2-7 4 0 1-4 6 4 3 4 4-4 5-7-4-1-1-5-2-5-5-2-4-1-2-5-6-7 1-6-2-1 0-3 7-3 4-5 2-2 4-1 3 1 1 2-1 5-3 6 3 7-1 2 1 5 4 6 1 3 2 4 1 6 0 7 5-2 7 1 6 1 1 4 6-4 4-4 3-3 5 0 1 0 1 4 6-2 6 5 7-7 6 0 1-3 6-3 3-4 4-3 4-5 2 1 7 4 3 7-2 5-1-4-7 5-5 1-1 6-5 4-2-3-6 6-4 6-1 4 5-4 2-3 4-1 7-1 6 1 7 4 7 0 1 0 5-6 7 1 6-1 2-6 5-1 1-5 6-2 1-5 5 0 7-1 1-4 5-3 3-6 4-7 0-7-2-4 2 0 7-2 5-7-2-3-3-3-5-2 5-5 5-1 1 1 1 7 1 4 5-3 6 1 7 0 7 0 6-2 3-7 4 1 6-1 1-5-1 4-6-4-7-1-6-1-2-6 1 0 1-7 3-5-3 5-6 2-1 5-2 5-5 1-1 3-5-3-5-6 2-7 0-2-4 2-5 1-1-1-1-6-4-6 5 0 6 6 4 4 3-4 2-7 3-7-2-2 3-4 5-1 2-2 7 0 6 3 4 2 3 4 3 2 3 1 7 4 6 4 1-4 2-7 3-2 1-2 7 4 3 2 3 0 7-2 4-6 2 0 1 0 1 6 1 7 2 4 2 3 5 0 2 5 6 1 1 2-1 5-1 0 1 2 7-1 7-1 5-1 1-4 7 5 1 1 5 0 7 1 7-2 2-6 4-1 1-4 6-1 6 5 5 2 2-2 2-4 5-2 2-7 4-2 0-5-1-6-5-7 2-6-1-7 0-2-1-5-5-1-2-5-5-2-2 0-6 0-7 0-6 0-7 0-7 0-6 0-7 0-6-5-6 0-1 0-7-2-6-4-5-2-2 0-6-5-6-1-1-6-5-1-2-5-4-7 0-2-2-4-5-2-2-5-4-7-1-1-1-5-5-2-2-5-5-1-2-1-6-4-5-2-2-5-5-1-1 1-4 2-3-2-5-7 1-6-1-2-2-1-6 2-7 0-6-1-7-5-6-1-1 1-6 7 0-7-2-6-4-1-1 0-6-2-7 1-7-5-4-2-2-5-6-1-1-5-5-1-1-6-5-1-2-5-4-3-3 1-6-1-7 3-2 6-4 7 1 2-1-2-4-2-3 1-7-1-6 0-7 2-1 4-5 1-7 0-7 1-1 5-5 1-7 0-6-1-7 0-7-5-4-2-2 0-7 2-2 5-4 1-7-1-7 2-6 7 1 6 1 2-2 2-7-4-4-6-2-6 6-1 5 0-5-2-6 1-7 0-7-1-6 1-7 1-1 4 1 3 4 1-4-1-1-2-5 2-2 5-5 1-1 7 0 4-6 0-6 2-3 6-4-1-6 2-2 5-5 1-7 1-1 5-5 1-1 5 1 2 1 6 2 3 3 4 2 4 5-4 5-7 1 0 1 6 6 0 7 1 1 6-1 1 0 1-7 2-6 3-4 4 4 3 2 6-2 6-7 1-7-1-6 1-3 4-4 2-6 1-3 5-4-5-5-2-2-5-4-7-1-4-1-2-1-7-5-2-1-4-2-1-4 1-1 4 1 2 4 6-4-6-2-1-5-1-7 2-2 6-4 0-7 1-1 4-5 1-7 1-2 5-5 2-2 5-4 2-2 4 2 0 6 1 7 1 1 4-1 3-1 6-2 7-1 4-3 3 0 3-6 2-7 1-1 7-5 6 1 3-1-3-2-6 1-7-6 7-6 0-1-5-6 0-7-2-1-2 1-1 7 0 6 3 7-4 7-2 1-7-1-7 3-2 3-4 3-7 2-2-5 1-6 1-2 6-5 1-5 0-2 5-6 1-2 6-5 1-1 4-5 3-3 5-4 1-1 5-6 2-1 5-5 0-7 1-1 7-5-1-7 1-7 7-6 6-5 4 5 3 6 3 0-3 3-1 4 1 5 4-5 2-3 7 1 7-4 0-1 6-6-6-7 3-6-3-7-1 0-6 1-1-1 1-7 7-3 6-3 5 0zM456 272l-5 7-2 3-3 3 3 3 7 0 2-3 2-6-2-7-2-2zM470 279l6 5 6-5-6-3zM369 292l1 1 7 1 4-2-4-2-7 0zM416 305l1 0-1-1zM436 305l0 1 1-1-1 0zM327 338l3 3 2-3-2-1zM422 338l1 2 2-2-2-1zM374 351l3 1 2-1-2-6zM349 384l1 1 1-1-1 0zM453 384l3 1 3-1-3-4zM395 391l-1 6 2 2 3-2-2-6-1-1zM468 391l1 2 1-2-1-2zM294 397l-1 7-2 7 6 2 2-2 5-4 2-3-2-5-2-2-5-5zM468 417l-2 7 3 2 4-2 1-7-5-3zM482 424l1 0-1-1zM448 437l1 2 5 5 2 4 3-4 0-7-3-4-7 0zM316 450l-5 6-2 1-4 6 6 3 6 2 7 0 5-5 0-6 1-5 2-2-2-1-6-1-7 1zM318 477l6 3 5-3-5-5zM242 483l3 4 3-4-3-4zM336 490l1 2 2-2-2-1zM347 490l0 6 3 2 2-2 2-6-4-2zM248 510l-3 3-7 1-2 2-5 5-3 2-3 3-3 3 3 4 6 1 3-5 4-3 5 3 2 2 6-1 7 4 6-5 7 4 4-4-4-4-7 4 0-6 0-1 3-6-3-5-2-1-4-2-7 0zM282 516l2 4 2-4-2-2zM313 516l4 6 2-6-2-1zM436 516l0 1 1-1-1 0zM302 523l0 6 2 4 2-4 4-6-6-3zM334 523l3 1 1-1-1-1zM355 523l2 3 5 3 1 2 4-2-1-6-3-3-6-1zM392 529l4 6 3-6-3-2zM330 536l0 3 1-3-1-3zM376 536l1 0zM225 543zM244 543l1 0 0-1zM386 556l2 6 2 3 1-3 1-6-2-2zM223 562l2 2 1-2-1-1zM449 576l0 1 7 2 6-3-6-5-7 4zM382 582l-1 7 0 6-4 6-1 1-6 7 7 5 6-4 7 5 6-2 4-4 0-7-3-7-1 0-6-5-3-1-1-7-3-1zM238 609zM383 622l5 6 2 1 0-1 6-5 2-1-2-3-6-3-7 6zM408 622l-4 6 6 3 6-1 2-2 1-6-3-2-6-1zM435 622l1 4 2 2-2 4-1 3 1 2 7-1 0-1 1-7-1-4-4-2-3-1zM218 628l0 1 0-1 0-1zM238 648l-1 7 1 3 7-1 2-2-1-7-1-1-7-1zM217 655l1 6 0 1 0-1 1-6-1-1zM197 661l1 1 1-1-1-1zM412 661l4 1 1-1-1-3zM271 675l-7 2-6 3-2 1 0 7-5 2-1 4 1 4 5 3 2 1 0-1 3-7 3-6 7 3 2-3 2-7 3-6-7-1zM380 681l3 7 0 2 4-2 2-7-6-2zM205 688l0 1 0-1zM393 688l-2 6-1 1-7 1-4 5 4 4 2 3 5 1 6 1 4-2-3-7 6-6 1-1-1-2-5-4-2-1zM415 694l1 1 2-1-2-1zM194 701l4 4 3-4-3-3zM274 701l4 4 6-4-6-4zM243 708l1 6 1 0 1-6-1-1zM370 714zM449 721l0 1 1-1-1-1zM216 727l2 7 7-5 1-2-1 0-7-3zM241 727l-3 5-2 2 2 0 7 0 1-7-1-1zM376 727l1 1 3 6 3 7 3-7-1-7-2-4-6 4zM215 741l3 4 3-4-3-7zM248 747l3 2 2-2-2-2zM405 747l5 2 0-2 0-6zM427 747l2 2 2-2-2-1zM401 754l2 2 2-2-2-5zM419 754l-3 2-6 2-3 2 3 5 6 0 7-1 1-4 2-6-3-4zM393 760l0 7 3 3 6-3-3-7-3-2zM256 800l1 7 1 0 1 0 5-3 7-3 3-1-3-1-7-3-6 1zM317 840l1 0-1-1zM320 866l4 3 1-3-1-1zM343 879l1 6 6-1 5-5-5-2-6 1zM363 886l-2 6 2 3 5-3-3-6-2-1zM355 899l2 0 1 0-1-1zM374 906l3 1 0-1 0-1zM341 919l3 3 4-3-4-2zM337 925l0 2 1-2-1 0zM335 939l2 1 6-1-6-5zM351 939l0 6 6 7 6 4 4-4-2-7-2-2-4-4-2-2zM621 238l0 1-5 0zM383 244l3 2-3 3 0-3zM502 280l5 5-5 3-6-3zM528 311l7-1 7-3 5 5-5 6-7-3-7-1 0-2zM555 312l1 0 0 6-1 1-1-1 1-6zM601 309l1 3 4 6-5 3-5-3 0-6zM456 317l4 1-4 2-4-2zM522 322l3 3 3 5 1 1-1 2-6 2-6-4 3-6zM509 331l1 0 3 7 2 4 1 3-1 1-6 5-7-6 0-1 2-6 4-7zM561 331l1 0-1 1 0-1zM449 335l7-2 6 4 1 1 2 7-3 3-6-2-4-1-3-3-1-4zM601 336l1 2 0 7-1 0-1 0-1-7zM581 343l3 2 4 6-3 7 3 2 1 4 1 7-2 7-7 6 0 1 0-1-1-6-5-3-7-3-6-1 6-1 7-2 6 1 3-5-3-3-6-1-7-1-7 1-6 1-3-3-4-7 7-6 5 6 1 2 7 3 3-5 4-4 4-2zM509 351l6 3 7 0 6 0 7 1 1 3 1 6 2 7-3 7-1 2-1 4-1 7 0 6-2 7-3 4-1-4-1-7-1-6-1-7-2 0-7-4-1-2-5-5-6-2 2-7 2-6zM528 378l0 1 5-1-5-3zM476 370l1 1-1 1-1-1zM561 371l3 7-3 3-2-3zM515 387l4 4-1 6-3 2-6-1-1-1 1 0 3-6zM548 389l1 2-1 6-1-6zM575 395l3 2-3 4-5-4zM548 408l2 3 1 6-3 4-6-4 5-6zM509 424l6-6 7 4 3 2-3 0-7 6 0 1 0-1-6-6-1 0zM264 430l2 0 5 6 3 1-3 7-4 6-3 5-6 1-1-6 0-6 1-1 6-6 0-7zM284 437l2 0-2 1-2-1zM284 458l7 4 1 1-1 2-7 3-3-5zM522 474l6-3 3 6-3 4-6-3-5-1zM535 483l1 7-1 2-2-2 0-7zM469 489l0 1-1 0zM502 509l7-3 2 4-1 6 5 7 0 1 2-1 5-1 1 1 2 6 3 3 4 4-4 4-6-2-2-2-5-3-6-4-5-6-2-4-1-3 1-6zM495 535l4 1 3 1 7 5 0 1 0 1-3 5 1 7 2 6 6 0 1 0 4 7 2 1 6 0 2 6-2 1-6 3-7 0-6 1-7-4-1-1 1-1 6-6-1-7-5-1-6 1-1 1 0-1-6-4-5-2 5-4 1-3 1-6 3-7zM515 548l7-2 2 3-2 3-7-1-2-2zM528 562l1 0-1 3-1-3zM515 583l7 3 0 3 0 6 0 4-3 3-4 4-1 3-5 4-3-4-4-6-1-1 1-4 7 0 4-3-2-6zM482 594l1 1-1 1-4-1zM495 627l3 1 4 5 7-2 1 4-1 7-5 0-2-3-7-3-1-1 0-7zM377 818l3 2-3 1-2-1zM390 864l1 2-1 7-2 0 0-7z"/>
<path fill="#b1ff46" d="M522 140l6 6 4 1-4 3-3 3-3 7-1 0-6-3-2-4 2-1 4-5 3-7zM489 166l6-2 1 2-1 2-6 1-1-3zM482 179l3 1-1 6-2 2-6 3-4-5 4-1 5-5zM542 179l6 0 2 1-2 2-6-1-3-1zM555 184l1 2-1 3-3-3zM495 191l7 2 1 0-1 0-7 2 0-2zM522 191l6 2-6 6-2-6zM535 189l7 3 0 1 0 1-2 5 2 2 2 5 4 6 1 1 0 6-1 2-1 5 1 2 5 4 2 3 6 3 1 1 5 7 1 5 0 1 0 1-5 6-2 6 0 4 1 3-1 1 0 6-1 6-5 3-7 2-6-2-4-3-2-6 6-4 6-2 1-1 1-7 4-6 1-2 3-5-3-3-6-3-1-3-6 1-7-2-4-3-3-2-6 0-4-5-2-6-1-2-3 2-3 4-3-4-2-7 0-6 5-3 6-2 4-2 3-6 6 1 3-2-2-6zM443 204l0 2 0 1-2-1zM416 230l3 2-3 6-4-6zM495 228l7 2 4 2-4 1-7 4-2-5zM429 238l7 0 1 1 2 7-2 6-1 1-4-1-3 0-6 6-5-6 1-6 4-2 5-5zM456 244l1 2-1 2-2-2zM588 249l5 3-5 3-3-3zM377 262l5 3 1 4 1 3 0 7-1 0-6 0-1 0-3-7-1-7zM429 265l4 0 3 1 7 1 3-2 3-1 1 1 3 7-4 5-6-2-1 4-3 6 0 7 0 6-3 3-6-3-1 0-6-1-6-5-1-3-6 1-6-5 6-6 0-1-2-6 2-1 6-5 7 2 5-3zM421 285l2 1 1-1-1 0zM575 271l3 1-3 2-3-2zM390 285l1 7 5 6 1 0 6 2 7 1 2 4 4 4 5 3 2 1 6-1 6 6-6 7 1 6-1 2-6-1-2-1-2-6-3-4-4-3-2-1-7 1-1 0 1 1 2 6 5 3 4 3 2 4 2 3 1 7 4 6 6 5 4 2 3 6-1 7 1 1 3-1-3-7 2-6 5-6 4 6-3 6 0 7 3 7 2 6 0 2 7 2 6-1 3 4 2 6 2 3 6-3 1 0 5 7-5 3-7 1-3 3 0 6-4 6-1 1-5 3-5-3-1-7-1-1-4 1-2 1-5-1-2 0-5-6-2-1-6-2-7 1-6 1-1 1 1 0 6 0 7 2 5 4 1 1 2 6 5 3 7 2 1 1-1 4-7 1-7 1-6-5-1-1 1-1 4-5-4-4-3 4-4 3-2 3 1 7 1 2 3 5 2 6 1 7 1 0 6 1 5-1-5-7 4-6 3-3 1 3 4 6-2 7 4 2 6 1 6-3 1-1 1 1 5 6 0 3 1 4-1 0-1 0-5-2-1 2-6 5-2 2-2 6-2 5-2 2-5 5-6 1-1 1-1-1 1-3 1-3-1 0-1 0-5 2-2 4 0 7 2 2 4 5 2 6-6 4-7 1-6 0-5 2 5 1 6 0 7 1 3 4-1 7 4 4 7 3-4 6-2 7 6 1 6-1 1 0 6 6 4 0-3 7-1 1-5 6-1 2-7 2-7-2-6 0-7 2-2 2-4 4-4 3-3 4-7-4-4-7-1-6 3-7 1-7 1-3 7-1 7 0 6-1 7 0 6-1 0-7-6-3-7-1-6 1-5 3-2 3-7 1-6-2-7 3-6-2-3-3 3-4 3-2 3-4 3 4 4 4 6 1 4-5 3-4 3-3-2-7-1-4-4-2-3-3 0 3-6 3-7-1-3-2-3-1-6 1-1 0-3-7-1-6-3-7-6 6-1 1-4 6-2 7-3 6 1 7 1 7-2 6-3 5-7 0-1 2 1 6 0 2 1-2 6-3 6 2 3-5 4-7 6 3 7 2 2 2 5 5 1 1 2 7 3 5 5 2-5 1-6 3-7 0-7 2-1 0-5 1-3 6 0 6 3 5 6-3 5 5-3 7 1 6 4 3 6 4-1 6 2 2 6 4 5 1-1 7 3 2 6 0 2-2-2-3-5-4 5-5 7 2 7 2 6-1 6-5 1-2 6 2 0 1 1 6 4 7 2 3 7 2 4 1 2 1 1-1-1-2-1-4-1-7 1-7 0-6 1-3 2-4 5-2 6 2 1 0 0 7 2 6 4 5 2 2-2 1-7 4-1 2-3 6 1 7-3 6 4 7-4 6-7-2-6 0-4 3 4 5 6-1 3 2-3 2-6-1-5 6 1 6 1 7-4 6-1 1 1 1 6 5 1 0 2 7 2 6 2 4 2-4 5-3 1-3 1-7-2-3-5-3 5-2 4 2 2 1 7 1 3 4-3 4-1 3 0 6 0 7-6 6-6-2-4 3 3 6 0 7-4 6-2 2-6 1-7-2-7 1-2-2 2-3 7 0 1-3 1-7-2-1-6-5-1-1-2 1-4 0-4 6-3 3-2-3-1-6-3-5-7 4 0 1-3 6-4 5-6 0-4-5 2-6 1-7 1-7-2-6-4-7 6-2 5 2 1 2 7 4 7-2 1-4-1-6-1 0-3-7 4-1 6-1 7-3 3-2 3-2 5-4-5-3-6-4-5 7-2 1-2-1-2-7-2-4-7 1-7-1-6-1-7-1-6 3-5 3-2 2-2 5 2 4 6-4 1-2 0 2 3 6-3 4-7 0-7 3-6-6-5 6 5 6 6-2 1 3 0 6 6 6 1 1-1 1-3 5 0 7 1 7 2 3 1 3 1 7 5 5 1 1-1 2-3 5-4 4-7-1-2 4-4 4-7-2-4-2-2-1-1 1-6 4-7 0-4 2-2 1-2-1-5-2-6 2-2 0 2 0 6 2 3 5 4 4 6-1 4-3 3-4 5 4 2 2 6 0 5-2 2-4 3 4-3 6-4 7-3 6-3 1-3 2-1 4-6 6-4 1 4 4 7-2 6 1 7 2 2 1 1 7-1 7-2 1-3-1-4-3-6-1-4 4 1 6-4 6-7-4-6-1-3 6-3 6-1 1-6 2-6 4-1 0-7-6 0-1 0-2 6-4-6-5-2 5-4 1-7 0-1-1-5-6-1-1-6-5-7-1-6-7-1 0-4-7-2 0-1-6-5-6-1-1-4-6 3-7 2-4 5 4 1 2 2 5 5 4 5 2-1 7 2 1 7 3 3-4-3-4-5-3 4-6 1-1 2 1 5 2 6-1 7-1 0-7 0-3-7 1-5-5-1-2-7 2-7-4-5-2 5-7 2-6-2-3-3 3-3 3-3-3-4-6-6 2-2-3-4-7 6-3 6-2 7 5 1-6-1-5-1-2-4-6 5-6 2-1-2-1-5-6 5-5 6-1 1 0 3-7 3-6 7 1 6 0 2-1 1-7-3-5-4-2-2-2-2-4 2-5 0-2 3-6-1-7 2-7-4-2-4-4-3-3-7 0-1 3-5 4-7-1-1-3-1-7-4-5-2-1-5-3-7 2 0 1 4 6-1 7 2 6-3 7 5 2 7 0 6 2 7-1 4 4-4 1-7 2-4 3 0 7 0 6-1 7-1 1-7 2-7 3-6-2-2 3 2 3 6-3 3 6 4 4 3 3-3 2-7 1-6-2-1-1-6-5-6 4-2 1-5 0-1 0-6-7 2-6 5-7 0-1 4-6 3-4 2-2-2-3-7-4 0-1-1-5-6-4-2-3 2-2 6-5 1-2 2 2 2 7 3 1 3-1 3-1 5-6 1-6-5-7-1 0-6-1-7-2-6 3-1 0-4 7-2 2-1-2 1-7 5-6 1-7 0-7 6-6 1-5 3 5 2 6-5 3-6 4 6 4 7-3 2-1 4-1 3-6 0-6-3-4-3-3-3-2-7-2 0-2-1-7 0-7-6-5 0-1 0-7 0-1 7-5 0-3 4-4-4-5 0-2 0-1 7-1 4 2 0 7 2 3 7-2 5-1 1-7-4-6 4-4 7-3 0-1 7 1 5-6 1-7 2 7 5 4 3 2-3 7 6 4 5-4 2-6 0-1-7-4-2-2 2-3 7-1 7-2 6 1 2-2 1-7 4-6 6 0-6-4-1-3-6-6 7-3 2-4-2-1-7 0-2-6-2-6 2-7 2-4 4 4 3 2 6 0 4-2 3-4 5 4-1 7 3 2 2-2 0-7 4-1 6 1 1 1 6 6-6 3-7-1-4 4 1 7 3 4 7 1 3-5 3-2 7 1 7-2 6 0 6-4 1-1 4 1 2 6 1 1 6 1 7 1 6-2 1 0-1 0-4-7-2-1-7-1-7 0-1-4-5-3-6-4-1 0-6-2-7 1-4-5-3-4-3-3 3-3 5-4-2-6 4-6 1-1-1 0-7-5-6-1-1 0 1-1 1-6-1-1-6-6-1 0-6-4-3-2-4-4-5-3 5-6 7 3 5-3-5-7-1 0 1-2 6-4 1-1 1-6-2-2-3 2-3 5-7-2-3-3-4-5-4-2 3-6 1-7 6-7 1-1 6-5 1-1 1 1-1 6 0 3-2 4 2 5 6 1 6 1 1 0 6-3 7 1 7-5 4-7 2-4 2-2 5-7 5 7-2 6 3 7 7 1 3-1-3-6 0-1 5-6 2-1 1 1 5 3 4 3 3 4 6-1 7 0 3-3 4-3 2-3-2-5-7 3-6 2-1 0-6 2-2-2-2-7-3-5-1-1-5-3-7-3-1-1-6-3-3-4-3-6 0-3-1-4-6-3-6 3-2-6 2-2 6-3 7 0 5-2-5-3-1-4 1 0 6-6 0-3 1 3 6 5 3 1 4 2 6-1 4-1 2-6 1-7zM395 305l1 5 3-5-3-6zM390 318zM423 364l0 1 0-1zM374 378l3 4 6-1 2 3-2 1-2 6 2 3 6 3 1 1 6 4 7-1 7 0 1-4-1-6-7-1-5-6-2-3-4-3-2-2-7 0-6-4zM341 384l3 6 3 1 3 1 1-1 4-7-5-6-6 3zM341 397l3 2 2-2-2-5zM453 404l0 7 3 2 2-2-1-7-1-2zM350 411l0 1 0-1 0-1zM389 411l1 0 0-1zM343 417l1 1 1-1-1 0zM391 496l0 7-1 1-3 6 1 6 2 1 4-1 1-6 1-2 7-3 1-2 1-7-2-3-7-1zM301 516l-4 7 3 6-3 6-1 1 1 1 6 6 1 0 3-7 3-7 1-1 4 1 2 1 5-1 2-5 0 5 0 1-3 6 3 3 2 4-2 4-7 1-1 1 1 7 7-6 6 2 5-3 0-6 2-6 0-1 3-7 1-6-2-7-2-1-1 1-6 3-6-3 0-1-7-4-6 0-7 3zM287 543l0 6 1 7 3 4 2 2 4 2 7 0 7 0 1-2-1-2-7 1-6-5-1 0-5-7 3-6-4-4zM238 556l0 1 0-1 0-5zM244 562l-1 7 2 3 1 4 5 5 4-5-4-7-6-7zM329 576l1 1 4-1-4-5zM342 576l2 1 6 2 1-3-1-2-6 1zM210 582l2 2 2-2-2-2zM235 582l3 1 1-1-1-1zM291 582l6 7 1 0 1-7-2-4zM235 602l-2 7 5 3 4-3 1-7-5-3zM308 615l2 7 1 1 0-1 5-7-5-4zM319 628l5 3 3-3-3-4zM263 642l1 3 2-3-2-2zM315 648l2 1 2-1-2-2zM403 648l0 1 0-1zM429 648l0 2 1-2-1 0zM336 655l1 2 1-2-1-1zM409 655l-6 2-2 4 2 2 7 2 6-1 7-3-4-6-3-5-6 4zM436 661l0 3 0-3zM290 668l1 0 0-4zM303 668l1 1 1-1-1-1zM349 668l-4 7 5 3 5-3-2-7-3-1zM238 688l1 0-1-1zM215 701l3 2 3-2-3-2zM300 701l1 7-4 5-6-2-3 3-3 7 3 6 3 5 6-2 2-3 5-1 3 1 4 3 2-3-2-2-3-4-2-7 1-6 0-7-3-3zM315 708l1 6 1 1 7 1 2-2-2-2-5-4-2-2zM347 721l1 6 2 6 7-3 4-3-2-6-2-5-7 3zM329 727l1 3 4-3-4 0zM341 734l3 3 5-3-5-2zM434 734l2 2 7 1 3-3-3-2-7 0zM308 760l3 3 3-3-3-5zM297 774l2 0-2-1zM329 800l-1 7 2 2 2-2 5-4 3-3-3-5-7 3zM294 813l-3 7 0 1 6 4 4-5 3-3 2-4-2-2-7 0zM329 826l1 1 2-1-2-1zM304 833l-1 7 1 0 7 1 6 4 5-5-5-4-6 1-7-4zM482 285l1 0-1 2 0-2zM522 284l5 1-3 7-2 1-2-1-1-7zM594 290l1 2-1 2-4-2zM495 303l5 2-4 7-1 0-2-7zM588 305l1 7-1 6-2-6 2-7zM542 311l0 1-1 0zM330 324l7-5 3 6 2 6-5 6-7-5-1-1 1-6zM588 318l3 7-3 4-3-4zM522 330l1 1-1 1-1-1zM456 338l-1 0zM482 332l3 6 1 7-4 3-3-3 1-7zM317 344l7-1 1 2-1 2-4 4-3 2 0-2 0-6zM509 341l2 4-2 1-2-1zM522 357l6 0 2 1 1 6-3 3-4 4 1 7-3 3-4-3 0-7-3-4-2-3 2-4 2-2zM521 364l1 1 0-1zM588 367l0 4 0 2-3-2zM284 397l5 0-5 5-1-5zM515 424l1 0-1 0zM469 429l7-3 4 4 1 7-1 7 2 4 2 2-2 1-6 4-7-5 3-6-3-2-5-5 0-7zM555 428l0 2 0 4-2-4zM548 436l3 1-3 2-3-2zM542 440l3 4-3 1-3-1zM449 448l1 2-1 1-3-1zM522 446l2 4 1 7-3 3-7-2-6 2-1-3 1-2 6-1 3-4zM489 454l2 3-2 2-2-2zM548 462l1 1-1 3 0-3zM245 468l6 2 1 0 6 1 3 6 3 6 0 7 0 1 5 5 2 4 7 2 4 1 2 7-6 6 1 7-1 1-2-1-5-7-3-6-4-6-4-1-2 0-1 0-6 1-6 4-7 1-6-6-1-1-1-6 0-6 1-2 7 2 7 2 4-2 2-3 2-4-2-3-3-3-3-6-1-1zM482 468l2 2-2 2-1-2zM238 476l3 1-3 6-1-6zM476 474l3 3-3 2-2-2zM509 482l0 1 0 1-1-1zM495 489l7 1-7 2-1-2zM218 503l1 0 6 5 3 2 1 6-4 3-6-3-1-3-5-3 5-7zM436 507l7-3 5 6 1 2 2 4 0 7-2 2-6-1-4-1 4-4 1-3-1-1-7-3-4-2zM456 510zM205 520l2 3-2 4 0-4zM509 522l0 1-1 0zM469 529l0 1-1-1zM205 534l1 2 1 7-2 1 0-1 0-7zM245 536l5 0-5 0-1 0zM456 535l2 1-2 1-1-1zM502 553l1 3-1 0-1 0zM469 572l1 4 0 6-1 1-1-1 0-6zM509 575l0 1-1 0zM528 574l1 2-1 0-6 0zM456 582l1 0 5 4 2 3-2 2-3 4-3 2-2-2-2-6 3-7zM509 601l1 1-1 7-2-7zM410 608l6 0 7-3 6 2 5 2 2 4 4 2-4 1-7 5-6-2-7-3 0-1-6-6-1 0zM383 614l2 1-2 2-2-2zM179 680l6 1 0 1 7 0 6 3 2 3-2 4-1 2-5 3-5 4-2 0-6-5-2-2 1-6 0-7zM469 686l6 2-6 6 0 1-6-1 4-6zM264 699l3 2-3 2 0-2zM476 707l0 1-2 0zM476 724l0 3 0 1-5-1zM212 728l3 6-3 5-2-5zM231 738l7 0 7 0 5 3-5 3-6 3-1 2-3-2-4-2-3-4zM225 759l2 1-1 7-1 5 0-5-3-7zM390 770l6 3 5 1-5 2-3 4-3 1-3-1 1-6zM245 775l6 3 3 2 3 7-6 3-6 0-7 0-7 0-3 3-3 1-1-1 0-6 1-6 6 2 7-2 1-1zM403 787l1 0 0 6-1 4-1-4 1-6zM410 797l0 3 1 7 1 6-2 2-7-1 0-1-2-6 2-5 1-2zM344 853l6 1 7 4 2 1-2 3-2 4-5 6 0 1-6 2-4 4-3 4-7 0-6 3-1 0-6 3 0-3 0-4 2-3 5-4 3-2 3-6 3-1 4-4 2-3zM357 884l1 2-1 3-2-3zM324 890l6 0 7 2 7-1 4 1-1 7 3 5 7-1 6-1 3 4 4 6 0 1-7 3-6 2-7-2-6-3-7-1-2 7-2 6 1 7-4 7-6 6-1-6 0-7 0-7 1-6-1-7 0-6-2-7 2-7zM383 899l7-3 0 3 0 3-7 4-3-7zM377 917l1 2-1 1-2-1zM344 930l1 2-1 1-2-1zM357 930l6-4 3 6-3 4-6-4zM383 929l7-1 0 4 1 7-1 1-6-1-1-3-2-4zM370 938l1 1 6 6 1 7-1 6 0 2-2 5 2 2 0 5-7 0 0-1-7-2-6 0-2 3-5 1-6-1-7 0-7-6 0-1-6-6-1-1 1-6 0-6 6 1 3-2 4-2 4 2 1 7 2 2 6 4 0 2 7 1 6 2 7-2 5-3-3-6-2-4-1-3-1-6zM383 964l1 1-1 1-4-1z"/>
<path fill="#ffd000" d="M522 146l1 1-1 2 0-2zM535 202l6 4 1 3 0 4 1 6 1 7 4 6-6 6-7-3-3-3 3-5 1-1 2-7-3-2-3-4-3-7zM509 212l3 1 3 3 7 0 5 3-3 7-2 4-1-4-6-6-6 2-1-3 0-6zM429 243l7 1 0 2 0 1-7 1-3-2zM561 244l1 2-1 1-2-1zM377 265l0 3-1-3zM449 271l0 1-1 0zM555 269l0 3 1 7-1 5-1 1-6 2-6-1-2-1 0-6 2-2 6-2 6-3zM429 272l7 4 2 3-2 3-7-1-5-2zM410 285l-1 0zM370 304l7 0 6 0 7 0 1 1-1 2-5 5-1 6 6 5 6-4 5 6 2 6 0 1 7 1 4 5-1 7-3 2-5 4-2 1-4-1-3-3-2-3-2-7-2-1-3 1-4 1-6-1-1 0-6-4-6-3-1 0-2-6-1-7-3-5-7-1-6 1-1-1 1-1 6-1 7 1 6 0 6-6zM410 310l1 2-1 0-2 0zM423 322l1 3-1 1-1-1zM337 330l1 1-1 1-1-1zM416 356l1 2-1 3 0-3zM403 370l7-5 6 0 3 6 4 6 6-6 0-1 1 1 6 3 7-1 2 5 1 6 3 7 1 0-1 0-1 0-5-1-1 1-3 6 1 7-4 4-5-4-2-2-4-5-2-6-7-4-6-1-5-2-2-4-1-2-5-7zM297 375l7-1 3 4-2 6-1 2-1-2-6-4 0-2zM522 376l0 2-1 0zM324 383l6-3 7 2 1 2-1 3-3 4 1 6 2 2 7 3 6-3 2-2 2-6 3-3 3-4 3-6 7 1 3 5 3 7-6 4-2 2 2 2 7 1 6 1 2 3-2 2-6 1-5 4 5 6 6 5 2 2 5 3 6-1 4 4 3 5 7 1 0 1 0 3-1 4 0 6 0 7 0 6 1 2 6-1 1-1 6-2 6 1 7-2 4 3 3 2 6 1 2 4-2 2-6 5 0 2-2 4-5 7-7-4-6-1-4-2-3-1-6-5-4 6-3 3-7 0-3 4-3 3-7 2-6-3-7-1-2-1-5-6-1-1 1-1 7-4 7 2 1-3-1-1-7-1-7-1-4 3-2 2-2-2-1-7-4-7 7-6-5-7-2-2-4 2-2 1-1-1-6-3-4-3-3-6 0-1-6-5-2-2-5-5-1-1-1-7 2-1 7-1 6-1 7 1 2 2 4 7 1 2 4 4 2 2 3-2-1-6 4-7 0-6-6-4-6 2-7-1-4-4-3-2-6-1-2-4 1-6-5-7zM381 430l2 2 2-2-2-3zM392 457l4 3 3-3-3-6zM422 470l1 0 6 1 1-1-1-2-6 1zM416 397l1 0-1 1 0-1zM317 402l3 2-3 2-2-2zM390 415l6 0 7 1 4 1-2 7-2 1-2-1-5-4-6 0-2-3zM416 416l2 1-2 2-5-2zM462 412l2 5-2 3-4-3zM476 433l1 4-1 3-4-3zM337 472l1 5-1 0zM231 489l3 1 4 4 5 2 2 2 3 5-3 2-7 0-2-2-5-6 0-1 0-6zM258 486l1 4 3 6-4 2-2-2 0-6zM284 485l7 3 6 1 2 1 0 6-2 3-6-1-4-2-3-2-1-4zM410 492l3 4 3 6 0 1-2 7-4 3-4-3 3-7 0-7zM350 503l2 0-2 7-1 0 1-7zM377 509l2 1 1 6-3 2-3-2 0-6zM443 509l0 1-2 0zM416 528l5 1-2 7-3 3-4-3-1-7zM344 533l1 3 0 7-1 3-3-3 1-7zM297 546l7 2 1 1-1 6-7-4-1-2zM383 546l3 3-3 2-4-2zM245 554l6-4 2 6 0 6-2 2-1-2-5-5-2-1zM330 556l-3 0zM271 562l2 0 5 2 1-2 5-4 3 4 4 3 6 2 4 2-4 3-3 4-3 2-4 4 4 4 2 3 4 4 7 2 3-6-3-4-1-3-2-6 3-4 7-3 6 0 1 0 6 3 0 4 6 4 5 2 2 3 7 0 6 4-6 6-2 0-5 3-3 4 1 7 2 1 4 5 0 7 3 5 6 1-1 7 1 1 7 1 2 5-2 2-6 4-1 1-6 5-7-5-1-1 1-1 2-5 1-7-3-2-4 2-3 2-6 1-2-3 2-1 6-6-3-6-3-3-3-4-4-6-6-3-7 1-2-5-5-4-5 4 2 7-3 2-2 4 2 2 6 4 5 1 0 6 2 2 7 0 3 5-3 5-1 2-6 5-2 1-1 7-4 2-6-2-7 0-1 0-5-4-4-3-2-6-1-2-4-5-3-1-2 1-3 7-1 1-7 2-3-3-3-5-7-1-7-1-5 7-1 2-7-2-6 0-2 0 2-1 6 0 5-6 1-7 1-4 4 4 2 7 3-7 4-2 4 2 3 2 2-2 4-1 7 0 2-5-1-7 0-6 5-7 1 0 6 5 2 2 5 1 6-1 2 0-2-1-6-4-3-2 2-7-2-6-3-7-1-1-6 1-1 0-5-6 0-7 5-4 6-3zM316 589l1 1 1-1-1-1zM289 642l2 6 6-6 1 0-1-1-6-3zM357 556l6 4 2 2 5 5 3 2-3 3-5 4-2 0-1 0-2-7-3-2-4-5zM416 562l3 0 1 7-4 4-1 3-5 4-2 2-5 4-7-1-2-3 2-5 5-1 2-1 3-6 4-6 1-1zM436 561l2 1 3 7-3 7-2 0-3 0-4-3-4-4 4-6 1-1zM225 575l1 1-1 6 0 1-1-1 0-6zM205 585l3 4 4 5 6-1 7-2 4 4 2 6 1 1-1 1-2 6-4 5-7-1-6-3-3-1-3-7-1-2 0-5-3-6zM238 589l7-4 4 4-4 4-5 2-2 1-2-1 1-6zM456 588l1 1-1 1-1-1zM350 598l1 4-1 4-2-4zM238 615l7-4 6 4 3 0-3 1-6 3-7-3 0-1zM357 613l1 2-1 2-2-2zM363 632l7-1 6 4 1 1 4 6 2 6 1 0 6 1 6 6-3 6-3 7-7 2-6 2-7 2-4 1-1 6-1 7 2 6-3 2-2-2 0-6-1-7 2-6 1-3 2-4-2-3-6-4 2-6 4-2 5 2 2 6 1-6-1-3-2-4 2-6-7-4-5-3zM423 634l1 1 5 6 1 1-1 0-6 4-5-4 2-7zM456 632l6 3-6 6-4-6zM410 640l5 2-5 1-5-1zM231 648l1 0-1 2 0-2zM317 653l7-3 6 5 0 4 1 2 6 4 5 3-4 7 2 6 4 6 0 1 3 6-1 7-2 5-1 2-3 6-3 4-4 3-3 1-5-1 5-4 2-3-2-1-4-5-2-2-6-5-1 0-1 0-5 3-1-3-6-7-7 5-5 2-1 3-1-3-1-7-5-2-3-4 0-7 3-6 0-1 7-2 4-4 2-4 3 4 3 7 1 1 2-1 5-5 1-2 2-7 0-6zM322 675l-5 2-5 4 5 5 7-2 6-2 1-1 0-6-1-4-6 3zM423 651l1 4-1 1-1-1zM344 658l6 1 6 2-6 2-6 2-2-4zM443 660l6 0 0 1 0 1-6 6-1 0 0-7zM416 667l3 1-2 7-1 0-6-7zM212 674l2 1-2 1-1-1zM225 670l6 3 7 0 7 1 2 1-2 1-7 3-2 2-3 7 5 4 4 2-4 3-7-2-2-1-4-1-5-5 1-7 0-6zM436 681l0 1-3-1zM185 687l4 1-3 6-1 1-6 0-1-1 1-2 3-4zM205 704l7 0 4 4-2 6-2 2-7 1-2-3 0-6zM416 704l7-2 4 6-1 6-3 6-7-1-2-5 0-6zM278 712l6 2 1 0-1 1-6 3-5 3 1 6-3 5-7-2-4-3 4-2 6-4 1-2 3-5zM462 714l2 7-1 6-1 4-1-4 0-6 1-7zM403 726l7-1 6-2 6 4-2 7-4 4-2-4-4-4-7 1-1 3-2 7-3 6-1 0-4-6 0-7 4-6 1-1zM212 733l0 1 0 1-1-1zM284 733l1 1-1 1 0-1zM357 734l3 0-3 1-1-1zM271 736l4 5 3 1 6 0 4-1 3-1 2 1 4 6 2-6 5-4 7 1 6-1 7-1 6 5 0 6 0 1 7-1 7 5 1 2-1 0-7 6-1 7-6 6-6-1-7-3-4-2 4-2 3-5-3-5-1-1-5-5-5 5-2 3-3 3 3 3 5 4-5 3-4-3-3-4-2-3-4-2-4 2-3 3-5 4-1 5-3 2-2 6 2 7-4 2-3-2 1-7 2-6-2-7-2-7-3-3-1-3-1-7 2-4 3-2zM350 745l2 2-2 4-5-4zM357 751l4 3-3 6-1 7 0 1-7 1-5-2 5-5 3-2-1-6zM443 753l6-5 3 6-2 6-1 1-3-1-3-5-1-1zM251 760zM245 780l1 0-1 1-1-1zM297 778l3 2 2 7 1 6 1 1 3 6-3 5-7 1-4-6 1-7 0-6-1-7zM225 786l4 1-4 4 0-4zM238 787l-2 0zM284 786l1 1-1 4-1-4zM311 785l3 2-3 3-4-3zM350 793l1 0 0 7-1 1-2-1 1-7zM410 802l0 5 1 6-1 1-4-1 0-6zM251 809l5 4-5 7-4-7zM284 811l4 2 0 7-4 6 3 7 2 7-2 6 4 7-7 0-5-7-1-2-7-4-3 0 3-5 1-2 5-7 1-2 0-4 2-7zM337 807l3 6-3 3-5-3zM311 816l4 4 2 1 3-1 4-5 1 5-1 2-4 4-2 7-1 0-6-2-5-5 2-6zM264 826l1 0-1 1 0-1zM330 833l7-3 4 3-4 4-7-4zM297 838l1 2-1 0-1 0zM311 844l3 2-3 5-7-5zM304 857l2 2-2 2-2-2zM344 860l6 5 0 1-6 4-3-4zM324 879l5 0-5 1-1-1zM330 897l7 0 4 2 0 7-4 3-7-3-1-7zM350 911l7-5 5 6-5 3-7-2-1-1zM330 918l1 1-1 3 0-3zM324 925l0 2 0-2zM330 930l1 2-1 0-4 0zM377 951l0 1-1 0zM337 952l2 6-2 2-2-2z"/>
<path fill="#ff5900" d="M542 226l3 6-3 3-4-3zM548 277l4 2-4 6-4-6zM370 310l7-1 2 3 0 6 1 7 3 4 6 2-6 3-6 0-4-3-3-1-5-5-1-7 5-6zM396 324l1 1-1 3-1-3zM410 337l0 1 0 2-2 5-5 4-4-4 4-7zM410 371zM436 376l7 1 0 1 1 6-1 3-7 4-5-7 0-6zM363 386l7 5-7 5-4-5zM363 399l6 5-3 7 4 6 0 7-7 3-5-3 3-7 0-6-4-7zM324 423l6-4 7 0 3 5 2 6-5 7-7-4-3-3-3-5-1-1zM357 437l-1 0zM370 431l7 1 6 5-4 7-2 6 6 3 2 4 5 3 4 3 2 2 2-2 4-6 1-2 1 2 1 6-2 6-1 1-3 7-3 3-6 2-6-5-1-1-6-3-7-3-7-3-6-4 4-6 2-4 6-3-3-6-2-7zM390 434l6-3 4 6-4 5-6-3-5-2zM344 442l0 2-6 0zM443 468l3 2-3 2-4-2zM423 476l1 1-1 1-7-1zM436 477l1 6-1 2-4-2zM383 487l2 3-2 0-1 0zM271 568l2 1 5 3 2-3 4-5 7 4 2 1-2 3-2 4-5 6-6-2-7-3-4-1 0-7zM311 574l3 2 3 2 6 4-6 2-6 4-5-6 2-6zM403 582zM330 585l4 4-4 5-5 1 2 7 1 7-4 4-2-4-5-6-6-1-2 0 1-7 1-1 1 1 5 4 6-4 1 0 2-6zM225 595l3 7-2 7-1 1-7-1 0-1 3-6 3-7zM291 594l1 1-1 2-3-2zM271 613l7 0 3 2-3 7-3 6-4 4-7-2-1-2 0-6 1-6 1-1zM337 624l0 4 0 1 0-1zM278 632l6 3 2 7-2 3-6-2-1-1-2-7zM297 631l7 3 4 1-4 5-7-4-1-1zM344 638l6 3 1 1-1 0-6 6 0 1-1-1-1-6zM324 654l1 1 1 6-2 5-3-5 0-6zM377 659l1 2-1 4-1-4zM297 674l1 1 2 6 4 4 1 3-1 1-6 5-1 1 0-1-6-6-7-3-1-4 1-1 7-3 6-2zM225 680l3 1-3 4-1-4zM337 683l3 5 0 6-3 4-5-4 0-6zM311 694l6 0 6 0-6 1-6 0-1-1zM212 708l-1 0zM396 733l1 1 0 7-1 0 0-7zM271 742l7 5 4 0-2 7-1 6-1 2-3-2-4-1-4-5-1-7zM291 746l1 1-1 6-5-6zM317 744l7 3 6 4 6 3-6 5-6-1-3-4-4-5-2-2zM297 751l4 3-4 3-6-3zM449 753l1 1-1 1-1-1zM324 764l3 3-3 1-2-1zM297 794l4 6-4 3-1-3zM410 812l0 1-1 0zM284 816l1 4-1 2-2-2zM284 838l1 2-1 2-1-2z"/>
<path fill="#c40000" d="M542 232l0 1-1-1zM370 323l3 2-3 0zM403 344l0 1zM436 378l6 6-6 4-3-4zM330 423l7 0 1 1-1 6-7-4-1-2zM370 434l7 2 0 1 0 2-5 5-2 1-1-1-3-7zM370 455l4 2 3 0 6 3 5 3 2 2 6 4 2 1-2 2-4 5-2 1-2-1-5-4-6-3-1 0-6-4-4-3 1-6zM311 580l3 2-3 2-2-2zM271 618l3 4-3 4-4-4zM271 753l1 1-1 0z"/>
<path fill="#800000" d="M436 383l1 1-1 1 0-1zM370 436l2 1-2 2-1-2zM377 462l6 1-6 2-3-2zM390 470l1 0-1 1-2-1z"/>
</g></g>
<use href="#lines"/>
<rect x="79.3" y="52.4" width="243.4" height="458.6" fill="none" stroke="#000" stroke-width="3.3"/>
<path d="M90 511v8.9M200 511v8.9M311.25 511v8.9M79.3 113.25h-8.9M79.3 233.65h-8.9M79.3 354.1h-8.9M79.3 474.5h-8.9" stroke="#000" stroke-width="3.3" fill="none"/>
<g style="font-family:'DejaVu Sans','Liberation Sans',sans-serif" font-size="26.6" fill="#000">
<text x="90" y="555.2" text-anchor="middle">120E</text>
<text x="200" y="555.2" text-anchor="middle">121E</text>
<text x="311.25" y="555.2" text-anchor="middle">122E</text>
<text x="53.4" y="123.45" text-anchor="end">25N</text>
<text x="53.4" y="243.85" text-anchor="end">24N</text>
<text x="53.4" y="364.3" text-anchor="end">23N</text>
<text x="53.4" y="484.7" text-anchor="end">22N</text>
<text x="200.7" y="26" text-anchor="middle" font-size="32"><tspan font-style="italic">D</tspan><tspan dy="4.6" font-size="21" font-style="italic">m</tspan></text>
<text x="364.8" y="46.8" text-anchor="middle" font-size="24.6">(mm)</text>
</g>
<path d="M352.3 73.5L363.85 52.1L375.4 73.5V93.5H352.3z" fill="#800000"/>
<path d="M352.3 490.6L363.85 512L375.4 490.6V470.6H352.3z" fill="#000080"/>
<rect x="352.3" y="73.50" width="23.1" height="52.44" fill="#c40000"/>
<rect x="352.3" y="125.64" width="23.1" height="52.44" fill="#ff5900"/>
<rect x="352.3" y="177.78" width="23.1" height="52.44" fill="#ffd000"/>
<rect x="352.3" y="229.91" width="23.1" height="52.44" fill="#b1ff46"/>
<rect x="352.3" y="282.05" width="23.1" height="52.44" fill="#49ffad"/>
<rect x="352.3" y="334.19" width="23.1" height="52.44" fill="#00c0ff"/>
<rect x="352.3" y="386.33" width="23.1" height="52.44" fill="#0040ff"/>
<rect x="352.3" y="438.46" width="23.1" height="52.14" fill="#0000c8"/>
<path d="M352.3 73.5L363.85 52.1L375.4 73.5L375.4 490.6L363.85 512L352.3 490.6z" fill="none" stroke="#000" stroke-width="3.3" stroke-linejoin="miter"/>
<path d="M375.4 73.50h9.5M375.4 125.64h9.5M375.4 177.78h9.5M375.4 229.91h9.5M375.4 282.05h9.5M375.4 334.19h9.5M375.4 386.33h9.5M375.4 438.46h9.5M375.4 490.60h9.5" stroke="#000" stroke-width="3.3" fill="none"/>
<g style="font-family:'DejaVu Sans','Liberation Sans',sans-serif" font-size="22.1" fill="#000">
<text x="400.8" y="81.80">1.78</text>
<text x="400.8" y="133.94">1.67</text>
<text x="400.8" y="186.08">1.56</text>
<text x="400.8" y="238.21">1.45</text>
<text x="400.8" y="290.35">1.34</text>
<text x="400.8" y="342.49">1.23</text>
<text x="400.8" y="394.63">1.12</text>
<text x="400.8" y="446.76">1.01</text>
<text x="400.8" y="498.90">0.90</text>
</g>
</g>
<g transform="translate(503.6,619.5)">
<g clip-path="url(#isl)"><g transform="scale(.5)">
<rect x="160" y="130" width="500" height="880" fill="#000080"/>
<path fill="#0000c8" d="M515 141l2-1 5 0 5 0 1 1 7 0 6 6 1 1 5 5 1 2 5 5 2 1 5 5 1 2 7-1 6 6 1 1 6 2 4 4 3 1 6 0 7 0 5 5 2 1 5 6 1 1 5 5 2 2 5 5 0 7 1 1 5 5 2 1 6 6-6 5-1 1-6 6-1 1-5 6-7-1-2 2-4 4-3 2-4 5-1 2 0 6 0 7-1 7 0 6 1 7-1 6 2 2 5 5 0 7 2 1 5 5 0 7-5 5-2 1 0 7 0 7-5 5-1 1 0 7-6 5-1 1 0 7 0 7-5 5-2 1 0 7 1 6-6 6-1 1-5 6-1 1-6 5-1 1-6 5-1 2 1 6-1 7-5 6-2 1 1 6 0 7 1 1 5 5 0 7-5 6-2 1 0 6-5 5-1 2 0 6 0 7 0 7-5 5-1 1 0 7-1 6 0 7-5 5-1 2 0 6 0 7 0 6-1 7 1 7-6 5-1 1 0 7 0 6 0 7-5 5-1 2-1 6 1 7-6 5-1 1 0 7-1 7-4 4-2 2 0 7 0 6 0 7 0 7-5 5-1 1-6 5-1 2 0 6-5 6-1 1 0 7 0 6-6 6-1 1 0 6-5 6-1 1-6 6-1 1-6 5-1 1 0 7-5 5-1 1-6 6-1 1-5 6-1 1-6 5-1 1-6 6-1 1-5 5-2 1-5 5-1 2 0 7 0 6-5 6-2 1 0 6-5 6-1 1 0 7 0 6-6 6-1 1 0 6 0 7 0 7 0 6 0 7 0 6 0 7 0 7 1 6-1 7 0 6 0 7 0 7-5 5-1 1-6 6-2 1 0 6 2 1 6 6-6 6-1 1-5 5-2 1-5 6-7-1-5-5-1-1-7 0-6 0-7 0-5-5-2-2-5-5-1-1-5-6-1-6 1-7 0-6 0-7 0-7-1-6 0-7 0-6-1-2-5-5 0-7 0-6-1-1-6-6 0-6-1-3-4-4-3-1-5-6-1-1-7 0-5-5-1-1-6-6-1-1-7 0-5-5-1-2-5-5-2-2-5-5 1-6-2-2-5-5-2-1-5-5-2-2-5-5-1-2-5-5 0-6 0-7 0-6 0-7-2-1-5-6 0-6-1-1-6-6 0-6 1-7 0-7-2-1-5-5-2-1-5-6-1-1-5-5-2-2-5-5-1-2-5-5-1-6 1-7 5-5 1-1 0-7 5-5 2-2-1-6 1-7 5-5 2-1-1-7 0-7 5-5 2-1 0-7 0-6 0-7 0-7-2-1-5-5 0-7 5-5 2-1 0-7 0-7 0-6 0-7 0-6 0-7-1-7 0-6 0-7 6-5 1-1 6-6 1-1 5-5 7 0 1-2 0-6 5-6 1-1 0-6 6-6 1-1 0-7 6-5 1-1 5-6 1-1 0-6 6-6 1-1 0-7 5-5 2-1 0-7 5-5 1-1 6-6 1-1 0-7 5-5 1-1 0-7 6-5 1-1 0-7 5-6 1-1 6-5 1-1 6-6 1-1 0-6 5-6 2-1 0-7 5-5 1-1 5-5 2-2 5-5 1-1 6-6 1-1 5-5 1-2 6-5 1-1 0-7 5-5 2-1 1-7-1-7 5-4 2-2-1-7 6-5 2-1 0-7 4-4 1-3 6-5 1-1 0-7 5-5 1-1 6-6 1-1 6-6 1-1 5-5 7 0 1-1 5-5 7 0 7 0 1-2 5-5 7 0 6 0 7 0 7 0 1-1 5-6 2-1 0-7 5-5 1-1 5-5 2-2 5-5 7 0 1-1zM461 219l1 2 4-2-4-2zM499 226l3 2 1-2-1-4zM428 292l1 0 2 0-2-1zM253 602l4 7 1 0 1 0 5-3 2-4-2-4-6 1zM262 615l2 2 4-2-4-4zM290 675l1 2 1-2-1-1zM224 694l0 7 1 1 5 6 1 2 3-2-2-7 2-7-3-2-6 2z"/>
<path fill="#0040ff" d="M515 143l3-3 4 0 3 0 3 3 7-1 5 5 2 2 4 4 2 3 4 4 3 3 3 3 3 3 7 0 4 4 3 3 6 2 2 2 5 3 6-1 7 0 4 4 3 3 4 4 2 3 4 3 3 3 4 4 0 7 2 3 3 3 4 2 4 5-4 4-2 2-5 5-2 2-4 5-7-2-4 4-2 2-5 4-2 2-2 5-1 6 0 7 0 7-1 6 1 7-1 6 4 3 4 4 0 7 3 2 4 4 0 7-4 4-3 2 0 7 0 7-4 4-3 2 1 7-5 4-2 2 0 7 0 7-4 4-3 2 0 7 1 6-5 5-2 2-4 5-2 2-5 4-3 2-4 4-2 3 1 6-1 7-4 5-3 2 0 6 1 7 2 2 4 4 1 7-5 5-3 2-1 6-3 3-2 4 0 6-1 7 0 7-3 3-2 3 0 7-1 6-1 7-3 3-2 4 0 6 0 7-1 6 0 7 1 7-5 4-2 2 0 7 0 6 0 7-4 4-2 3-1 6 0 7-4 4-3 2 1 7-2 7-2 2-4 4 1 7 0 6 0 7 0 7-4 3-3 3-4 4-1 3 0 6-5 5-2 2 0 7 0 6-5 5-2 2 0 6-4 5-3 2-4 4-2 3-5 4-2 2 0 7-4 4-2 2-5 5-2 2-4 5-2 2-5 4-2 2-5 5-2 2-4 4-4 2-3 4-2 3 0 7 0 6-4 5-3 2 0 6-4 4-2 3-1 7 1 6-5 4-2 3 0 6-1 7 1 7 1 6-1 7 0 6 0 7 1 7 0 6-1 7 0 6 0 7 1 7-5 4-2 2-5 5-3 2 0 6 3 3 5 4-5 4-2 3-4 4-3 2-4 4-7 0-3-4-3-2-7 0-6 0-7 0-4-4-3-3-3-4-3-3-4-4 0-6 0-7 1-6-1-7 0-7-1-6 0-7 0-6-2-3-4-4 0-7 0-6-2-3-5-4 0-6-2-5-2-2-5-3-3-4-3-2-7-1-3-3-3-3-5-4-2-2-7-1-3-3-3-4-4-3-3-4-3-3 1-6-4-4-3-3-4-2-4-4-3-3-4-4-2-4-3-3-1-6 0-7 0-6 0-7-3-2-4-5 0-6-2-3-5-4 1-6 1-7-1-7-3-2-4-4-3-3-4-4-2-2-4-4-3-3-4-4-2-3-4-4 0-6 0-7 4-3 2-3 1-7 3-3 3-4 0-6 0-7 4-4 4-2-1-7-1-7 4-4 4-2-1-7 1-6 0-7 0-7-4-2-4-4 0-7 4-4 4-2-1-7 0-7 0-6 0-7 0-6 0-7-1-7 0-6 0-7 5-4 2-2 5-5 3-2 3-3 7 0 3-4-1-6 4-5 2-2 0-6 5-5 3-2-1-7 5-4 2-2 4-4 2-3 0-6 5-5 2-2 0-7 4-4 3-2 0-7 4-4 3-2 4-4 2-3 0-7 4-4 2-2 1-7 4-4 2-2-1-7 5-5 2-2 5-5 2-1 5-5 2-2 0-6 4-5 4-2-1-7 4-3 2-3 4-4 3-3 4-4 2-2 5-5 2-2 4-4 2-3 5-4 2-2 0-7 4-4 4-2 1-7-1-7 3-3 3-3 0-7 4-4 4-2 0-7 2-2 3-5 4-4 2-2 0-7 4-4 2-2 5-5 2-2 5-5 2-2 4-4 7 1 3-3 3-4 7 0 7 0 1-3 5-5 7 1 6 1 7 0 7-1 2-2 4-4 3-3 0-7 4-3 3-3 3-4 3-3 4-4 7 0 2-2zM522 193l-1 6 1 1 1-1-1-6zM521 213l-6 6-4 0 3 7 1 6 0 3 7 0 2-3-2-3-5-3 5-3 6-4 1 0-1-2 0-4-6-1zM457 219l5 4 5 3 2 1 1-1 1-7-2-1-7-4zM488 219l0 7-1 6 1 7 1 0 6 0 7 6 1-6 1-7 3-6 1-7-6-3-7 3-6 0zM533 226l2 3 2-3-2-3zM528 246l1 0-1-2zM511 259l4 4 3-4-3-5zM377 272zM429 272l0 2 2-2-2-1zM442 279l1 0 0-1zM528 285l0 1 7 1 3-2-3-3-7 3zM560 285l1 3 4-3-4-1zM422 292l1 1 6 3 7-3 1-1-1-5-7 2-6 1zM462 292l-4 6 4 2 4-2 3-2 3-4-3-3-7 3zM302 536l2 2 7 0 2-2-2-3-7 0zM223 569l2 0 1 0-1-1zM258 595l0 1-7 3-3 3 1 7 2 0 7 5 1 1 5 5 7-2 2-3-2-2-4-4 2-7-2-7-3-3zM212 615l6 2 2-2-2-4zM231 628l0 1 0-1zM362 655l1 3 7-3 2 0-2-3-7-2zM286 675l3 6 2 7 3-7 1-6-4-4zM245 681zM220 694l1 7 4 5 2 2 4 6 0 1 1-1 6-5 1-1-1-2-3-5 1-7-5-6-6 4zM303 747l1 1 1-1-1-2z"/>
<path fill="#00c0ff" d="M515 144l5-4 2 0 2 0 4 4 7-1 4 4 3 3 3 3 3 5 2 2-2 5-3 1 3 3 2-3 5-1 2 1 4 4 7 0 3 3 4 4 5 3 1 2 7 3 6-1 7 0 2 2 5 4 3 3 3 4 3 2 4 4 3 3-1 7 4 5 1 1 6 3 3 4-3 3-3 3-4 4-3 3-3 3-7-2-6 6-7 6-4 7 0 6 0 7-1 7-1 6 2 7-2 6 6 4 3 3 0 7 4 3 2 3 1 7-3 3-4 3-1 7 1 7-3 2-4 4 1 7-4 3-3 3-1 7 1 7-3 3-5 3 1 7 0 6-3 4-3 3-3 4-3 3-4 3-4 3-3 3-3 4 1 6-1 7-3 4-4 3 0 6 1 7 3 3 3 3 1 7-4 4-4 3-1 6-2 2-3 5 0 6-1 7 0 7-2 2-3 4 0 7-1 6-2 7-1 1-3 6-1 6 1 7-1 6-1 7 2 7-4 3-3 3 0 7 0 6 0 7-3 3-3 4-1 6 0 7-3 3-4 3 0 7-2 7-5 6 0 7 0 6 0 7 0 7-2 2-4 4-3 3-2 4 0 6-4 4-3 3 1 7-1 6-4 4-3 3 0 6-3 4-4 3-3 3-3 4-4 3-4 3 0 7-2 2-3 4-4 4-3 3-3 4-3 3-4 4-3 2-4 4-3 3-3 3-5 3-2 2-3 5 0 7 0 6-3 3-4 4-1 6-2 3-3 4-1 7 0 6-3 3-3 4-1 6 0 7 1 7 1 6-1 7 0 6 1 7 0 7 0 6-1 7 0 6 0 7 1 7-4 3-3 3-4 4-5 3 0 6 5 4 4 3-4 3-3 4-3 3-4 3-3 3-7-1-1-2-5-3-7 0-6-1-7 1-3-3-4-5-2-2-4-4-2-3-1-6 0-7 2-6-1-7-1-7 0-6 0-7-1-6-3-4-3-3 0-7 0-6-3-4-3-3-1-6-2-7-1-3-7-1-2-3-4-4-7-1-1-1-5-4-3-3-4-3-7-1-2-2-4-5-2-2-5-5-1-2 1-6-6-6-1-1-6-3-3-3-4-4-2-3 2-6 7 0 7 1 6-1 3-1-3-1-6-3-7 4-7-4-2 4-4 1-1-1-2-6 1-7 0-6 0-7-5-3-3-4 0-6-3-4-3-3 0-6 2-7-1-7-5-3-3-3-4-4-3-3-3-4-3-2-4-4-3-3-3-5-2-2-1-6 1-7 2-1 4-5 0-7 2-2 4-5 0-6 0-7 3-2 6-4 1 0-1-1-2-6-1-7 3-3 6-3-1-7 1-6 0-7 0-7-6-2-3-4 0-7 3-3 6-3-2-7 0-7 0-6 0-7 0-6 0-7-1-7 0-6 0-7 4-3 3-3 4-4 5-3 1-1 7-1 4-5-1-6 3-4 4-3-1-6 4-4 4-3-1-7 4-3 3-3 3-3 3-4 0-6 4-4 3-3 0-7 3-3 4-3 1-7 2-2 4-4 3-3 3-4 0-7 3-3 3-3 1-7 3-3 3-3-1-7 4-4 3-3 4-4 3-2 4-4 3-3 0-6 3-3 5-4 0-7 2-2 4-4 2-3 4-4 3-3 3-3 4-4 3-3 3-3 3-4 4-3 3-3 0-7 3-3 5-3 2-6 7 3 5-4-1-7-4-2-2-4-1-7 3-2 6-4 0-2 3 2 4 0 0-4-2-3-1-7 3-3 3-3 1-7 2-3 3-3 4-4 3-3 4-4 3-3 3-3 7 1 4-4 2-2 7 0 7-1 2-4 4-4 7 1 6 2 7 0 7-2 4-3 2-3 5-4-1-7 3-2 4-4 2-2 4-5 3-3 7 1 4-4zM552 186l3 7 6 2 7-1 1-1-1-5-7 1-3-3-3-6zM519 193l-3 6 6 5 4 2-4 2-5 5-2 2-3-2-1-7-2-3-7 2-7-1-2 2-3 7-1 0-6 6 2 7-2 6 1 7 5 3 6 0 4 4 3 5 1 1 2 7 2 6 0 7 1 7 1 2 1-2 5-3 7 2 3-6-3-4-2-3 1-6-1-7 2-4 4 4 0 7 2 6 7-6-6-7 6-6 5-7-2-7 4-5 1-1-1-7 0-2-7-2-1-2-4-7-2-6 0-1-2-6-4-2zM459 213l-3 4-3 2 3 2 6 5 7 5 5-5 2-7-7-4-3-2-4-3zM554 213l1 1 1-1-1-1zM604 213l4 2 4-2-4-4zM545 232l0 7 3 1 3-1 1-7-4-3zM460 239l2 3 4-3-4-1zM386 265l4 1 3-1-3-2zM443 265l0 3-1 4-4 7-2 2-4-2 2-7-5-6-3 6 0 7-3 2-5-2-2-1 0 1 0 2 3 4-3 3-2 4 2 2 6 4 1 1 6 0 1-1 6-2 4-4-2-7 5-3 6-3 0-2 7-4 6 1 1-2 6-5 3-2-3-1-7-2-6 3-7-2zM554 272l1 2 0-2 0-1zM532 279l-4 2-4 4 4 6 7-1 7-1 3-4-3-2-5-4-2-2zM586 279l2 4 2-4-2-5zM556 285l3 7 2 1 4-1 3-2 7-1 1-4-1-1-7 0-7-2zM454 292l0 6 2 4 6 2 7-4 1-2 5-6-6-6-7 1-6 3zM487 292l-3 6 5 2 1-2 0-6-1-1zM409 305l1 0 1 0-1-2zM466 312l3 3 3-3-3-3zM485 312l2 6 2 2 6 2 3-4-3-2-5-4-1-2zM515 351zM495 364l0 2 1-2-1 0zM548 371l1 0-1-1zM277 430l1 1 0-1zM370 457zM441 463l2 1 3-1-3-1zM541 463l1 1 0-1zM475 510l1 0 0-1zM218 529l0 2 1-2-1 0zM299 529l-1 7-1 5-1 2 1 1 1-1 6-2 7 0 5-5-4-7-1-1-7-1zM216 543l2 2 3-2-3-4zM284 543l1 0-1-1zM262 556l2 5 3-5-3-2zM215 562l1 7 2 2 7 0 6 1 2-3-2-3-4-4-2-1-7 0zM257 569l1 1 2-1-2-2zM243 576l1 6-1 7 1 6 0 7-6 7-4-7 1-7-4-1-1 1-5 7 1 7 5 6 1 0 6 2 7 5 6 3 7-3 6 4 2 2 3 7 2 3 6-3-3-7 2-6 2-1 1-6-1-2-6-4 1-7-2-2-2-5-4-6-1-2-2 2-4 2-7 3-5-5-1-7 0-6 0-2zM268 576l3 5 6-5-6-7zM304 576zM282 582l-1 7-1 6 3 7 1 1 2-1 5-6 0-1 0-6 0-2-3-5-4-3zM456 589zM218 602l-6 2-3 5 0 6 3 6 6 0 5-6 1-6-4-7-2 0zM465 609l4 2 1-2-1-1zM304 615l-3 7 3 6 0 1 0-1 3-6 4-2 3-5-3-3-7 3zM225 628l4 7 2 5 6-5 0-7-6-2zM275 648l3 3 5-3-5-3zM361 648l0 7 1 6 1 1 2-1 5-2 7-2 1-2-1-6-1-1-6-5-7 3zM283 655l1 4 1-4-1-4zM465 655l2 6 2 2 2-2 0-6-2-2zM421 661l2 2 2-2-2-3zM283 668l0 7 1 6 1 7 6 5 5-5 1-4 1-3 6-6 1 0 5-7-6-2-2 2-5 5-6-4-4-1-3-4zM495 668l0 1 1-1-1-6zM235 675l3 2 2 4 5 4 6-2 1-2-1-4-6-1-3-1-4-2zM363 681l0 1 1-1-1 0zM212 688zM228 688l-3 1-7 4-2 1 2 7 5 7 1 6 1 3 6 2 4 2 3 6 0 1 0-1 1-6-1-4-1-3 1-1 3-5-3-7 0-1 2-6-2-6 0-1-7-3zM389 688l1 3 3-3-3-1zM192 694zM302 694l2 2 1-2-1 0zM198 708l1 0-1-1zM217 741l1 1 2-1-2-2zM297 741l0 1 2 5 5 6 4-6-2-6-2-3-7 2zM269 747l2 4 3-4-3-1zM237 760l1 2 2-2-2-1zM256 787l2 3 3-3-3-2zM263 800l-3 7-2 2-6 4 4 7 2 1 6 1 4-2 1-7 2-1 1-5 1-7-2-1-7-5zM288 820l-4 4-1 2 1 1 7 2 2-3-1-6-1-2zM303 840l1 0 0-1zM296 846l1 6 2-6-2-4zM355 879l2 0 1 0-1 0zM509 234l1 5-1 2-1-2zM515 244l5 2-5 2-2-2zM370 264l4 1-4 5-1-5zM429 281l2 4-2 1-2-1zM251 614l2 1-2 4-2-4z"/>
<path fill="#49ffad" d="M515 145l6 2 1 5 1-5 5-1 7-2 3 3 4 4 2 2 4 6 1 1-1 1-6 3-5 2 5 3 5 4-3 7-1 6 5 1 4 6 3 4 6 2 7-2 3-4 4-6 6 0 7 2 1-3 5-1 7 0 1 1 6 5 1 2 5 5 1 1-1 3-6 2-5-5-2-4-3-2-4-3-3 3 1 6 2 4 2 3 3 7 2 5 7 1 6-2 4-4-2-7 5-2 2 2-1 7 2 6 3 2 7 3 2 2-2 2-4 4-3 3-4 4-2 2-6-2-1-1-2 1-4 4-7 1-2 2-1 6-2 7 0 6 0 7-1 7-1 1 0-1-3-7-3-4-4 4-2 7-1 3-5-3-1-1-1 1-6 2-7-2-1 0-1-7-1-7-1-6-2-5-7-1-6 4-7-5 7-5 6 3 1-4 6-4 6-2 7-1 1 0-1 0-7-2-3-5-3-5-3-1-4-2-2-5 2-3 4 3 3 4 1-4 5-5 2-1-2-5-6 1-7 0-6 1-7-2-2-2-1-7 1-6-5-3-6-1-6 4-1 1-6 4-2 1-5 3-7-2-6 6-6 7-1 0-6 0-1 0-6-2-7-4-3-1-2-7-1 0-1 0-1 7 1 7-6 6-6-6 0-1-1 1-1 6 2 3 6-2 7 5 1 1 5 3 5 3-5 3-6 3-7 1-2 0 2 0 7 3 2 4 4 3 7 1 3 2 2 7-5 3-6-3-1-1-6-3-7 4-6 1-3 5-4 5-4-5-3-6-1 0-3-7-2-6-5 6 4 7-6 5-6 0-5-5-2-6-2-1-1-6-2-7-2 0-6-2-2-5 2-2 4-4 1-7 1-1 4-5 3-3 4-4 3-3 4-4 2-2 7 1 6-5 0-1 7 1 7-1 3-6 3-3 7 2 5 1 1 2 7 0 1-2 6-1 5-5 1-1 6-6 0-7 1-1 6-5 0-1 5-6 2-1 7 0 5-5zM511 160l4 4 7 0 1-4-1-6-7 5zM533 173l2 1 1-1-1-3zM526 180l2 2 3-2-3-4zM478 199l4 4 3-4-3-2zM433 239l2 7 1 0 6-7-6-4zM430 259l6 1 3-1-3-1zM522 140l0 5-1-5zM555 166l0 1-1-1zM561 172l7-1 2 2 5 6 2 1-2 4-7-4-2 0-5-1-4-6zM515 203l4 3-4 4-1-4zM476 228l3 4-1 7-2 2-2-2-3-7zM482 244l7 1 6-1 2 2 2 6-4 4-6-1-7 3-4-6 3-6zM377 251l6-1 4 2-3 7-1 0-1 0-5-2-1-5zM482 261l3 4-3 4-4 3-2 2-4 5-3 3-3-3 2-7 1-1 7-2 2-4zM495 264l5 1 1 7-4 7-2 3-1 3-5 3-7 2-2-5 2-2 7-2 5-2-3-7 3-7zM535 263l7-3 6 5 0 2 2 5 1 7-3 4-6-4-7-5-3-2 1-7zM390 269l6-1 7 0 7-1 6 3 7 0 0 2 0 2-7-1-4 6 2 6-4 7-1 0-6-2-4 2-2 6 3 7 3 1 7 3 6 3 4-7 3-2 6 0 6-5 1 0 6-6 0-7 1-1 6-3 7-1 3 5-3 2-4 5 0 6-3 6-2 1 2 2 7-1 5 6 1 1 5 5 2 2 4-2 3-3 2 3 4 3 7 3 1 1 5 2 7-2 0-7-7-5-2-1-3-7 5-6 1-1-1-3 0-3 0-3 1 3 6 2 2-2 5-4 6-1 4 5 3 2 6 0 7-1 7 1 6 2 7-2 6 2 7 0 7 0 4-4 2-4 7 2 6-1 1 3-1 2-6 4 6 2 7 3 2 2-1 7 6 5 1 1 1 7-2 2-5 4-1 7 0 7-1 1-6 5 1 7-2 2-4 4-1 7 1 7-2 1-6 5 1 7 0 6-2 3-4 4-2 3-4 4-3 2-5 4-2 2-5 5 2 6 0 7-3 3-6 4 1 6 1 7 4 5 2 1 1 7-3 3-6 4-1 5-1 1-3 7-1 6 0 7 0 7-1 1-4 5 0 7-1 6-2 5-1 2-3 7-1 6 1 7-1 6-1 7 2 7-3 3-4 3 0 7-1 6 0 7-1 2-4 5-2 6 1 7-2 2-5 4 0 7-1 4-7 0-3-4-2-7 5-4 2-2-2-3-7 2-2 1 1 6-2 7 3 6 2 1-2 1-6 0-1-1-6-4-3 4 0 6 3 6 4 1 0 6 3 1 3 6 3 7 2 6-2 2-3 5 0 6-3 3-4 4 1 7-1 6-3 3-4 4 0 6-2 3-5 4-2 2-5 5-2 2-5 4 0 7-1 1-5 5-2 3-4 4-2 3-4 4-3 3-4 3-3 3-4 4-2 2-7 4-6-1-2 1 2 2 1 5 1 7 0 6-2 2-5 5-1 6-1 1-5 6 0 7 0 6-2 2-4 5-1 6 0 7 1 7 1 6-2 7 2 6 0 7 0 7 0 6-1 7-1 6 1 7 1 7-3 2-4 4-3 3-6-1-2-2 2-1 1-5-1-7 0-1-6 1-1 1-3 6 0 6 3 7-5 6 5 3 7-1 6 3 3 2-3 2-4 5-2 2-5 4-2 2-7-2-6-4-7 0-6-1-7 1-2-2-5-6 0-1-6-6-1-1-1-6 1-7 1-3 4-3-4-6 0-1-2-7 0-6 0-7-1-6-4-5-2-2 1-7-1-6-4-5-2-2 0-6 2-7 5 0-5 0-5-7-2-5-1-1-1-7 2-3 2-3-2-7 0-3-7-3 0-1 0-6-1-7-5-1-7-2-6 3 0 6-1-6-2-6 3-5 3-2 3-4 3-3 0-6-3-3-1 3-5 4-6 2-1 1 0-1-3-6 3-4 6-3-6-1-7 0-6-1-2 2-5 6-6-1-6 2-1 1-1-1 1-5 0-2 5-6 2-6 1-1 3-7-4-3-7-2-4 5-1 7-2 3-2 4-2 6 1 7-3 4-1-4 0-7 0-6 0-7-6-4-2-3-1-6-3-5-2-2 1-6 1-4 1 4 5 3 5-3-5-6-2-1 2-3 6-4 1 0 6-2 2 2 2 7 1 7 0 6 2 3 1-3 1-6 1-7 1-7 0-6 0-7 1-6 1-7-1-7 2-4 5-2 1 0 4-7 2-6-6-7-6 4-7-2-7-1-2 6-1 6-3 2-1-2-6-4-6 3-2 1-3 7 4 6 1 0 1 7 5 6 1 1 0 6-1 7-6 6 0 1 0-1-7-4-2-2-5-5-1-2 1-4 5-2-5-7 6-7-6-4-6 2-5 2 4 7-6 2-2-2-3-7-1-1-1-5 1-6 0-1 5-6 1-7 5-7 0-6 1-7 1-1 6-1 7-4 2 0-2-1-7-4-1-2 0-7 1-1 7-4 4 5 1 7 2 2 2 5 2 6 2 1 4-1-2-6 1-7 4-2 1 2 3 7 2 6 5-6 2-2 5-5 2-2 5 2 1 1 4-1 3-1 0 1 6 5 1 2 5 6 1 2 4 5 3 3 1 3 0 7 0 7 1 6-2 6-1 1 1 6 0 1 2 6 4 2 6 5-6 4-3 2 3 2 7-1 0-1 1-6 5-3 7-1 7-2 1-1-1-2-2-5-5-3-5-3 2-7 3-3 6-3 1-1 6-3 2-3 2-7-4-1-6-3-7 1-2 3-4 7-1 1-1-1-1-7-4-6 0-1-2-6-5-4-3-2-1-7-1-7 5-5 2-1-2-7-4-6 4-3 7-2 2-2 3-7-2-6-2-7-1-4-3-2-2-7-2-4-6-2-2-1-5-1-2-5-5-5-5 5-1 3-4 3-1 7 5 4 6 1 1 2-1 2-6 3-7-3-1-2-3-7 2-7-1-6-3-6-5 6 0 6 3 7-5 4-2-4-1-7-4-3-6-1-7 0-6 2-2 2 2 3 1 4 5 5 7 0 5 2 1 1 5 5-3 7-2 0-6 5-7-1-6 0-7-1-7 0-2-3 0-7 2-2 7-4 2 0-2-2-1-5 0-7-1-6 0-7 1-6-1-7-1-7 0-6 0-7 3-2 4-4 3-3 6-3 3-1 4 0 6-7-2-6 2-3 5-4-1-6 3-3 5-4-1-7 3-2 4-4 2-2 5-5-1-6 3-3 4-4 0-7 2-2 6-4 0-7 1-1 6-5 1-1 4-6 0-7 2-2 4-4 1-7 2-2 4-4-1-7 3-3 4-4 3-3 4-3 3-3 4-4 1-6 1-2 7-4 0-1 0-2-1-5 1 0 5-6 1-1 5-6 2-2 4-4 3-3 4-4 2-2 4-5 3-2 5-4-1-7 2-2 7-4 0-1 2 1 5 1 6 1 1-2 2-7zM389 312l1 0 0-1zM475 325l1 2 1-2-1-3zM461 331l1 3 4-3-4-2zM342 338l2 4 2-4-2-2zM482 338zM497 345l5 0 0-1zM474 351l2 3 1-3-1 0zM487 351l2 1 4-1-4-1zM511 351l4 4 5-4-5-6zM532 351l3 3 2-3-2-2zM481 358l-2 6 3 2 7 1 2 4 4 3 4-3 0-7-4-6-6 6-7-6 0-1zM574 358l1 1 3-1-3-1zM528 364l0 1 1-1-1 0zM547 364l-4 7 5 3 4-3 3-6 0-1-7-3zM555 411l0-1zM452 417l4 4 2-4-2-2zM546 417l2 4 4-4-4-2zM273 430l-2 6 0 1 7 6 3-6 3-4 1-3-1-1-6-2zM532 430l3 1 2-1-2-1zM448 437l1 2 2-2-2-3zM521 444l1 1 1-1-1-1zM368 457l2 3 4-3-4-2zM515 457l1 0-1-4zM269 463l0 7 2 4 3-4 4-4 6 2 3-5-3-1-6 1-7-3zM438 463l5 4 6 1 4-5-4-3-6-2zM535 463l7 5 5-5-5-3zM293 470l4 3 4 4 3 1 1-1-1-6-1-1-6-5zM343 470l1 1 0-1 0-6zM369 470l-3 7 2 6 2 2 1-2 1-6-1-7-1-1zM455 470l1 1 1-1-1-1zM350 483l0 1 7 2 4-3-4-4-7 4zM428 483l-2 7 0 6-3 7-1 0 1 0 2 0 4-1 7-1 2-5-2-4-2-2-1-7-4-1zM336 490l1 1 1-1-1-1zM455 490l1 1 6-1-6-4zM324 503l0-1zM462 503l-6 6 0 1 0 1 6 2 6-3-4-7-2-1zM470 510l6 3 4-3-4-3zM230 516l1 1 1-1-1-1zM296 523l-1 6 0 7-4 4-7-2-5 5 5 3 7-1 5 4 1 3 2-3 5-5 7 1 6 0 7-1 1-1-1-6-1-1-6-5-1-2-5-4-7-2-7-2zM346 523l4 2 4 4 3 3 4-3-4-6 0-1-7-2zM215 529l1 7-3 7 5 6 7-5 1-1-1-2-5-5 2-7-4-3zM368 536l2 2 2-2-2-3zM469 556l-7 6 0 7 0 2 7 1 3-3 4-6 0-1 1-6-1-5-7 4zM294 576l3 1 7 2 7 1 4-4-4-3-7-3-7 4zM356 589l1 1 0-1 0-1zM451 589l5 5 5-5-5-5zM470 602l-1 0-7 4-6-3-3 6 3 2 5 4 1 3 7-2 1-1 3-6 3-5 1-2-1-1zM309 609l-5 3-4 3-3 4-2 3 2 5 1 1 6 6 5-6 2-1 3 1-1 7 4 3 4 4 3 4 2-4-1-7 0-7-1-2-6-4 4-7-5-2-5-4-1-2zM350 615l0 1 1-1-1 0zM396 622l0 4 2-4-2-1zM374 635l-4 3-4 4-3 1-3-1-3-3-7-3 0 6 7 4 0 2 2 7 0 6 4 4 7-3 6-1 1 0 4-6 1-7-3-6-1-7-1-1zM437 635l-1 1-7 4-5 2 5 3 7-1 5-2 2-2 1-5-1-2zM474 635l2 2 1-2-1-3zM399 655l4 1 3-1-3-1zM421 655l-4 6 6 4 5-4-4-6-1-2zM462 655l0 6 0 2 7 3 7-4 1-1-1 0-2-6-5-6-7 4zM223 661l0 7 2 1 4-1-2-7-2-2zM270 661l-2 7-4 6-3 1 1 6 1 7 1 1 3-1 4-5 2-2-1-6 4-7-3-7-2-2zM375 668l-1 7-4 3-7-2-6-1-2 6 2 6 0 1 0 2-1 4 1 1 1-1 5-3 7 0 5-3 2-4 1-3 5-5 1-1 1-7-2-6-6 0zM387 688l0 6 3 4 6-2 2-2 0-6-2-2-6-1zM249 694l2 2 1-2-1-5zM249 714l2 2 4-2-4-2zM263 714l-3 7 4 5 4-5-3-7-1 0zM292 741l2 6 3 4 3 3-3 5-6 1-1 0 1 1 5 6-4 7 4 6 0 7 1 1 1-1 1-7 5-4 4-2-4-6-2-1 2-1 2-6 1-6 4-7-2-6-5-6-7 2zM257 747l0 7 1 0 6-6 4 6 3 2 5-2 2-2 2-5-2-2-7-1-7 3-6 0zM376 774l1 0 0-1zM298 813l2 7 4 5 2-5 2-7-4-1zM330 859l0 1 1-1-1 0zM356 873l-6 3-1 3 1 3 7 1 4 3 2 3 7-3-4-7-3-2-6-4 0-1zM329 919l1 4 6-4-6-3zM351 939l5 6 1 1 2-1 0-6-2-2zM416 298l1 0-1 2-1-2zM476 295l3 3 2 7-5 6-7-6 4-7zM278 588l0 1-6 0zM205 611l1 4-1 4 0-4zM225 619l6 1 7 1 1 1-1 0-7 1-6 1-3-2zM502 649l1 6-1 6 1 7 0 7-1 0-6 0 4-7 1-7-4-6zM218 686l3 2-3 1-1-1zM192 703l3 5-3 1-1-1zM231 797l7 0 7 1 6-2 7 2 1 2-1 2-4 5-3 2-6-2 0-1-1 1-6 2-2-2-5-5-1-2zM264 826l7-2 7-3 0 5 6 6 3 1 4 2 3 5-1 6 1 7-3 1-7-1-6-5-2-2-5-5-7-1-6-7-1 0 1-2 6-5zM297 857l3 2-3 1 0-1z"/>
<path fill="#b1ff46" d="M535 145l2 2 5 5 1 1-1 6-1 1-6 3-6 3-1 2-1-2-1-6 2-4 3-3-1-6zM502 153l3 0-3 6 0-6zM515 150l1 3-1 1-2-1zM502 161l2 5 5 3 6 1 7 1 2 2-2 4-2 3 2 4 2 2-2 1-2-1-5-3-3-3-3-3-5 3 1 6 4 4 2 3-2 1-7 3-6-4-1-1-6-3-6 4-1 0-2 0-4-4-1-3 1 0 6-3 7-1 1-2 5-5 7-1 0-1 0-1-1-6zM568 172l1 1-1 4-6-4zM449 184l7 2 1 0 5 6 4 1-4 2-6-2-4 6-3 6-6 0-6-6 6-4 3-2 1-7zM542 191l6 0 2 2 3 6-5 4-6-3-4-1 1-6zM575 192l6-3 5 4 1 6 1 3 3 4 3 3 2 4 1 6 0 7 2 6 2 2 2-2 4-6 1-1 1 1 5 3 7-1 6-2 2 6-2 2-5 5-1 1-3-1-4-5-6 3-2 2-5 2-6 5-1 6 1 7 0 6-1 4-2-4-4-1-5 1-2 2-5 5-1 1-7 6-2-7-4-7-1-2-1-4-2-7-3-5-1-1 1-1 6 0 7-1 7-3 3-2-2-7-1-1-4 1-3 2-3-2-4-6-1-7 1-1 4-5-1-7 4-5 1-2 5-6zM586 239l-5 7 7 0 3 0-1-7-2-1zM608 192l0 1 5 6-5 3-2-3-1-6zM416 198l6 1 1 1 5-1 1 0 1 0 0 7 6 4 2 3-1 6-1 3-4 4-3 2-2 4 2 4 1 3-1 2-6 0-5 5-2 2-6 1-4-3 4-7 2-7-2-3-3 3-4 4-7 0-6-2-1-2 1 0 5-6 1-7 5-6 2-2 5-5 2-2 5-5zM413 219l3 7 1-7-1-1zM469 203l7-1 4 4-4 4-7-2-3-2zM621 205l1 1-1 4-2-4zM449 210l1 3-1 0zM449 223l3 3 4 3 6 3-6 3-7 1-6 0-6-4 6-5 1-1zM634 225l1 1-1 1-6-1zM443 243l6 0 3 3-3 2-6 0-3-2zM429 251l2 1-2 1 0-1zM482 252l2 0-2 0zM495 251l1 1-1 0-2 0zM410 258l6-1 2 2-2 1-6-1-1 0zM469 258l0 1zM436 265l0 1 0-1zM390 271l6 0 7-1 7 1 2 1-2 4-1 3 1 1 2 5-2 3-7-2-7 4-3 2 0 6 1 7-4 3-7 2-1 2 1 1 7 5 6-3 3-3 4-3 5 3 2 2 6 0 5-2 2-3 2 3 4 4 7 1 3 1 3 7 1 0 6 0 7 5 0 1 0 2-7 3-6 0-1 2 1 1 6 1 7-1 6 6-1 6-2 7 3 1 7 1 5 4-2 7 4 1 2-1 4-2 3 2 4 7 6 1 7 0 3-1 4-5 6 2 7 0 3 3 0 6 3 2 5 5 2 5 7-1 3-4-1-7 0-6 4-2 7-5 0-1 2 1 4 6 1-6-1-2-1-5 1-5 1-1 0-7-1 0-6 0-1 0-6 3-2 4-4 6 0 2-1-2-4-6 3-7 2-6 6 2 2-2-2-2-5-5-1-1-7-1-2 2 2 7-7 5-6-1-3-4-3-7 6-6 0-1 0-1-7-1-1 2-5 7-7-2-1 2-6 2-6 1-2-3 2-5 3-2 3 0 7 0 4-6 1-7 2-2 3 2 3 2 2-2 5-3 5-3-5-4-5 4-2 3-2-3-4-2-7 1-6-6 6-6 1-1 4-6 2-2 6 2 7 6 6-2 7 1 7 1 6 7 1 0 6-5 6-1 7 1 7 0 6-2 7 3 6 2 7 1 1 1-1 6 0 1 0 1 7 5 1 7-1 1-6 5-1 6-7 0 0 1-1 7-1 6 2 2 1 5-1 1-5 5-1 5-3 2 3 3 0 4-7 4-6 2 6 7 1 6-1 1-5 6-1 2-5 5-2 1-5-1-2-2-6-2-6 4-1 0-6 6 1 7 5 2 6-2 1-2 0 2 3 6-1 7-2 2-7 4 0 1 1 6 1 7-2 4-6-4 0-1-1 1-6 3-4 3-3 7 7 3 7 1 3-4 3-3 5-4 2 0 2 7-2 2-7 4-1 1-5 6 1 7-1 6 0 5-1 2 0 7-4 6 0 7-1 6-1 2-3 5-2 7-1 6 1 7-2 5 0 1-4 7 4 2 2 5-2 2-6 4 1 7-1 6 0 7-5 7-2 6-6-2-5-4-2-2-6-5-1 0-1 0-2 7 3 2 5 4-5 3-6 4 1 6-1 3-2-3 2-6-7-7-1 7-5 5-7 0-6-5 6-4 4-3 3-5 6 3 0-4 0-1-2-6-4-5-7 0-4-2 0-6-3-6 0-1 0-1 6-5 1-1 7-5 0-1 6-6 1-1-1 0-3-6-1-7 3-6-5-7-2 0 2-1 1-6-1-3-2-3 2-7 6-4 2-2-2-2-6-3-5-2-1-7-1-1-4-5-2-7-1 0-5-6 5-4 2-3-2-3-3-4-3-2-5-4-1-7 6-5 3-1-2-7-1-2-3-5-4-1-6 1-2 0-5 3-4 4 4 4 6-4 1-3 0 3 6 7-2 6-4 2-7 0-2 5 0 6 2 3 7 4 1 0 0 7 5 6 3 7 4 3 5 3-4 7-1 2-6-2-1 0-6-2-1-5-3-6 1-7-4-2-7-2-4 4-2 6-1 1-1 6-5 5-1 2 1 2 7 4 6-1 2 2 0 6 5 2 7-1 6 2 4 4 3 4 5-4 1-2 2 2 4 6 1 7-1 7 0 6-6 5-5 2 2 6 0 7-3 7-1 0-6-3-1 3 1 6-2 7 1 6-2 7-3 3-2 4-2 6 4 2 5-2 1-4 7 3 1 1 5 7-1 6 1 2 7 4 1 1 1 7-2 1-4-1-3-1-1 1 0 6-1 7-4 6-2 0 2 2 3 5 3 3 7-1 3-2 4-2 6-1 7 1 1 2-1 7 6 6-4 7 0 6-2 2-6 5 2 7-1 6-2 2-5 5 0 6-1 2-6 5-1 1-6 6-1 0-6 5-6-5-1-3-6-2-1 5 1 1 2 5 4 7 1 0 0 6-1 2-5 5-1 2-5 5-2 2-5 4-2 2-5 5-1 1-7 3-6-4-3 0-4-2-1 2 1 2 2 4 5 5 0 2 1 7-1 6 0 1-6 6-1 4-1 2-5 7 0 7 0 6-1 1-5 6-1 6-1 0-1 7 2 3 0 4 2 6-2 7 2 6 0 7 0 7 0 6-1 7-1 6 0 7 2 7-2 1-6 5-1 1-4-1 2-6 1-7-2-7-3-2-7-1-3 3-4 6-6 0-7 1-6 0 0 7 0 1-2-1-5-4-5-3 0-7 5-4 5-2 2-4 2-3-2-1-6 1-1 1-2-1-5 0-4 7-2 6 0 1 0-1-1-6 0-7-1-6-5-6-1-1 1-7 0-6-6-6-1-1 0-6 1-3 3 3 3 4 7-1 4-3 2-4 7 1 7 1 2-5-2-6-2-1-5 0-7-3-4 3-2 4-7-1-6 0-3-3 3-3 5-3-5-2-6-5 4-6-1-7 2-7 1-4 0-2 6-7-6-3-7 0-7-1-6 0-6-2 5-7 1-1 1 1 5 4 2-4 0-7 5-6 0-7 7-2 2-4 1-7-3-4-1-3 0-6 1-1 2-6 1-6 3-4 1-3 1-7-2-4-5-2-1-7 0-6 6-4 1-3 0-7-1-4-6 0-7-1-1-1 1-7 7-2 6 0 2-4 4-7 1-1 4-6-2-6 2-7 1-6-1-7 0-7-4-6-1 0 1-1 3-6-3-6-1 0-6-2-6-5-7 6-1 1-6 6-6 7 0 5-1-5-2-7 3-5 1-1 4-7 1-2 7-4 1-1-1-1-5-5-2-1-2-6 2-2 7 2 0 1 5 6 2 1 5-1 1-1 1-6 1-6-2-2-6-4-2-1-5-7 0-2-1 2-6 6-2 1-4 2-1-2-3-7-3-4-6 2-6-4-1-3-4-4 0-6-3-7-3 7-3 4-4-4-1-7 3-7 2-3 2-3-2-2-7-3-3 5-2 6-1 3-2 4-1 7-3 6-1 1-7 3-6-2-1-2 1 0 4-6-4-6-1-1 1-3 6-2 3-2 3-6-3-7-2-6 6-5 7-1 1-1-1-7-1 0-6 4-3-4-4-1-1-5 1-2 6-5-1-6 2-2 7-4 0-1 0-1-2-6 2-1 6-5 0-1 6-6-1-6 2-2 5-5 0-7 1-1 4 1 0 7 3 6 1 1 6 2 6-2 7 1 4 5 2 5 5-5 2-2 2-4-2-1-7-1-6 1-4-6 1-7-4-4-6-2-6 0 1-7 5-5 1-1 4-7 0-7 1-1 4 1 3 5 2-5-2-1-2-5 1-7 1-1 5-5-1-7 2-2 4-5 3-2 5-4 2-2 6-5 0-6 0-1 7 0 2-6 0-7 4-5 7-1 1 0-1-1-1-6 1-1 5-5 2-2 5-5 1-1 5-6 2-1 6-5 0-7 0-1 7-1 7 0 6 2-2 7 2 4 5-4-5-7 3-6 3-7zM582 325l6 1 1-1-1-3zM427 331l2 2 5-2-5-4zM579 331l2 3 3-3-3-6zM339 338l0 7 5 3 3-3 2-7-5-6zM571 358l3 6 1 3 6 0 2-3 1-6-3-5-6-1zM341 364l3 4 6 0 4-4-4-3-6 1zM363 364l0 1 0-1zM356 371l1 0zM350 378l0-1zM467 378l2 5 2-5-2-6zM436 384zM563 384l5 1 5-1-5-3zM483 391l1 6 5 4 4-4-2-6-2-5zM504 397l5 2 1-2-1-1zM448 417l1 2 5 5 2 3 3-3 2-7-5-6-7 4zM428 424l1 2 1-2-1-1zM526 424l0 6 2 5 7-1 7-3 1-1-1-3-7-3-1 0-6-1zM326 430l4 7 2-7-2-3zM389 430l1 7 1-7-1 0zM480 437l0 7 2 0 1 0 1-7-2-1zM519 444l-4 3-6 3 3 7 3 4 4-4 3-4 2-3 4-5 1-1-1-3-6 0zM328 450l2 2 3-2-3-2zM339 450l2 7-4 5-3 1 3 7 7 6 4-6-2-7 3-6 1-1 5-6-5-2-6-1zM390 450zM270 457l-4 6-2 5-1 2-3 7 4 3 4 3 3 3 3-3 4-5 6 3 7 1 6-4 7 3 4-4 1-7-5-7-7-5-6 4-7-2-6 0-6-3-1-1zM366 457l4 6-5 7-2 3-6 2-6 2-1 0-6 6 0 2-7 1-7 2-4 2-2 2-7 2-3 2 3 6 1 1 6 4 4-4-1-7 3-3 5 3 2 2 3-2 4-4 2-2 4-2 7 0 6-2 5 4 2 1 1-1 6-7 0-6-3-7-4-7 7-3 2-3-2-6-7 1zM383 463l0 1 3-1-3 0zM409 463l-6 5-1 2 1 1 7 3 4-4 2-6 0-1-6 0zM420 470l3 2 3-2-3-1zM508 470l1 0zM391 477l5 2 1-2-1-1zM408 483l2 3 3-3-3-3zM527 483l1 3 3-3-3-4zM388 490l-5 5-2 1 2 4 5 3-2 7 4 2 6-2 1 0 0-7-1-1-2-6 2-2 2-4-2-4-6 1zM515 490l1 0-1-1zM494 496l1 1 7 2 3-3-3-2-7 2zM522 496l-7 5-2 2 2 2 7-1 1-1 0-7-1 0zM531 496l4 2 3-2-3-1zM365 503l5 4 6-4-6-3zM307 516l-3 2-7 1-3 4-3 6 0 7-7-3-4 3-2 2-4 5 2 6 2 1 6-1 7 0 4 7 2 3 4-3 3-7 1 0 6 1 6 1 5-2 2 0 5-6 0-7-5-4-4-3-3-4-2-2 2-3 4-4-4-2-6-3zM349 516l-5 4-4 3-3 4-2 2 2 2 3-2 4-2 5 2 1 7-2 7 2 2 4-2-2-7 5-1 3 1 3 3 7 4 7-6 2 6 4 5 2-5-1-7-1-1-6 0-3-6 3-3 3-3-3-3-6 3-1 1-7 3-3-4-3-7-1 0-6-1zM330 523l0 1 2-1-2-3zM425 523l4 3 3-3-3-5zM521 529l1 1 0-1 0-2zM447 536l1 7 1 4 7 0 2-4 0-7-2-4-7 2zM342 549l2 4 2-4-2-2zM329 556l-2 6 3 2 3-2-2-6-1-2zM429 556l0 2 2-2-2-4zM499 569l3 3 4 4 3 2 1-2-1-7-1 0-6-1zM362 582l1 1 2-1-2 0zM419 582l4 3 3-3-3-1zM352 589l-2 4-1 2 1 1 7 0 0-1 3-6-3-4zM428 589l1 1 4-1-4-2zM330 595l0 2 4-2-4-1zM359 609l4 2 2-2-2-6zM346 615l4 5 7-1 1-4-1-3-7-1zM393 622l-3 5-7 1-1 0-5 2-5-2-2-1-5 1-2 1-2-1-4-2-1 2-6 3-6 2-2 2 2 4 0 3 0 1-7 4-4 1 2 7-3 6 5 4 3-4 4-5 0-1 2-7 4-3 4 3 3 5 0 2 0 3-2 3 2 7 2 0-2 0-3 7-2 6-1 7-1 3-6-1-6 4 6 5 6-1 3 3 4 1 1-1 5-4 7-2 7 1 4 5 2 5 7-3 4-2 2-1 7-5 0-1-2-6-5-6-6 1-4-2 0-6 4-7 6 1 4-1 1-7 2-2 7-3 5-1-4-7-1-4-3-2-1-7-1-7-2-2-1-4-6-4zM427 622l2 2 1-2-1-4zM434 628l-1 7-4 3-6-2-5 6 5 4 3 2-3 2-6 5-1 1-2 5 2 2 7 3 6 0 5 2 2 0 1 0-1-6 0-1-7-5-1-1 1-2 7-4 7 3 3-4 3-2 4-4-4-3-3-4-3-6-5-1-2 0zM474 675l2 0 0-2zM320 681l-1 7 5 1 1-1 5-6 1-1-1 0-6-1zM355 734l2 2 2-2-2-3zM368 734l0 7 2 1 2-1 0-7-2-1zM349 747l1 1 7-1 1 0-1 0-7 0zM383 747l0 1 1-1-1-2zM421 760l-1 7 3 3 6-1 2-2 0-7-2-2-6 1zM343 767l-6 5-5 2 5 2 7 0 1-2-1-7zM377 767l-3 7 2 6 1 1 1-1 2-6-3-7zM320 787l4 3 6-3-6-2zM337 826l-1 7 1 1 3-1 4-5 0-2-7 0zM387 840l3 3 5-3-5-2zM372 846l2 7 3 1 0-1 0-7zM346 859l4 1 7 0 0-1-7-1zM346 873l0 6 4 7 7 0 5 6 1 7 0 2 1-2 2-7 4-2 4-4-2-7-2-1-7-5-1 0-5-4-7 2zM330 879l1 0-1-1zM495 270l1 2-1 1 0-1zM542 266l1 6-1 1-2-1zM449 284l3 1-3 5-2-5zM489 285zM476 298l1 7-1 1-2-1 2-7zM456 311l0 1 0 2-1-2zM476 335l2 3 4 5 4 2-4 3-6 0-7-1-5-2 5-5 2-2zM509 341l1 4-1 2-1-2zM489 357l1 1-1 1-1-1zM502 356l1 2 6 2 6 1 4 3-4 3-6 2-6-5-1-3-1-3zM522 357l6-3 3 4-3 1-6 0-1-1zM561 417zM212 508l5 2 1 1 5-1 2-1 4 1-4 1-2 5 2 4 5 3-5 3-5-3-2-1-1 1-5 6 0 2-4 5-1 7 5 6 0 4-1 3-5 6-1 4 0-4 0-6-1-7 1-6 0-7-2-7 0-6 0-7 2-1 5-5zM449 504l3 6-3 4-5-4zM198 581l7-1 7-2 6 0 7-2 6 4 2 2-2 3-5 4-1 1-4-1-3-2-3 2-3 0-2 0-5-3-1 3-6 2-1-2 0-7zM462 597l2 5-2 1-2-1zM515 616l1 6-1 1-4-1zM198 628l7 0 1 0-1 2-7 2 0-4zM284 628l4 0-1 7-3 3-1-3 1-7zM297 633l2 2 5 5 7-3 6 5 4 6-2 7-2 1-3-1-3-2-7-2-3 4-4 4-2-4-2-7 1-6 0-7zM383 630l7 0 2 5 4 5 4 2 3 4 2 2-2 1-7 1-3-2-3-2-7-4-2-7zM225 639l1 3-1 2-2-2zM205 648l2 0 5 2 6 2 6 3-5 6-1 1-1 6-2 7-3 1-7 4-7 0-5-5 1-7-2-6 0-1-1-6 1-4 6-1 5-2zM251 644l5 4 2 2 6-2 5 7-2 6-3 6-1 1-5 2-2-2-5-4-4 4-2 2-4-2-3-2-5-5-2-4-2-2 2-1 3 1 4 1 2-1 5-4 1-3zM476 646l0 2 0 2-2-2zM390 651l2 4-2 3-5-3zM370 666l2 2-2 7-6-7zM185 677l5 4 2 1 3 6-3 1-7 2-4-3 3-7zM258 680l0 1 2 7 4 3 7-2 4 5 1 7 2 6 6 0 0 1-6 0-7 4-7 0-6-3-2-1-4-7 2-7 1-6 2-7zM383 684l2 4-2 6 0 1 0-1-3-6zM185 697l3 4-3 1-1-1zM212 704l3 4 0 6-3 5-3 2-4 0-1 0-6-6 0-1 0-1 7-3 2-2zM297 712l4 2 2 7-4 6-1 7-1 0-2-7-4 0-1 0-6 7-6-4-2 4 2 5 1 2-1 0-7 0-7 2-6-1-7 5 0 1-2-1 0-6-2-7-2-7 6-6 5 6 2 3 6 0 7-2 2-1 3-6 2-2 6 0 7 0 5-5zM311 723l1 4 0 7-1 2-2-2-2-7zM225 732l6 0 1 2-1 2-6 0-3-2zM212 743l6 3 7-3 5 4 1 5 1 2-1 1-1 5-5 4-7-3-1-1-1-6-4-6-1-1zM284 747l1 0 5 7-2 6 2 7-6 4-4-4-2-2-1 2-1 7-5 2-7-1-2-1-3-7-1-4-2-3 2-1 6-3 7 3 7-2 1-3 5-7zM245 778l3 2-3 1-2-1zM231 799l7 1 1 0 2 7-3 0-1 0-6-7zM251 799l3 1-3 4-3-4zM271 830l7 2 1 1-1 5-1 2-6 0-3 0-3-7zM278 840l6 3 4 3-4 3-6-2-1-1zM337 942l2 3 3 7-5 5-7-2-6-1-1-2 1-4 6 1 5-4zM350 945l7 4 6 3 1 0-1 0-1 6 1 4 7 3 2 0 5 1 0 6-6 6-1 1-3-1-4-4-6-1-7 0-6-1 1-7 5-7-4-6zM337 960l4 5 2 7-6 1-1-1-2-7zM383 964l1 1-1 1-6-1z"/>
<path fill="#ffd000" d="M535 146l1 1-1 6-2-6zM568 173zM449 185l4 1-4 4-1-4zM495 182l4 4-4 2-3-2zM581 192l2 1 1 6 3 7 1 3 3 4 2 6-1 7-1 6-3 2-7 4-2-6-4-5-7 0-1-1-3-7 4-6 0-7 6-7 1-1 4-5zM416 199l1 0 5 7 1 0 6 2 5 5-1 6-4 4-4 3-2 3-2-3-1-7-4-6-6 0-7 5-1-5 1-1 6-6 1-1 6-6zM476 205l0 1 0 1-2-1zM396 222l7 0 2 4-2 2-3 4-4 1-3-1 3-6zM634 226l-1 0zM416 232l1 0-1 1 0-1zM443 232l6-4 6 4-6 2-6-1-1-1zM627 231l1 1-1 1-5-1zM621 234l0 5-1 0zM575 244l2 2-2 5-2 1-2 7 4 4 1 2-1 2-7 2-3-4 0-6-1-7 4-2 4-4zM390 275l6 0 7-1 3 5-3 4-5 2-2 1-6 4-4-5 2-6zM370 290l7-3 1 5 3 6 1 7-3 7 4 4 3 2-1 7-2 1-2-1-4-1-7-1 0 2-6 6 6 5 7-2 5 4 1 2 1-2 3-7 3-4 6 0 7-1 7-1 4-7 2-1 3 1 4 3 3 4-3 4-2 2-5 7-3 7 3 4 6 2 1 0 6-2 6-4-4-7 5-3 2 3 3 7 2 0 6 0 1 0 6-3 2 3-2 6-4 7 4 3 6 0 7 2 2 1-2 3-5 4-1 7-1 1-3 5-1 7 4 3 4-3 3-4 7-3 3 7 0 6 0 7 3 2 7 0 3-2 3-4 4 4 3 2 5-2 2-1 6-6 0-3 7 0 5-3 1-1 1 1 3 6 3 5 3 2-1 7-2 6-7 3-6 1-7 2-1 1 1 1 7 2 1 3 2 7-3 2-6 5-1 0-6 1-3 5 3 5 0 2 0 3-7 2-3 1-4 3-6 4 4 7 0 6-4 2-2 5-2 6 4 6 6-1 7 2 1 0 1 7 4 6 1 2 3 5-3 3-1 3 1 1 6 1 7 3 3-5-1-6-2-7 0-1-5-5 5-2 6-3 4-2 3-1 1 1 1 7-1 6 0 7-1 5-2 1-3 7-1 7-1 2-6 3-3-5-4-3-4 3 4 6 1 0 6 1 6 5 0 1-4 6-2 3-4 4 4 3 6 1 2 3-2 1-6 2-3 3 3 7-6 6 2 7-2 7-1 3-6-3-7-6-2-1-5-4-6 2-6-5-1-3-1-3-5-2-6 2-1 0-1-7 1-1 5-5 2-2 6-5 7 0 1 7 5 4 7-2 4 4-4 4-7 2-1 1 1 0 7 3 7 1 3-4-1-7 4-6-2-7-4-3-7-1-7 0-4-3 2-6-4-6-5 6-2 1 0-1-2-7 2-3 3-3-3-3-3-4 3-6 1-1 1-6-2-7 6-6-6-5-4-2-2-2-3-5-4-4-2-2 0-7-3-6 3-7-2-7-3-3-5-3-1-2-2-5 2-1 3 1 3 3 4-3 1-6 2-2 2 2 5 3 6 0 6-3 0-7 1-2 6-4 4 6 3 4 7-2 0-2 0-1-5-6 0-6-2-5-4 5-3 5-6-1-5 2-2 1-3-1-3-1-4-5-3-5-2-2-5-4-1-2-2-7-3-3-3 3-4 4-1 3-4 6 5 5 2 2-2 1-6 2-7 0-2-3-5-4-5 4-1 4-3 2 3 2 4 5 2 3 4 4 0 6-2 7-2 6-6-1-7-4-2-1 2-4 1-3-1 0-6-4-7 2-7 0-2-4 2-3 7-3 7 1 1-2 2-7-3-1-5-5-2-5-3 5-4 3-6 1-7-4 0-1-5 1-1 0-7 0-3 6 3 4 7 0 1 3-1 7-7 6-7-1-3-5-3-1-4 1-3 0-3 0-3-2-2 2-5 4-4-4 2-7-1-7-2-6-2-3-6 1-7 0-1 2 1 1 5 5 2 3 3 4 0 7-3 2-7-2-1 0-5-1-7-3-7 0-6-3 0-1-1-6-1-6 2-7-6-6 6-5 3-2 1-7-4-3-1-3 1-6 6 0 7 1 7-1 0-1 0-6 0-1-1 1-6 5-7 0-1-5 0-7 1-2 5-5 2-1 6-5 1-1 6-2 3-4 4-2 2-4 2-7 2-6 6 6-1 7-5 5-2 1 2 2 5 5 2 5 0 1 2 7-2 5-1 2 1 0 7 4 6-1 5-3 2-2 6-4 7 0 1-1-1-2-2-5-5-3-6 0-4-3 4-5 1-2-1-4-3-2 1-7 2-1 6-6-5-6-1-1-2 1-1 6-4 5-4-5 1-6-3-7-1-6 1-1 2 1 4 3 3-3-2-7 5-7 1 0 6-4 5-2zM375 345l2 4 1-4-1-2zM442 358l1 0 0-1zM428 371l1 3 1-3-1-1zM453 371l3 6 5-6-5-4zM436 378l-3 6 3 5 7-2 6-1 1-2-1 0-6-1-7-5zM324 397zM526 404l2 2 4-2-4-2zM370 411l7 5 2-5-2-4zM402 411l1 2 3-2-3-2zM336 417l1 0zM357 417l-6 7 6 4 2-4 4-6 6-1-6-2-6 2zM492 444l3 1 2-1-2-1zM473 463l3 2 3-2-3-4zM508 556l1 0 0-3zM390 298l0 4-2-4zM509 295l6 2 1 1 4 7-5 3-6-1-7 0-2-2 2-2 4-5zM528 298l2 0-2 1 0-1zM542 304l1 1 5 5 7-1 2-4 4-3 7 1 7-1 6 2 7 0 3 1 3 5 1 2 0 6 6 4 7 0 0 3-7 5-7-1-1-4 0-7-5-4-5 4-2 2-2 5-3 6 4 7 1 5 2-5 4-7 1 0 2 0-1 7 0 7-1 2-7-2-6 0-6 6 0 7 2 6-3 7-4-7 3-6 0-7-6-3-4-3-2-2-7-5-6-6-7 1-6 5 2 7-3 2-5-2-1-2-2-5 2-3 3-4-3-6 2-7 4-2 6-4 1-3 4-4zM561 331l0 1 1-1-1 0zM436 323l2 2-2 2-2-2zM449 330l1 1-1 1-2-1zM509 327l2 4-2 3-3-3zM476 341l3 4-3 1-4-1zM350 350l1 1-1 1-1-1zM344 354l3 4-3 1-4-1zM509 364zM588 363l0 1 0 1 0-1zM476 376l6-2 2 4-2 6-6 0-2-6zM555 374l3 4-2 6 5 4 7-1 7 1 2 3 3 6-5 7 0 1-6 6-1 0-2 0-5-6-2-1-4-4-3 4-4 2-4-2 1-7 3-3 3-3-3-6 0-1 2-6zM502 384l7-5 5 5 1 7-6 3-7-1-6-2 2-7zM284 397l1 0-1 6 0-6zM548 430l7-4 2 4-1 7-1 1-5-1-2-4 0-3zM264 431l2 6 3 7 2 4 7 1 6-1 3 2-1 7-2 0-6 0-1 0-6-5-3 5-4 5-1 1-5 6-6 1 2 7-3 2-6 4 0 1-3 6-4 3-7-1-1-2 1-1 7-6-1-6 1-1 7 0 6-6-6-5-1-2 1 0 6-4 7-1 1-1-1-6 0-1-1-6 1-1 6-6zM462 433l3 4-3 3-1-3zM535 436l7-2 5 3-2 7 0 6-3 2-7 5-7 5-5-5 5-6 2-1 3-6-1-7zM443 443l0 1-2 0zM317 454l2 3-2 3-6-3zM337 455l1 2-1 0-2 0zM357 454l6-3 1 6 3 6-4 5-6 2-7-3-1-4 1-2 4-4zM383 455l1 2-1 1-1-1zM548 453l1 4-1 2-3-2zM396 460l5 3-4 7-1 1-6 2-4 4 0 6-3 6-2-6 0-6 2-5 2-2 5-3 3-4zM324 466l6 1 2 3 5 5 2 2-2 4-7 2-6 3-7 1-6 2-5-6 5-6 6 2 4-2 1-7zM515 467l2 3-2 6-1-6zM555 465l1 5-1 1-5-1zM403 475l3 2-2 6 0 7 5 6 1 1 2 6 2 7 2 1 6 5-5 7 6 3 4 3 2 2 2-2 4-6 1-2 7 0 4 2 1 6-5 5-5 2 5 1 3 6 2 6 1 6 1 1 4 6 2 5 0 2-2 0-5-2-2 2-4 7 0 1-7 3-7 0-6-2-7 2-2 2-1 7 3 4 3 2 1 7 3 5 4-5 0-7 2 0 2 0 0 7 4 7-6 3-4 3-2 4-7 2-6-4-3-2-4-2-5 2-2 1-5 6-1 1-7-1-6 2-7-1-7 0-1-1 1-5 1-2 5-6 1-5 1-2-1-1-7-3-2-3 1-6 1-2 7-3 3-2 4-2 2-4-2-5-7 1-3 4-4 2-6 4-2 0-5-1-6-1-2 2-5 5-7 1-6-1-3-5 0-6-4-5-2-2-4-3-3-4 1-6 2-1 2 1 4 2 4 4 3 3 6 2 7-3 2-2 5-3 5-3 1-3 3-4 4-1 6-4 7 3 7 0 1 2-1 2-3 5 3 6 2-6 4-4 3-3 1-6-1-7-3-6 0-1 3-6 4-4 6-2 7 0 7-1-7-1-3-5 0-7 0-7 2-6 0-7-1-6zM435 543l-6 3-2 3-1 7 3 6 0 2 2-2 5-5 1-1 0-7 0-6-1-5zM352 562l5 6 2-6-2-6zM383 589l6 6 1 5 1-5-1-6 0-1-7 0zM388 609l2 1 1-1-1-5zM416 609l2 0-2-1zM416 474l4 3-4 3-3-3zM436 471l3 6-3 1-4-1zM509 476l3 1 3 0 7 1 2 5 1 7-3 1-2-1-5-4-4 4-2 4-7-3-6-1 3-7 3-2 5-4zM297 483l1 0 2 7 4 1 4 5 2 7-6 6-1 1-6 5-1 1-4 7-1 2-7 3-4 1-2 1-7 6 0 1 0-1-7-5-2-2 2-4 1-2 0-7-1 0-6-1-5-5 5-5 6 0 7 2 3-4-3-5-7 1-2-3-2-6 4-3 3 3 4 4 3-4 4-3 5 3 0 6 1 1 1-1 0-6 6-3 6-4zM287 510l4 3 2-3-2-2zM443 490l6-1 0 1 7 5 2 1-2 3-7 0-3-3-3-6zM535 487l5 3-5 1-2-1zM251 495l2 1-2 3-1-3zM350 494l7 0 2 2-2 2-7 1-2 4 1 7-5 6 0 1-7 4-4-5-1-6 5-7 1 0 6-4 4-3zM212 509l2 1 4 6-6 5-2 2-1 6-4 5-1-5 0-6 1-7 6-6zM238 508l6 2-2 6-4 3-2-3 0-6zM363 512l6 4-6 7-2-7zM324 521l1 2-1 4-2-4zM462 528l2 1 1 7 0 7-1 6-2 2-2-2 1-6 0-7-1-7zM231 534l7-2 2 4-2 7-2 0-5-2-2-5zM258 534l2 2-2 4-2-4zM337 534l7-2 2 4-2 5-1 2-6 6-4-6 0-7zM278 554l2 2-2 1-2-1zM212 582l2 0-2 1-3-1zM225 579l4 3-4 4-6-4zM198 583l3 6-3 1 0-1zM324 591l3 4 0 7-3 2-6-2 1-7zM344 591l2 4 4 5 6 2-6 4-1 3-5 5-1 1-2 7 0 6-4 7 0 7-1 0 0-7-6-4 0-3 0-5 1-1 0-7-1-3-1-3 1-3 3-4 4-3 4-4zM443 592l0 3 0 2-2-2zM297 607l2 2-2 1-1-1zM489 614l6 1 1 0-1 0-6 1-1-1zM436 617l7 3 6-3 7 1 3 4-2 6 5 5 3 2-3 2-6 1-7-2 0-1-5-7-1-3-7 0-3-3zM469 620l7-4 2 6-2 2-7 0-3-2zM429 634l1 1-1 0zM297 640l2 2 2 6-4 5-2-5 2-6zM311 641l1 1-1 3-2-3zM251 647l1 1 6 6 6 0 1 1-1 4 0 2-6 5-5-5-2-5-1-1 0-7zM317 647l1 1-1 2-3-2zM350 648l1 0 2 7-2 6 0 7-1 5-6-3-2-2 2-3 2-4 2-6 2-7zM416 646l2 2-2 2-1-2zM456 647l0 1 2 7-2 3-7 0-3-3 3-4 6-3zM205 652l7 2 6 1 1 0-1 0-5 6 0 7-1 3-3-3-4-4-6-3 0-6zM330 652l2 3-2 2-1-2zM245 661l0 1-2-1zM410 659l2 2 4 4 6 3 1 0 6 2 7 2 6-4 1 0 6-2 2 2 5 2 5 5 1 3 7-2 7 3 6 2 7 2 1 5 0 6-1 1-7 6 2 7-1 6-1 1-6 6 0 6 0 1-7 6-2 0-5-2-6-4-7 1-3-2-3 0-2 0-4 7-1 2-1 5 1 1 4 5 3 4 2 3 4 6-6 7 0 1-6 6-1 1-6 5-1 1-6 6-7 1-3-1-1-7-2-3-7 2-1 1-3 7 1 6 3 6 1 1 6 4 0 3 0 4-7-1-4 3 2 7-5 6 0 7-6 3-7 1-2-4-4-1-2 1-4 7-1 0-4 6-3 4-6 1-7-3-6 3-3 2-4 2-5-2-2-1-2 1-4 2-2-2-5-4-6-2-2-1 2-6 1-7 2-7 3-6 0-1 2-6 0-6-2-2-6 0-2 2-5 1-5-1 2-7 3-7 7-2 6 2 2 0 5 2 1-2 5-3 6 3 0 7 1 2 7 0 5-2 1-2 1-5-1-2-2-4-1-7 3-5 3-1-2-7-1-1-6-4-6 5-1 1-7 1-5 5 5 5 3 1-3 2-6 0-7 1-2-3 2-6 0-1 3-6 0-7-2-6-1-2-1-5 1-3 2-3 2-7 1-7-2-6-3-7 3-6 2-7 0-7 2-1 5 1 1 3 7 3 2 1 5 4 6 1 7 0 3 2-3 5-1 1-6 5-6-5 0-2-1 2 0 7 1 3 6 0 4 3-2 7 5 7-7 1-4-1-2-7-7-1-1 1-3 7-3 3-4 3 4 2 7 1 4 4 3 4 3-4 3-2 7-2 6-1 3-2 4-3 5-3 2-4 0-3 0-1-7-4-7 3-4-5 2-6 2-6 1-1 5-6 0-7 1 0 7-1 0 1 3 7 3 2 4-2 3-2 6-3 6 5 1 0 2 0 1-7 2-7-3-6-2-4-1-3 1-1 3-5 1-7-2-7zM447 681l2 0zM469 688zM415 694l1 1 1-1-1 0zM475 694l1 3 2-3-2-2zM439 701l-1 7-2 5 0 1 0 1 7 0 1-1 0-6 4-7-5-1zM451 701l4 7 1 1 1-1 0-7-1 0zM389 721l1 1 1-1-1-1zM453 721l3 6 4-6-4-4zM396 734l0 1 1-1-1-1zM379 741l0 6 4 4 4-4 1-6-5-3zM369 760l-6 6-1 1 1 2 7 0 2 5 1 6 4 6 6-6-1-6 1-5 1-2 0-7-1 0-6-2-7 2zM418 760l-1 7-1 3-2 4 2 1 5-1 2-1 6-2 5-4 1-7-6-5-6 2zM382 800l1 3 7-2 1-1-1-1-7 1zM334 826l-3 7 6 6 1 1 6 3 3-3 3-7-1-7-5-3-7-1zM350 833l7 4 3-4-3-3zM319 840l5 4 4-4-4-4zM198 671l7 4-7 2-2-2zM337 672l3 3-3 2-5-2zM390 673l5 2-5 3-1-3zM482 674l0 1 0 6 0-6zM330 687l2 1-2 2 0-2zM258 690l6 3 7 0 1 1 1 7-1 7-1 0-7 3-4-3-1-7-1-3-2-4zM297 719l1 2-1 1-1-1zM251 726l1 1-1 3-1-3zM284 725l2 2-2 2-2-2zM264 734l7-2 2 2-2 3-7-2-1-1zM456 736l4 5-4 1-2-1zM225 746l1 1-1 2-3 5 3 6 0 1-5-1-2 0-1-6 1-5 4-2zM284 751l3 3-1 6-2 4-5-4 3-6zM264 764l7-1 3 4-3 6-7-4-1-2zM344 791l3 2-3 4-4-4zM363 857l7-1 4 3-4 7-7 2-6-2-7 2-2-2 2-3 7 3 5-7zM383 863l1 3 4 7 2 2 1 4-1 4-7-1-3-3-3-3-5-3 5-4 4-3zM337 875l7 3 0 1 0 7 6 2 7 1 3 3 0 7-3 4-6 3-1 1-3-1-3-7 1-7-1-5-7 2-3 3 2 7-6 6 0 1-6 5-1-5-5-7 3-7 0-6 3-3 6 3 4-7zM377 888l4 4-2 7-2 4-7-2-1-2 1-4 2-3zM390 889l1 3 0 7 0 7 0 6-1 7 0 2-5-2-2-1-6-2-7-1-4-3 4-3 7-1 6 0 2-2 1-7 0-7zM350 918l1 1 6 4 1 2-1 1-7 2-6-1-7 1-2-3 2-1 7-1 6-4zM383 938l7-3 1 4-1 1-7 5 0-6zM357 952l2 6 1 7 1 7-4 0-7 0 0-1 3-6 0-7zM383 965l-1 0zM370 970l3 2-3 2-2-2z"/>
<path fill="#ff5900" d="M575 204l6 2 3 7 4 4 1 2-1 7 0 1-3-1-4-1-6-2-6-4 4-6 0-7zM423 210l6 1 2 2-2 6-6 1 0-1-3-6zM403 278l0 1-3 0zM390 280l3 5-3 2-2-2zM363 297l7-2 5 3 0 7 2 6 0 1 6 6-6 3-5-3 4-6-6-2-6 2 3 6-3 7-1 0-6-4-7-3 7-6 0-1 6-6-3-7zM575 305l6 4 4 3-4 3-5 3 0 7-1 4-2 2 0 7-3 7-2 2-7-2-6-5-2-2 1-7-6-2-6 0-7 0-4-4 4-4 5-3 2-1 6-1 7 0 3-4 3-6 7 4 6-5zM555 325l0 1 0 5 6 5 4-5-4-4-6-2zM350 325l1 6-1 1-1-1 1-6zM416 321l5 4-5 5-3-5zM403 329l7 2 1 0-1 7 0 7 4 6 2 2 7 2 6-2 6-2 1 0 1 0 1 7 5 3 6 2 3 1-2 7-1 4-2 3-4 2-3-2-3-7-1 0-7-4-4-3-2-2-7 0-2 2-4 6-1 1 1 1 6 1 7-1 3 6 3 5 1 1 4 7 2 3 7-1 6 4 1 0-1 1-2 6-4 6-1 1-1 6-5 6-7-5 0-1-2-6-4-6-7 4-6-2-4-3 4-3 3-4-3-3-7 3-7 0-2 7 1 7 1 2 3 4-3 4-3 3-3 1-2-1-5-6-1-1 1-3 1-3-1-1-5-6-1-2-4 2-3 2-7 1-2-3-1-7-3-3-3 3-4 6-1 1 1 7-1 6-4 7 5 6 0 1 7 4 6-4 4 6-4 3-6-2-7 1-5-2-1-1-7-2-1-4-1-6 2-3 4-4-4-5-7 1-2 4-4 2-7-2-1 0-5-2-1 2 1 2 1 5 5 4 2 2 4 7-6 4-6-1-7-3-7 0-5-7 3-6 1-7 1-3 7-1 4-2 0-7-4-2-6-5-1 0-6-5-1-1 1-2 6-2 6 4 1 1 3-1 4-2 2-5 2-6-4-7 0-3-1 3-6 5-7 2 0-7 0-1 6-6 1-1 7 0 4 1 2 1 1-1 1-6 5-5 5 5-2 6 3 6 1 1 0 7-1 3 0 3 0 3 7 1 7 3 6-6 7 1 3-2 1-6 2-2 7 0 4-5 0-7-4-2-6-4-1-1-2-6-1-6 1-7 2-3 4 3 2 7 1 3 1 3 3 7 3 4 4 2 2 1 1-1-1-2-2-4-1-7 3-4 1-2 3-7 3-6 5 6 1 1 2-1-1-7zM317 397l0 1 7 4 3-5-3-2-7 2zM528 331l1 0-1 1 0-1zM330 336l2 2 0 7-2 2-1-2 0-7zM462 364l4 0-4 3-3-3zM555 377l0 1 0 1-1-1zM509 384l0 5-1-5zM476 389l0 2 0 6 0 2-3 5 3 1 6 3 7 0 6-3 7 5 7-4 2-2 4-3 5 3 2 4 5 3 1 2 1 4-1 0-2 0-4-3-2 3-5 2-6 4-3-6-4-6-7 6-6 5-5-5-2-2-2 2-4 5-3-5-4-2-4-4 1-7-2-7 5-5 2-1zM568 390l2 1 3 6 0 7-5 1-1-1-6-5-1-2 1-4 3-2zM528 397l1 0-1 1-1-1zM291 410l2 1-2 0-1 0zM416 421l3 3-3 2-6-2zM509 425l6 3 5 2 0 7-5 4-3-4-3-5-2-2zM555 427l1 3-1 6-4-6zM258 444l6-5 2 5 0 6-1 7-1 1-1-1 0-7-5-6zM370 442l1 2-1 0-1 0zM403 443l1 1-1 0-1 0zM416 443l1 1-1 0zM482 450l1 0 5 7-6 2-1-2-1-7zM502 450l2 7-2 1-7 3-6-4 6-3 7-4zM528 456l1 1-1 1 0-1zM251 463l7-1 1 1-1 1-7 0-1-1zM357 459l6 2 1 2-1 2-6 1-4-3zM476 469l6-4 4 5 1 7-1 6-4 6-4 1-2 2-2-2-2-7-3-3-2-3 2-5 4-2zM555 469l0 1-1 0zM330 476l1 1-1 0zM509 481l4 2-4 4-3-4zM278 495l0 1 6 4 7 0 6-2 5-2 2 0 1 7-1 1-7 2-6-2-7 3-3 3-2 6 3 7-4 3-7-1-2-2 2-6 1-1 1-6 5-7-1-7zM258 509l3 1-3 0-1 0zM337 508l7 0 0 2-7 5-1-5zM495 509l1 1 6 2 3 4 2 7-1 6 3 3 6 3 3 1-3 1-6 4-3 2-4 3-7 2-6-5 0-7-2-7 2-6 2 0-1-7 5-6zM212 510l1 6-1 1-2-1zM528 511l5 5 2 3 0 4 0 1-6 5-1 7 0-7-2-6 0-7zM396 521l7 2 7-2 2 2 4 4 5 2 2 2 6 3 3 2-3 7-4 6-1 7 2 6 1 7 2 6 2 1-2 0-1 0-5-2-3 2-4 1-6 5 0 1-2 6 2 4 1 2 5 6 0 1-6 4-4 3-3 1-7 0 0-1-2-7 2-5 1-2-1-1-2-5-3-7-1 0-7-2-1-4-4-7 2-7 3-5 1-1 5-7 1-6-2-7 2-4 2-3 1-6zM402 536l1 4 3-4-3-2zM415 536l1 1 1-1-1-1zM205 525l1 4-1 1 0-1zM436 529l1 0-1 1 0-1zM337 540l1 3-1 0zM443 541l0 2 3 6 0 7-3 6-3-6-1-7 2-6zM363 548l4 1-4 7-2-7zM502 555l1 1-1 5-1-5zM363 556l7 2 3 4-3 4-2 3-5 5-3-5 2-7zM436 562l3 0-2 7-1 2-1-2 1-7zM509 560l6-4 5 6-5 5-6-3-7-2zM337 568l7-5 5 6 1 5 3 2-3 0-1 0-5-2-3 2-4 6-7 2-4-2-2-6 6-5 6-2zM482 573l3 3 1 6-4 3-6-3 3-6zM528 575l1 1-1 0-3 0zM225 582l0 1-1-1zM370 587l7 1 0 1 4 6 2 3 2 4-2 3-3 4 3 4 7 1 1 1-1 2-7-1-6 2-6-3 3-6 1-7-5-5-4-2 0-6zM324 595l0 1 0-1zM489 594l4 1-4 1-1-1zM344 600l2 2 0 7-2 2-3 4-4 6-4-6 0-6 4-7 2 0zM515 606l0 3-1 0zM416 614l2 1-2 1-1-1zM449 619l7 3-3 6-4 4-2-4-3-6zM469 622l7 0-7 0zM456 653l0 2 0 1-4-1zM258 660l1 1-1 1-1-1zM416 668l1 0 6 2 6 3 5 2 1 6 1 3 7 2 6-1 6-4-6-4-3-2 3-3 7 0 2 3-1 6 3 7 2 1 7 4 1 1-1 2-7 4-6-2-7 0-6-2-7 1-3-3-4-4-6-2-1 0-6 1-2-1-2-7-2-6 4-7zM469 680l2 1-2 1-2-1zM489 687l0 1 0 6-4-6zM264 696l5 5-1 7-4 1-2-1 0-7zM416 700l2 1-2 2-3-2zM330 707l2 1 5 0 3 6 0 7 1 6-4 4-5 3-2 4-5 3-1 0-1-7 1-3 1-4 0-6-1-4-1-3 1-2 5-4zM396 706l2 2 5 5 7-2 6-1 3-2 4-4 6 1 3 3 0 6-1 7 5 6-2 7-4 7-1 1-2 5-2 7-2 1-7 4-4 1-2 2-2 5-1 7-4 2-5 4-2 4-5-4-1-1-3-5 3-4 3-3 3-6 5-1-5 0-6-3-4-3 4-5 6 0 6 5 1 5 7 0 2-5-2-2-4-5-3-5-5-1 3-7 2-3 3-4 3-6-6-5-7 1-6-3 3-6zM420 721l3 1 3-1-3-2zM449 707l1 1 2 6-3 4-1-4 1-6zM476 703l6 0 2 5-2 6-6 5-7-1-7-2-3-2 3-5 7 1 1-2zM350 712l2 2-2 2-2-2zM370 713l1 1 6 5 6-5 2 0 0 7 3 6 2 3 1 4-1 2-7-1-2-1-4-4-5-3-2-5-1-1 0-7zM443 718l5 3-5 2-4-2zM396 725l3 2-3 2-4-2zM462 727l7-3 2 3-2 2-7-1 0-1zM370 747l1 0 6 2 4 5-4 1-7 3-6 2-1 1-6 0-1-1-1-6 2-1 6-2 7-4zM436 747zM324 751l6 1 4 2 1 6-5 3-6 1-1-4-1-6zM443 759l1 1-1 4-2-4zM436 767l1 0-1 7-7 1 0-1 0-1 7-6zM357 778l6-3 7 0 0 5 0 7 7 4 6 0 7-3 1 5-1 1-7 0-6 3-4 3 1 7-2 6 5 1 5 6-4 6-1 1-6 6-1 2-4-2-3-1-6-5-2-1-5-4-6-2 0-1-4-6 4-6 6-3 3-4 0-7-1-6 1-7zM350 813zM416 780l7-3 4 3-4 3-7-2 0-1zM330 793l1 0 2 7 4 7-2 6-4 7 0 6-1 3-4-3 4-6-6-3-2-4 2-6 0-1 2-6 3-7zM304 798l3 2-3 5-1-5zM390 808l1 5-1 4-1-4zM390 821l2 5 0 7-2 1-3-1-1-7zM363 834l3 6-3 5-3-5zM337 845l4 1-4 3-3-3zM383 869l2 4-2 3-4-3zM337 879l0 2 0-2zM390 878l0 1 0 1-2-1zM350 891l7 1 0 7-7 2-2-2 0-7zM330 894l3 5-3 3-5-3zM390 901l0 5 1 6-1 4-6-4 5-6zM357 958l0 1 0-1z"/>
<path fill="#c40000" d="M575 219l3 0-3 0-1 0zM370 299l1 6-1 1-2-1zM363 317l1 1-1 1-5-1zM377 317l1 1-1 1-1-1zM542 324l3 1-3 0-4 0zM568 321l5 4-5 6 0 6 0-6-5-6zM390 339l6 4 7-2 1 4 6 6 6 6 2 1-2 1-6 5 0 1-4 6 4 5 3 2-3 2-7 3-2 1 2 6 0 1-7 1-3-1-3-2-7-1-4-4-2-6-2 0 2-2 3-5 3-2 5-5-2-6-2-7 2-6zM324 357l1 1-1 2-1-2zM429 357l2 1 5 2 7 4 1 0-1 4-7-1-5-3-2-4-1-2zM304 364l2 0-1 7-1 1-5-1 5-7zM317 369l7-2 3 4 1 7 0 6-2 7-2 1-7 0-3-1 2-7 1-3 2-3-2-4-2-3zM416 384l7-6 4 6 2 3 3 4-3 6 0 6 1 1-1 0-6-3-6-4 0-6-1-5 0-2zM297 389l3 2-3 3-3-3zM350 389l4 2-4 6-2-6zM370 390l0 1 7 4 6 0 7-1 1 3 0 7 0 7 4 6-5 5-4-5 2-6-5-5-1-2-5-6-7 2-4-3 3-6zM304 396l7 1 0 1-7 1-1-2zM337 394l5 3 2 4 1 3 1 7-2 5-4-5-3-5-5-2-1-7zM443 396l1 1 0 7-1 2-5-2 2-7zM317 403l2 1-2 2-1-2zM515 404l4 7-4 4-6-1-3-3 3-2 6-5zM324 407l3 4-3 5-4-5zM469 408l7-1 6 4-6 5-7-4-1-1zM436 414l1 3-1 2-2-2zM304 419l3 5 4 2 5 4 1 4 1 3-1 1-6 0-2-1-5-2-7-1-2-4 2-5 3-1zM555 429l0 1 0 2-2-2zM515 434l1 3-1 0zM482 469l1 1-1 6-2-6zM476 476l4 1-4 1-1-1zM482 479l0 4-2 0zM502 517l1 6 1 6 5 6 3 1-3 2-7 3-2 2-5 3-3-3 3-7-1-7 1-1 5-5zM396 525l7 3 7-1 2 2-2 4-7-3-3 6-4 5-6-5 4-7zM410 539l6 2 5 2-1 6-3 7 6 4 1 2-1 4-5 3-2 1-6-1-6-7 2-6 4-5 2-2-2-2-3-4zM443 547l0 2 0 4-1-4zM390 555l4 1 2 0 4 6 2 7 1 1 7-1 1 7-1 1-7 5-7-2-6-2-4-2-3-4-2-3 2-5 7-1 1-1-1-3-1-3zM515 560l2 2-2 2-3-2zM344 568l0 1 0 1-1-1zM330 575l1 1-1 1 0-1zM403 582l3 7 1 6 0 7-4 3-4-3 1-7-2-6zM337 607l4 2-3 6-1 3-2-3 1-6zM449 622l1 0-1 2 0-2zM416 672l7 0 5 3-1 6-4 2-3-2-4-3-2-3zM449 691l7 0 6 2 2 1-2 2-6 0-7-1-3-1zM476 705l6 0 1 3-1 3-4 3-2 2-4-2 1-6zM337 713l1 1 0 7 0 6-1 1-7 4-2-5 1-6 1-5 2-2zM416 714l7-1 1 1-1 0-7 1 0-1zM416 725l7 0 6-2 4 4-2 7-2 2-2 5-4 5-7-2-6 3-5-6 0-7 5-5 3-2zM363 753l7-4 6 5-6 3-7-1-2-2zM396 754zM403 765l1 2-1 3-2-3zM363 780l1 0 1 7 2 6 1 7-1 7-4 4-6 0-4-4 3-7 0-7 0-6 1-3 5-4zM330 802l2 5-2 4-1-4zM377 819l1 1-1 1-4 5-3 4-7-1-2-3 2-3 7-2 2-1z"/>
<path fill="#800000" d="M568 324l1 1-1 1-1-1zM390 342l3 3 1 6-4 6-2-6 1-6zM410 357l0 1-1 0zM403 363l1 1-1 7 3 7-3 1-7 3-6 1-3 1-4 1 0-1-2-6 2-4 7-1 6 1 5-3 1-7zM324 374l0 4 1 6-1 3-4-3 3-6zM423 384l0 1 0-1zM423 393l2 4-2 2-2-2zM476 409l2 2-2 2-4-2zM515 409l1 2-1 1-3-1zM390 414l1 3-1 2-1-2zM297 429l7-3 7 4 0 1-7 1-7-1 0-1zM502 528l0 1 0 6-1-6zM396 531l1 5-1 1-1-1zM495 541l1 2-1 0zM410 555l1 1 2 6-3 2-2-2 1-6zM396 566l2 3 3 7-5 1-4-1 1-7zM423 674l1 1-1 1-2-1zM476 707l2 1-2 1-1-1zM429 727l1 0-1 1 0-1zM410 732l6-2 7 0 4 4-3 7-1 1-4-1-3-3-3 3-3 2-2-2 0-7zM370 752l2 2-2 1-4-1zM363 792l1 1 1 7-2 4-2-4 1-7z"/>
</g></g>
<use href="#lines"/>
<rect x="79.3" y="52.4" width="243.4" height="458.6" fill="none" stroke="#000" stroke-width="3.3"/>
<path d="M90 511v8.9M200 511v8.9M311.25 511v8.9M79.3 113.25h-8.9M79.3 233.65h-8.9M79.3 354.1h-8.9M79.3 474.5h-8.9" stroke="#000" stroke-width="3.3" fill="none"/>
<g style="font-family:'DejaVu Sans','Liberation Sans',sans-serif" font-size="26.6" fill="#000">
<text x="90" y="555.2" text-anchor="middle">120E</text>
<text x="200" y="555.2" text-anchor="middle">121E</text>
<text x="311.25" y="555.2" text-anchor="middle">122E</text>
<text x="53.4" y="123.45" text-anchor="end">25N</text>
<text x="53.4" y="243.85" text-anchor="end">24N</text>
<text x="53.4" y="364.3" text-anchor="end">23N</text>
<text x="53.4" y="484.7" text-anchor="end">22N</text>
<text x="200.7" y="26" text-anchor="middle" font-size="32"><tspan font-style="italic">N</tspan><tspan dy="4.6" font-size="21" font-style="italic">w</tspan></text>
<text x="364.8" y="46.8" text-anchor="middle" font-size="24.6">(dB<tspan font-style="italic">N</tspan><tspan dy="3.6" font-size="17.2" font-style="italic">w</tspan><tspan dy="-3.6">)</tspan></text>
</g>
<path d="M352.3 73.5L363.85 52.1L375.4 73.5V93.5H352.3z" fill="#800000"/>
<path d="M352.3 490.6L363.85 512L375.4 490.6V470.6H352.3z" fill="#000080"/>
<rect x="352.3" y="73.50" width="23.1" height="52.44" fill="#c40000"/>
<rect x="352.3" y="125.64" width="23.1" height="52.44" fill="#ff5900"/>
<rect x="352.3" y="177.78" width="23.1" height="52.44" fill="#ffd000"/>
<rect x="352.3" y="229.91" width="23.1" height="52.44" fill="#b1ff46"/>
<rect x="352.3" y="282.05" width="23.1" height="52.44" fill="#49ffad"/>
<rect x="352.3" y="334.19" width="23.1" height="52.44" fill="#00c0ff"/>
<rect x="352.3" y="386.33" width="23.1" height="52.44" fill="#0040ff"/>
<rect x="352.3" y="438.46" width="23.1" height="52.14" fill="#0000c8"/>
<path d="M352.3 73.5L363.85 52.1L375.4 73.5L375.4 490.6L363.85 512L352.3 490.6z" fill="none" stroke="#000" stroke-width="3.3" stroke-linejoin="miter"/>
<path d="M375.4 73.50h9.5M375.4 125.64h9.5M375.4 177.78h9.5M375.4 229.91h9.5M375.4 282.05h9.5M375.4 334.19h9.5M375.4 386.33h9.5M375.4 438.46h9.5M375.4 490.60h9.5" stroke="#000" stroke-width="3.3" fill="none"/>
<g style="font-family:'DejaVu Sans','Liberation Sans',sans-serif" font-size="22.1" fill="#000">
<text x="400.8" y="81.80">37.00</text>
<text x="400.8" y="133.94">36.12</text>
<text x="400.8" y="186.08">35.25</text>
<text x="400.8" y="238.21">34.37</text>
<text x="400.8" y="290.35">33.50</text>
<text x="400.8" y="342.49">32.62</text>
<text x="400.8" y="394.63">31.75</text>
<text x="400.8" y="446.76">30.87</text>
<text x="400.8" y="498.90">30.00</text>
</g>
</g>
</svg></body></html>
